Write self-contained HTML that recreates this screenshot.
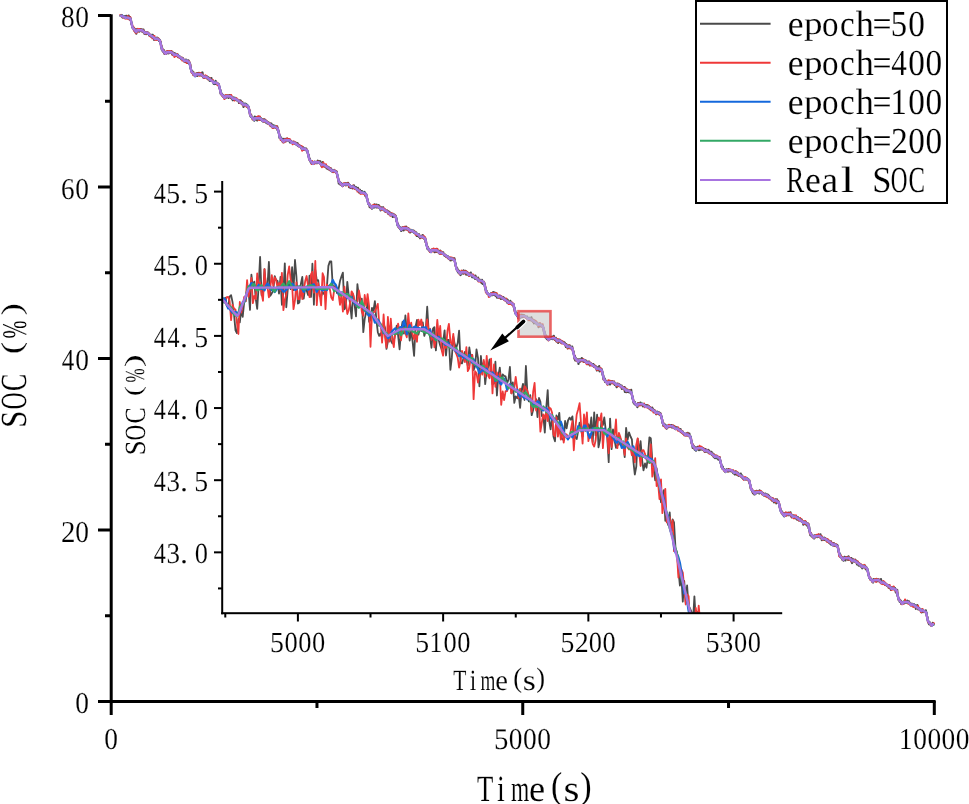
<!DOCTYPE html><html><head><meta charset="utf-8"><style>html,body{margin:0;padding:0;background:#fff;overflow:hidden}svg{display:block}text{font-family:"Liberation Serif",serif;fill:#000;text-rendering:geometricPrecision;stroke:#fff;stroke-width:0.15px}svg{will-change:transform}</style></head><body>
<svg width="969" height="804" viewBox="0 0 969 804">
<rect width="969" height="804" fill="#fff"/>
<path d="M120.2 15.5l0.3 0.4l0.3 -0.4l0.4 -0.4l0.3 0.5l0.3 -0.4l0.3 1.1l0.4 1.2l0.3 -1.5l0.3 0l0.4 1.1l0.3 0l0.3 -0.1l0.4 -0.8l0.3 1.1l0.3 0.9l0.3 -1.6l0.4 0.7l0.3 -1.4l0.3 0.5l0.4 -0.5l0.3 1.5l0.3 -1l0.3 1.5l0.4 0l0.3 -0.2l0.3 -2l0.4 1.9l0.3 0.6l0.3 0.2l0.3 -1.3l0.4 1l0.3 0.7l0.3 1.6l0.4 3.1l0.3 -0.3l0.3 2.2l0.4 2.2l0.3 -0.5l0.3 0.9l0.3 0.5l0.4 0.4l0.3 -0.8l0.3 1.6l0.4 1.5l0.3 -2.2l0.3 2.5l0.3 -0.2l0.4 -0.3l0.3 2.7l0.3 -2l0.4 -2.6l0.3 1.2l0.3 0.4l0.4 -0.7l0.3 0.8l0.3 -0.6l0.3 0.6l0.4 0.7l0.3 -1.9l0.3 0.8l0.4 -0.6l0.3 0.5l0.3 -1.2l0.3 0.6l0.4 0.3l0.3 1.2l0.3 0.4l0.4 -2l0.3 0.7l0.3 1.5l0.3 -2.1l0.4 1.6l0.3 0.8l0.3 1.7l0.4 -0.1l0.3 -1.1l0.3 -0.2l0.4 0.1l0.3 1.6l0.3 -1.8l0.3 0.1l0.4 0.8l0.3 -0.2l0.3 0.2l0.4 -0.6l0.3 1.2l0.3 -0.2l0.3 1.7l0.4 -0.2l0.3 -0.4l0.3 0.8l0.4 -0.6l0.3 1.4l0.3 -0.7l0.3 0.8l0.4 -1.5l0.3 1.7l0.3 -1.6l0.4 -0.1l0.3 1.8l0.3 -0.3l0.4 1.2l0.3 2.2l0.3 -2.3l0.3 0.7l0.4 1l0.3 0.1l0.3 -0.8l0.4 0l0.3 0.8l0.3 -0.2l0.3 -1.4l0.4 1.1l0.3 0.3l0.3 -0.8l0.4 1.5l0.3 -0.8l0.3 1.8l0.4 -0.4l0.3 0.1l0.3 -0.1l0.3 1.9l0.4 -0.3l0.3 2.2l0.3 2.8l0.4 -0.8l0.3 4l0.3 -1.9l0.3 2.6l0.4 -1l0.3 1.8l0.3 -0.2l0.4 -1.1l0.3 2.9l0.3 0.6l0.3 -1l0.4 0.2l0.3 0.5l0.3 -1l0.4 1l0.3 -1.9l0.3 0.5l0.4 -0.7l0.3 0.1l0.3 -0.5l0.3 2.2l0.4 -1.2l0.3 1l0.3 -0.9l0.4 -0.6l0.3 0.3l0.3 -0.2l0.3 0.5l0.4 -0.3l0.3 0.1l0.3 -0.8l0.4 0.8l0.3 2.4l0.3 -1.9l0.4 -0.1l0.3 1.5l0.3 1.3l0.3 -2.1l0.4 1.6l0.3 -0.3l0.3 -1.2l0.4 2.1l0.3 -0.6l0.3 0l0.3 -0.7l0.4 1.2l0.3 -0.7l0.3 0.6l0.4 -0.7l0.3 0.2l0.3 2.5l0.3 -1.4l0.4 0.9l0.3 0l0.3 -0.2l0.4 0.2l0.3 1.2l0.3 -0.6l0.4 0.4l0.3 0.4l0.3 1.2l0.3 -0.2l0.4 0l0.3 -0.6l0.3 -0.5l0.4 2.3l0.3 0.2l0.3 -0.5l0.3 1.1l0.4 0.7l0.3 -0.1l0.3 -0.1l0.4 -1.3l0.3 1.8l0.3 -2.5l0.3 1.9l0.4 -0.2l0.3 0.5l0.3 1.2l0.4 -0.2l0.3 -2.1l0.3 -0.3l0.4 2.5l0.3 -1.4l0.3 1.1l0.3 1.9l0.4 -0.8l0.3 1l0.3 3.6l0.4 1.2l0.3 1.2l0.3 1.1l0.3 -0.4l0.4 -0.2l0.3 1.6l0.3 -0.4l0.4 -0.2l0.3 2.3l0.3 -0.1l0.4 0.8l0.3 -0.8l0.3 0.6l0.3 0.1l0.4 -0.8l0.3 0.2l0.3 -0.9l0.4 1l0.3 0l0.3 1.5l0.3 -3l0.4 2l0.3 -0.9l0.3 0.1l0.4 -1.3l0.3 0.9l0.3 1.1l0.3 -0.8l0.4 0.2l0.3 -0.4l0.3 1.5l0.4 -0.9l0.3 -1.7l0.3 1.6l0.4 -0.9l0.3 -1l0.3 2.7l0.3 2.2l0.4 -0.7l0.3 -0.7l0.3 0l0.4 1.7l0.3 -0.9l0.3 -0.1l0.3 -0.1l0.4 0.1l0.3 0.9l0.3 0l0.4 -0.1l0.3 -0.9l0.3 1.6l0.3 -0.8l0.4 1.8l0.3 -1.9l0.3 1.3l0.4 0.3l0.3 -0.9l0.3 2.9l0.4 0l0.3 -1.5l0.3 1.4l0.3 -0.2l0.4 -2.4l0.3 2.8l0.3 -0.1l0.4 0.4l0.3 -0.8l0.3 1.1l0.3 0.5l0.4 1.7l0.3 -0.5l0.3 -0.5l0.4 1.2l0.3 -1.9l0.3 0.2l0.4 -1.3l0.3 3l0.3 -0.3l0.3 0.2l0.4 0l0.3 -0.3l0.3 0.3l0.4 -0.2l0.3 0.3l0.3 0.5l0.3 1.8l0.4 0.6l0.3 0.8l0.3 1l0.4 1.4l0.3 3.5l0.3 0.3l0.3 0l0.4 0l0.3 -0.3l0.3 1.4l0.4 1.2l0.3 -0.8l0.3 0.6l0.4 0.4l0.3 0.6l0.3 -1.1l0.3 1.6l0.4 -0.8l0.3 0.7l0.3 -1.9l0.4 1.2l0.3 0.9l0.3 -1.7l0.3 -0.2l0.4 0.7l0.3 -0.2l0.3 -0.9l0.4 1.3l0.3 1.4l0.3 -2l0.4 0l0.3 -0.8l0.3 1.3l0.3 -1.4l0.4 0.3l0.3 2.4l0.3 -1.7l0.4 2l0.3 0.6l0.3 -0.9l0.3 0.6l0.4 1.8l0.3 -1.5l0.3 -0.3l0.4 -0.9l0.3 1.2l0.3 1.3l0.3 -0.5l0.4 -1.7l0.3 0.2l0.3 0.5l0.4 1l0.3 -0.3l0.3 0.7l0.4 0.3l0.3 -0.4l0.3 0.5l0.3 0.5l0.4 -0.1l0.3 0.8l0.3 1.4l0.4 -0.9l0.3 -0.2l0.3 -1.4l0.3 2.1l0.4 -1.9l0.3 0.8l0.3 2.2l0.4 0.1l0.3 -0.5l0.3 -1.2l0.3 1.7l0.4 0.2l0.3 1.6l0.3 1.4l0.4 -2l0.3 -1l0.3 -0.3l0.4 1l0.3 -0.1l0.3 -0.8l0.3 1.3l0.4 -0.9l0.3 2.3l0.3 0.2l0.4 0.2l0.3 -1.2l0.3 1.1l0.3 -0.3l0.4 0.9l0.3 1.5l0.3 0.5l0.4 1.4l0.3 3.4l0.3 0.6l0.4 1.1l0.3 1.1l0.3 -2l0.3 1.2l0.4 1.3l0.3 0.5l0.3 -0.3l0.4 1.7l0.3 -0.4l0.3 -0.9l0.3 0.7l0.4 1.9l0.3 -1.1l0.3 -3l0.4 2.9l0.3 -0.7l0.3 0.7l0.3 -1.5l0.4 0l0.3 -0.7l0.3 3.3l0.4 -2.5l0.3 1.6l0.3 -2l0.4 0.7l0.3 -1.6l0.3 1.1l0.3 1.3l0.4 -1.9l0.3 2.3l0.3 -0.4l0.4 -1l0.3 0.7l0.3 0.3l0.3 0.5l0.4 0.1l0.3 0.2l0.3 0.9l0.4 -0.9l0.3 -0.4l0.3 1.1l0.3 0.9l0.4 -2.2l0.3 1.4l0.3 -0.4l0.4 -0.1l0.3 1.9l0.3 -1l0.4 2l0.3 -1.8l0.3 1.3l0.3 -0.4l0.4 -0.2l0.3 1.4l0.3 -0.4l0.4 0.9l0.3 -0.3l0.3 -0.8l0.3 1.2l0.4 0.3l0.3 1.1l0.3 -1.5l0.4 1l0.3 -1.3l0.3 2.4l0.4 -1.2l0.3 -0.2l0.3 2.1l0.3 1.3l0.4 -2.6l0.3 0.2l0.3 0.3l0.4 -0.3l0.3 1.4l0.3 -1.1l0.3 0.3l0.4 1.4l0.3 -1l0.3 1.3l0.4 -1.1l0.3 0.1l0.3 -0.4l0.3 3.6l0.4 -1.5l0.3 2l0.3 1.2l0.4 1.6l0.3 1.3l0.3 3.1l0.4 -1.3l0.3 -0.1l0.3 0.9l0.3 0.1l0.4 2.3l0.3 0.4l0.3 -1.2l0.4 0l0.3 1.3l0.3 2l0.3 -3.4l0.4 3.4l0.3 -1.7l0.3 1l0.4 -2.3l0.3 0.7l0.3 -1.1l0.4 0.5l0.3 2.1l0.3 -0.5l0.3 -1.1l0.4 -0.4l0.3 -0.9l0.3 1.3l0.4 0.4l0.3 -0.1l0.3 0l0.3 -0.9l0.4 0.9l0.3 0.3l0.3 1.4l0.4 0.8l0.3 -1.6l0.3 -0.3l0.3 0.8l0.4 -0.1l0.3 0.3l0.3 1.2l0.4 -0.9l0.3 1.3l0.3 -0.7l0.4 0.3l0.3 -0.4l0.3 -0.5l0.3 -0.1l0.4 0.9l0.3 -0.1l0.3 0.9l0.4 0l0.3 -0.9l0.3 1.5l0.3 -1.1l0.4 0.9l0.3 0.5l0.3 -1.3l0.4 2.1l0.3 0.3l0.3 0l0.3 0l0.4 0.2l0.3 -0.3l0.3 0.9l0.4 0l0.3 0.8l0.3 -1l0.4 1.6l0.3 0.3l0.3 0.3l0.3 0.2l0.4 0.8l0.3 -2.2l0.3 1.8l0.4 -0.2l0.3 0.1l0.3 0.1l0.3 -0.9l0.4 0.6l0.3 1l0.3 0.1l0.4 0l0.3 -1.3l0.3 2l0.4 0.8l0.3 0.1l0.3 0.4l0.3 -0.1l0.4 3.7l0.3 0.4l0.3 -0.7l0.4 4.1l0.3 -0.9l0.3 0.6l0.3 0.9l0.4 2.1l0.3 -1l0.3 0.9l0.4 1.7l0.3 0.3l0.3 -1.2l0.3 0.3l0.4 -0.5l0.3 0.9l0.3 0.1l0.4 -0.9l0.3 -0.2l0.3 0.8l0.4 -1.6l0.3 0.6l0.3 0.7l0.3 -0.1l0.4 0.4l0.3 -0.6l0.3 -0.6l0.4 0.6l0.3 -1.2l0.3 -0.6l0.3 2l0.4 -0.6l0.3 0.5l0.3 -1.6l0.4 1.4l0.3 0.1l0.3 -0.1l0.3 -1l0.4 2l0.3 1.6l0.3 0l0.4 -0.5l0.3 0.3l0.3 0.5l0.4 -3.1l0.3 2.3l0.3 0.6l0.3 0.2l0.4 1.1l0.3 -0.3l0.3 -0.5l0.4 0.2l0.3 0.7l0.3 -1l0.3 0.7l0.4 1.1l0.3 1.1l0.3 -1.6l0.4 0.3l0.3 0.4l0.3 1.3l0.4 -1l0.3 1.6l0.3 -2l0.3 0.9l0.4 0.2l0.3 1.2l0.3 0.4l0.4 -2l0.3 0.9l0.3 1.5l0.3 -0.4l0.4 -0.5l0.3 2.1l0.3 -0.6l0.4 0l0.3 -0.9l0.3 1.3l0.3 -1.1l0.4 1.4l0.3 -1.6l0.3 0.3l0.4 1.2l0.3 -0.6l0.3 1.4l0.4 -0.1l0.3 -0.8l0.3 1.4l0.3 1l0.4 2.6l0.3 0l0.3 1.7l0.4 2.9l0.3 2.3l0.3 0.1l0.3 -1.3l0.4 0.5l0.3 1.6l0.3 -1.1l0.4 -0.4l0.3 1.4l0.3 0.6l0.4 -0.7l0.3 -0.4l0.3 0.6l0.3 1.7l0.4 -2.2l0.3 0.2l0.3 0.3l0.4 0.3l0.3 -0.8l0.3 0.7l0.3 -1.2l0.4 0.5l0.3 -0.6l0.3 1.9l0.4 -1.1l0.3 -0.6l0.3 0.4l0.3 0.1l0.4 0.8l0.3 -2l0.3 0.7l0.4 0.8l0.3 2.9l0.3 -1.2l0.4 -0.8l0.3 1l0.3 1.5l0.3 -1.5l0.4 0.4l0.3 1.4l0.3 -0.8l0.4 0.1l0.3 -1.1l0.3 2.2l0.3 -0.2l0.4 -1l0.3 0.4l0.3 -2.2l0.4 2.6l0.3 -0.5l0.3 0.8l0.3 0.4l0.4 -0.7l0.3 -1l0.3 2.1l0.4 -0.8l0.3 0.6l0.3 0l0.4 0.5l0.3 -1.6l0.3 3.4l0.3 -0.6l0.4 1l0.3 1l0.3 -1.5l0.4 -1.4l0.3 1l0.3 0.2l0.3 1.1l0.4 1l0.3 -1.9l0.3 1.9l0.4 -1.8l0.3 1.7l0.3 -0.4l0.4 -0.2l0.3 0.3l0.3 -0.2l0.3 0.2l0.4 -0.7l0.3 1.7l0.3 1.9l0.4 0.3l0.3 -0.3l0.3 -0.4l0.3 -0.1l0.4 3.4l0.3 0l0.3 1.5l0.4 1.2l0.3 1.8l0.3 0.3l0.3 0.7l0.4 -0.5l0.3 1.1l0.3 2.7l0.4 -1.7l0.3 0.2l0.3 1.1l0.4 0.6l0.3 -1.3l0.3 1.2l0.3 1.4l0.4 -1.4l0.3 -1l0.3 1.3l0.4 -2l0.3 0.7l0.3 -0.6l0.3 1.8l0.4 -3.1l0.3 1.2l0.3 0.1l0.4 1.1l0.3 -0.1l0.3 0.7l0.3 -2.7l0.4 2.1l0.3 -0.9l0.3 -0.2l0.4 1.3l0.3 -1.1l0.3 -0.8l0.4 1.8l0.3 -0.8l0.3 1l0.3 1.4l0.4 0.4l0.3 1.5l0.3 -1.8l0.4 -1.3l0.3 0.7l0.3 -0.2l0.3 -0.3l0.4 1.5l0.3 -0.7l0.3 -1l0.4 2.6l0.3 -0.5l0.3 0.7l0.4 0l0.3 0.7l0.3 -0.3l0.3 1.3l0.4 -0.5l0.3 0.2l0.3 0.2l0.4 -1.4l0.3 1.4l0.3 0.1l0.3 0.6l0.4 -1.1l0.3 2.9l0.3 -1.2l0.4 -0.9l0.3 -0.2l0.3 1.6l0.3 0.7l0.4 -0.1l0.3 0.9l0.3 -0.8l0.4 0.9l0.3 -1.2l0.3 0.7l0.4 0.9l0.3 1.4l0.3 -3l0.3 0.7l0.4 -0.1l0.3 1.7l0.3 -1.5l0.4 0.8l0.3 0.6l0.3 -0.6l0.3 0.5l0.4 1.9l0.3 0l0.3 2l0.4 2.4l0.3 1.9l0.3 1.1l0.4 -1.1l0.3 1.6l0.3 1.5l0.3 0.2l0.4 -0.2l0.3 -0.3l0.3 1.7l0.4 -0.7l0.3 -0.1l0.3 0.7l0.3 2.4l0.4 -1.4l0.3 0l0.3 -1.9l0.4 1.3l0.3 -1.4l0.3 0.4l0.3 2.4l0.4 -1.5l0.3 -1.2l0.3 0.4l0.4 0.4l0.3 0.8l0.3 -1.6l0.4 -1.1l0.3 1.3l0.3 0.3l0.3 0.1l0.4 1.3l0.3 -0.7l0.3 0.7l0.4 -1.5l0.3 2l0.3 1.3l0.3 -0.8l0.4 0l0.3 0.4l0.3 1.5l0.4 -2.6l0.3 0.6l0.3 0.5l0.3 0.3l0.4 -1.1l0.3 0.8l0.3 -0.3l0.4 0.6l0.3 0l0.3 -0.7l0.4 1.2l0.3 1.1l0.3 -1.5l0.3 0.9l0.4 1.1l0.3 -1.4l0.3 1.4l0.4 -0.9l0.3 2.2l0.3 1.3l0.3 0l0.4 -1.8l0.3 1.1l0.3 -0.4l0.4 0.2l0.3 1.6l0.3 -2.4l0.4 2.6l0.3 -0.5l0.3 1.8l0.3 -1.2l0.4 -0.9l0.3 0.7l0.3 0.5l0.4 -0.7l0.3 0.4l0.3 -0.8l0.3 -1.2l0.4 2.9l0.3 0.1l0.3 -0.3l0.4 0.2l0.3 1.1l0.3 -1.2l0.3 0l0.4 1.6l0.3 2.7l0.3 -0.9l0.4 3.8l0.3 -0.2l0.3 1l0.4 3l0.3 -0.9l0.3 -0.7l0.3 1.3l0.4 1.5l0.3 0.6l0.3 -1l0.4 1.1l0.3 0.7l0.3 -0.9l0.3 1.3l0.4 0l0.3 -1.3l0.3 -0.8l0.4 0.5l0.3 0l0.3 -0.5l0.3 0.1l0.4 1.4l0.3 -0.8l0.3 0.6l0.4 0.2l0.3 -0.5l0.3 1.5l0.4 -2.8l0.3 1.5l0.3 -1l0.3 1.9l0.4 0l0.3 -3l0.3 1.1l0.4 1.7l0.3 0.3l0.3 0.2l0.3 -0.5l0.4 0.9l0.3 0.7l0.3 -0.3l0.4 0.8l0.3 -3.1l0.3 2.6l0.4 -1.5l0.3 1.8l0.3 -1.1l0.3 -0.4l0.4 1.4l0.3 -0.9l0.3 0.2l0.4 -0.4l0.3 1.6l0.3 0.7l0.3 0.7l0.4 -0.8l0.3 1.3l0.3 -0.7l0.4 0.2l0.3 0.8l0.3 0.6l0.3 -1l0.4 0.3l0.3 0.3l0.3 0.5l0.4 -0.7l0.3 2l0.3 -1.1l0.4 1.2l0.3 -0.7l0.3 1.5l0.3 0.3l0.4 -0.9l0.3 2l0.3 -1.5l0.4 1.3l0.3 -0.7l0.3 -1.5l0.3 0.5l0.4 0.9l0.3 -0.1l0.3 0.2l0.4 -0.1l0.3 -1.1l0.3 1.6l0.4 -1.5l0.3 2.8l0.3 0.5l0.3 1.4l0.4 1.9l0.3 1.9l0.3 -0.1l0.4 1.1l0.3 1l0.3 -0.5l0.3 1.3l0.4 2.7l0.3 -2l0.3 1.9l0.4 -1.4l0.3 1.9l0.3 -0.2l0.3 0.6l0.4 1l0.3 0.8l0.3 -2.3l0.4 -0.4l0.3 -1l0.3 1.4l0.4 -0.8l0.3 1l0.3 -0.8l0.3 1.6l0.4 -3.3l0.3 1.5l0.3 1l0.4 -1.1l0.3 -0.4l0.3 0.5l0.3 -1l0.4 1.4l0.3 2.3l0.3 -0.9l0.4 -1.8l0.3 0.4l0.3 0.6l0.3 1.5l0.4 -1.3l0.3 0.7l0.3 1.9l0.4 0l0.3 -1.3l0.3 -0.8l0.4 -0.4l0.3 0.8l0.3 -1.4l0.3 2.8l0.4 -1l0.3 1.2l0.3 1.5l0.4 -0.4l0.3 -1.9l0.3 2.1l0.3 0.4l0.4 -1.4l0.3 0l0.3 1l0.4 -1.1l0.3 3l0.3 -3.3l0.4 1.4l0.3 1l0.3 0.3l0.3 0.5l0.4 0.4l0.3 -0.2l0.3 1.4l0.4 -2.7l0.3 2.4l0.3 -0.2l0.3 1.2l0.4 0l0.3 -1.2l0.3 0.2l0.4 1.3l0.3 -0.4l0.3 -0.9l0.3 2.5l0.4 0.5l0.3 -3.2l0.3 1.8l0.4 2.2l0.3 -1.3l0.3 -0.3l0.4 -0.1l0.3 -0.1l0.3 1.4l0.3 1.1l0.4 2.6l0.3 0.5l0.3 1.3l0.4 0.8l0.3 1.9l0.3 -0.4l0.3 1l0.4 1.5l0.3 -0.2l0.3 0.5l0.4 0.3l0.3 0.1l0.3 0.2l0.3 0.2l0.4 1.4l0.3 -1.3l0.3 1.3l0.4 -2l0.3 -0.7l0.3 0.2l0.4 -0.2l0.3 0.8l0.3 -0.8l0.3 1.7l0.4 -1.8l0.3 -1.3l0.3 1.4l0.4 -1.2l0.3 1.8l0.3 1l0.3 -0.4l0.4 -1.8l0.3 0.7l0.3 2.5l0.4 -1.1l0.3 0l0.3 1.1l0.4 1.5l0.3 -0.8l0.3 -0.6l0.3 0.7l0.4 0.6l0.3 -1.2l0.3 -0.6l0.4 1l0.3 -0.9l0.3 0.8l0.3 0.1l0.4 2.2l0.3 -2.6l0.3 0.9l0.4 0.2l0.3 0.7l0.3 0.8l0.3 -1.2l0.4 0l0.3 -0.5l0.3 0.8l0.4 1.6l0.3 -0.2l0.3 -0.8l0.4 0.8l0.3 0.6l0.3 0.7l0.3 -0.8l0.4 0.6l0.3 -1.2l0.3 0.8l0.4 2.7l0.3 -3l0.3 2.1l0.3 1l0.4 -0.3l0.3 -0.6l0.3 0.5l0.4 0.1l0.3 -0.1l0.3 -1.6l0.4 1.5l0.3 -0.4l0.3 0.5l0.3 0.9l0.4 0.6l0.3 0.5l0.3 -1l0.4 1.5l0.3 0.4l0.3 0.5l0.3 1.7l0.4 0l0.3 1.4l0.3 2.4l0.4 -0.6l0.3 2.8l0.3 -0.3l0.3 0.6l0.4 -0.9l0.3 1.2l0.3 1.1l0.4 1.2l0.3 0.5l0.3 -0.6l0.4 0.3l0.3 -0.2l0.3 1.5l0.3 -0.8l0.4 -0.1l0.3 0.6l0.3 -1.6l0.4 -1.3l0.3 0.6l0.3 -0.6l0.3 0.3l0.4 2.2l0.3 -1l0.3 -1.5l0.4 1.9l0.3 0.6l0.3 -1.5l0.3 -0.3l0.4 0.3l0.3 0.6l0.3 0.6l0.4 0.7l0.3 0.2l0.3 0.2l0.4 0.4l0.3 -0.4l0.3 -1.6l0.3 1.7l0.4 1l0.3 -0.7l0.3 1l0.4 -1.2l0.3 -0.5l0.3 2.1l0.3 -0.7l0.4 -0.3l0.3 0.9l0.3 0.3l0.4 -0.4l0.3 -2.3l0.3 1.8l0.4 0.5l0.3 -0.3l0.3 1.3l0.3 1.1l0.4 -1.3l0.3 -0.3l0.3 3.1l0.4 -2l0.3 -0.5l0.3 1.5l0.3 0.4l0.4 -0.8l0.3 1.6l0.3 -0.9l0.4 -0.2l0.3 1.3l0.3 1l0.3 -0.8l0.4 1.3l0.3 -0.4l0.3 2.4l0.4 -3.3l0.3 1.9l0.3 -1.3l0.4 0l0.3 0.8l0.3 0.4l0.3 0.6l0.4 -0.7l0.3 -0.6l0.3 0.3l0.4 1.2l0.3 0.3l0.3 0.9l0.3 0.3l0.4 2l0.3 1.8l0.3 0.2l0.4 0l0.3 1.7l0.3 0.6l0.3 3.1l0.4 -1.8l0.3 2.3l0.3 -0.2l0.4 1.4l0.3 -0.3l0.3 -0.6l0.4 0.3l0.3 0.7l0.3 0.4l0.3 -0.2l0.4 -0.4l0.3 0.6l0.3 -3l0.4 1.8l0.3 -1.1l0.3 1l0.3 0.6l0.4 -0.8l0.3 0.7l0.3 -2.1l0.4 2.4l0.3 -1.5l0.3 1.1l0.4 -0.4l0.3 -2.5l0.3 1.6l0.3 1.1l0.4 1.4l0.3 -0.9l0.3 0.2l0.4 -1.3l0.3 2.8l0.3 0.6l0.3 -1.2l0.4 0.3l0.3 -0.9l0.3 2.1l0.4 1.4l0.3 -1.7l0.3 0.4l0.3 -0.6l0.4 -1.4l0.3 2.3l0.3 -2.1l0.4 1.2l0.3 0.6l0.3 0.8l0.4 -0.2l0.3 0.2l0.3 -0.8l0.3 -0.2l0.4 1.4l0.3 -0.5l0.3 -0.3l0.4 0.3l0.3 0.9l0.3 -1l0.3 0.7l0.4 0l0.3 1.9l0.3 0.4l0.4 1.7l0.3 -3l0.3 1.1l0.4 1.9l0.3 -0.5l0.3 0.1l0.3 1.7l0.4 -2l0.3 -0.8l0.3 -0.1l0.4 1.5l0.3 -0.1l0.3 -1.3l0.3 0.6l0.4 1.6l0.3 0.3l0.3 -0.9l0.4 1.4l0.3 0.1l0.3 -1.9l0.3 1.9l0.4 2.1l0.3 0.5l0.3 0.1l0.4 3.1l0.3 2.3l0.3 2.1l0.4 -3l0.3 4.7l0.3 -3l0.3 2.3l0.4 0.6l0.3 0.2l0.3 -0.4l0.4 -0.8l0.3 2l0.3 -0.8l0.3 -1.2l0.4 4.6l0.3 -2.8l0.3 0.6l0.4 -2.5l0.3 2.2l0.3 0.1l0.3 -0.1l0.4 -1.4l0.3 -1l0.3 0.9l0.4 -1.9l0.3 0.5l0.3 1.6l0.4 -1l0.3 0.8l0.3 0l0.3 1.9l0.4 -0.4l0.3 -0.9l0.3 1.3l0.4 -1.5l0.3 0.6l0.3 1.3l0.3 -1.6l0.4 1.4l0.3 -0.4l0.3 1.3l0.4 1.2l0.3 -2.3l0.3 0.9l0.4 -1l0.3 -0.2l0.3 0l0.3 2.6l0.4 1.1l0.3 -1.5l0.3 -0.8l0.4 1.5l0.3 -0.7l0.3 1.2l0.3 -0.2l0.4 0.2l0.3 0.5l0.3 -0.8l0.4 0.4l0.3 -1l0.3 1.4l0.3 -0.7l0.4 1.4l0.3 -0.5l0.3 1.2l0.4 0.5l0.3 -1.4l0.3 0.8l0.4 0.3l0.3 2l0.3 1.3l0.3 -0.8l0.4 -1.3l0.3 1.6l0.3 -2.7l0.4 2.7l0.3 -1.9l0.3 -1.8l0.3 5.1l0.4 -0.8l0.3 -2.1l0.3 1.3l0.4 -0.1l0.3 0.5l0.3 -1.2l0.3 0.9l0.4 2.2l0.3 1.2l0.3 2.3l0.4 0.5l0.3 3.4l0.3 -1.3l0.4 1.7l0.3 -1.5l0.3 0.9l0.3 2.7l0.4 -1.6l0.3 1.7l0.3 -0.1l0.4 -0.5l0.3 1l0.3 0.2l0.3 0.4l0.4 1.5l0.3 -0.9l0.3 -2l0.4 -0.3l0.3 1.1l0.3 -0.4l0.4 1.1l0.3 1.4l0.3 -1.6l0.3 -0.8l0.4 -0.1l0.3 -0.6l0.3 -0.1l0.4 -0.1l0.3 0.6l0.3 -0.1l0.3 1.1l0.4 -0.9l0.3 0.4l0.3 -0.7l0.4 2.8l0.3 -0.8l0.3 1.4l0.3 -0.7l0.4 1.1l0.3 -1l0.3 1.2l0.4 1.6l0.3 -3.7l0.3 2.2l0.4 0.4l0.3 -1.1l0.3 0.3l0.3 0.6l0.4 -1.5l0.3 1.2l0.3 -0.9l0.4 0.4l0.3 0.3l0.3 0.6l0.3 0.5l0.4 0.5l0.3 -1.5l0.3 3.4l0.4 -0.5l0.3 -0.2l0.3 -0.8l0.4 0.5l0.3 0.8l0.3 0.1l0.3 -1.7l0.4 2.5l0.3 2.2l0.3 -4.1l0.4 2.9l0.3 -0.1l0.3 0.1l0.3 1.6l0.4 -2.6l0.3 1.1l0.3 1.2l0.4 -1.5l0.3 -0.2l0.3 0.5l0.3 -0.3l0.4 2l0.3 -2l0.3 1.8l0.4 -1.7l0.3 2l0.3 -0.5l0.4 -2.1l0.3 3l0.3 0.4l0.3 2l0.4 3.3l0.3 -1l0.3 1.5l0.4 3.6l0.3 -0.8l0.3 1.7l0.3 -0.7l0.4 -0.8l0.3 1.2l0.3 1.5l0.4 0.2l0.3 -0.5l0.3 0.4l0.3 0.3l0.4 -0.1l0.3 2.1l0.3 -2.7l0.4 -1.4l0.3 0.6l0.3 1.1l0.4 -0.1l0.3 -0.7l0.3 -0.5l0.3 0.6l0.4 -1.5l0.3 0.3l0.3 2l0.4 -1.2l0.3 0.8l0.3 0.7l0.3 -0.5l0.4 -0.5l0.3 2.1l0.3 -1.1l0.4 -0.7l0.3 1.2l0.3 0l0.4 -1l0.3 1.2l0.3 0.3l0.3 -1.2l0.4 1.7l0.3 -0.3l0.3 -0.2l0.4 -1.1l0.3 1.2l0.3 0.2l0.3 0.3l0.4 -0.9l0.3 1.8l0.3 -1.5l0.4 1.2l0.3 1.6l0.3 -1.6l0.3 0.4l0.4 1.7l0.3 -1.1l0.3 0.3l0.4 0.7l0.3 1l0.3 -2.8l0.4 1.5l0.3 0.1l0.3 0.1l0.3 0.5l0.4 0.2l0.3 1.3l0.3 -0.9l0.4 1.2l0.3 0.7l0.3 -0.5l0.3 1.2l0.4 1.3l0.3 -1.4l0.3 -0.9l0.4 0.5l0.3 -0.8l0.3 1.1l0.3 0.6l0.4 -1.3l0.3 0.8l0.3 1.4l0.4 -1.2l0.3 0.8l0.3 -0.9l0.4 0.5l0.3 0.5l0.3 3.5l0.3 -0.9l0.4 1.4l0.3 1.4l0.3 1.8l0.4 2.1l0.3 0.5l0.3 2l0.3 -1.3l0.4 1.5l0.3 -0.6l0.3 0.7l0.4 -1.5l0.3 1.6l0.3 0.4l0.4 0.2l0.3 -1.3l0.3 3.1l0.3 -2l0.4 -0.9l0.3 0.2l0.3 0l0.4 0.6l0.3 -1.5l0.3 0.3l0.3 1.1l0.4 -0.1l0.3 -0.5l0.3 -0.2l0.4 -0.2l0.3 0.7l0.3 1.1l0.3 -2l0.4 2.3l0.3 -0.5l0.3 -0.9l0.4 1.3l0.3 -1.8l0.3 0l0.4 0.6l0.3 1.1l0.3 0.5l0.3 0.3l0.4 0.9l0.3 -2.1l0.3 2.1l0.4 -1.7l0.3 0.7l0.3 0.2l0.3 -0.7l0.4 0l0.3 0.6l0.3 1.1l0.4 0.8l0.3 0.2l0.3 -1.2l0.4 0.4l0.3 0.2l0.3 1.4l0.3 -2l0.4 3.2l0.3 -1.3l0.3 -0.1l0.4 1.3l0.3 0.8l0.3 -0.4l0.3 0.9l0.4 -0.6l0.3 1.2l0.3 0.2l0.4 -0.9l0.3 1.7l0.3 -0.7l0.3 0.4l0.4 -0.6l0.3 0.4l0.3 0.7l0.4 -1.8l0.3 1.7l0.3 -0.2l0.4 -0.1l0.3 -2l0.3 2.1l0.3 0.9l0.4 -1.1l0.3 1l0.3 -2l0.4 3l0.3 -1l0.3 1.9l0.3 -1l0.4 3.7l0.3 0.6l0.3 2.4l0.4 -0.1l0.3 1.6l0.3 3l0.3 -2.4l0.4 0.5l0.3 0.8l0.3 -0.3l0.4 2.4l0.3 0.8l0.3 -1.8l0.4 -0.5l0.3 3l0.3 0.3l0.3 -0.5l0.4 -0.5l0.3 -2.3l0.3 0.7l0.4 -1.1l0.3 -0.1l0.3 2.2l0.3 -1.5l0.4 2.7l0.3 -2l0.3 -0.7l0.4 1.3l0.3 0.9l0.3 -1.2l0.4 -1.5l0.3 1.4l0.3 1l0.3 -1.5l0.4 0l0.3 1.8l0.3 -0.5l0.4 -0.9l0.3 0.9l0.3 0l0.3 1.4l0.4 0.3l0.3 1l0.3 -0.6l0.4 -2.1l0.3 1.8l0.3 0.4l0.3 -0.4l0.4 0.6l0.3 -1.2l0.3 -0.1l0.4 1.9l0.3 -1.6l0.3 -0.7l0.4 3.1l0.3 -1.4l0.3 0.6l0.3 -0.7l0.4 0.3l0.3 0.3l0.3 1l0.4 0.9l0.3 -2.2l0.3 3l0.3 -1.5l0.4 0.3l0.3 1.8l0.3 -0.5l0.4 -1.1l0.3 3.3l0.3 -1.9l0.3 1.4l0.4 0.5l0.3 1l0.3 -1.9l0.4 1.2l0.3 -1.5l0.3 1.7l0.4 -1.7l0.3 0.4l0.3 2.3l0.3 -1.2l0.4 0l0.3 2.2l0.3 -1.5l0.4 -0.9l0.3 1.7l0.3 -1.5l0.3 3.2l0.4 1.5l0.3 -0.2l0.3 1.4l0.4 2.2l0.3 1.3l0.3 -0.1l0.4 1.8l0.3 -2l0.3 1.8l0.3 0.5l0.4 0.5l0.3 0.9l0.3 -1l0.4 2l0.3 -0.3l0.3 0l0.3 -0.3l0.4 -0.7l0.3 0.5l0.3 -1.1l0.4 0.9l0.3 0.9l0.3 -0.1l0.3 0.5l0.4 -1.7l0.3 -0.7l0.3 1.9l0.4 -0.6l0.3 0.7l0.3 -1l0.4 1.1l0.3 -0.3l0.3 -0.2l0.3 0l0.4 0.1l0.3 0.1l0.3 0.2l0.4 0.9l0.3 -1.1l0.3 2.3l0.3 -1.2l0.4 1.5l0.3 -0.6l0.3 -0.4l0.4 1.9l0.3 -2.1l0.3 -0.9l0.4 0.5l0.3 0.4l0.3 2.4l0.3 -1.5l0.4 0.9l0.3 -1.5l0.3 1.4l0.4 0.5l0.3 1.3l0.3 -2.1l0.3 1.4l0.4 0l0.3 -1l0.3 1.2l0.4 0l0.3 -1.7l0.3 2.9l0.3 0.2l0.4 -0.7l0.3 -0.5l0.3 2.7l0.4 -0.8l0.3 0.9l0.3 0.7l0.4 -1.3l0.3 1.7l0.3 -0.7l0.3 0l0.4 -0.2l0.3 0l0.3 1l0.4 -0.9l0.3 -0.2l0.3 0.1l0.3 0.8l0.4 -0.9l0.3 0.6l0.3 0.6l0.4 -0.2l0.3 0.6l0.3 -0.2l0.3 2.8l0.4 0.9l0.3 0.6l0.3 1l0.4 3.5l0.3 -0.3l0.3 1l0.4 0.7l0.3 0.4l0.3 1.4l0.3 -0.9l0.4 2.3l0.3 -2.3l0.3 1.8l0.4 -1.1l0.3 2.9l0.3 -1.6l0.3 0.7l0.4 0.6l0.3 -0.6l0.3 -2.5l0.4 0.7l0.3 -0.9l0.3 1.3l0.4 -0.2l0.3 -0.2l0.3 -0.3l0.3 0.3l0.4 -0.4l0.3 1.2l0.3 0.9l0.4 -3.1l0.3 1.6l0.3 -0.3l0.3 0.9l0.4 -1.1l0.3 0.9l0.3 -0.5l0.4 1.8l0.3 -0.3l0.3 -0.1l0.3 0.9l0.4 -0.1l0.3 -0.7l0.3 2l0.4 -0.5l0.3 -0.5l0.3 1.1l0.4 0.2l0.3 -2.1l0.3 0.4l0.3 2.3l0.4 0.1l0.3 -1.7l0.3 -0.2l0.4 0.7l0.3 0.4l0.3 -0.8l0.3 1.7l0.4 -0.9l0.3 0.2l0.3 2.2l0.4 -1.2l0.3 0.8l0.3 0.8l0.4 0.4l0.3 -0.8l0.3 0.6l0.3 -0.6l0.4 2.6l0.3 -0.8l0.3 -1.3l0.4 1.4l0.3 1.1l0.3 0.3l0.3 1.1l0.4 -0.6l0.3 -1.8l0.3 0.5l0.4 -1.1l0.3 1.4l0.3 0l0.3 2.5l0.4 -2.1l0.3 -1.8l0.3 1.5l0.4 0.9l0.3 -1l0.3 0.6l0.4 0.7l0.3 1.8l0.3 0.9l0.3 0.8l0.4 3l0.3 0.2l0.3 1.5l0.4 0l0.3 0.9l0.3 1.7l0.3 -1.6l0.4 1.7l0.3 1.1l0.3 -0.6l0.4 1l0.3 -0.9l0.3 2.6l0.3 0.2l0.4 -0.4l0.3 -2.6l0.3 -0.2l0.4 1.8l0.3 0.6l0.3 -1.2l0.4 0.8l0.3 -1.6l0.3 0.3l0.3 0.2l0.4 0.4l0.3 -1.8l0.3 2.2l0.4 0.4l0.3 -2.2l0.3 -0.2l0.3 1.5l0.4 -0.8l0.3 -1.3l0.3 3.1l0.4 -0.3l0.3 -0.4l0.3 2.6l0.4 -1.6l0.3 -0.3l0.3 1.3l0.3 -0.7l0.4 0.1l0.3 0.8l0.3 -0.8l0.4 0.1l0.3 1.9l0.3 -0.8l0.3 0.2l0.4 0l0.3 0.2l0.3 1.1l0.4 -1.1l0.3 1.9l0.3 -2.3l0.3 0.8l0.4 -0.8l0.3 1.2l0.3 1l0.4 1.1l0.3 -1.7l0.3 0.8l0.4 -0.1l0.3 -0.1l0.3 -0.2l0.3 1.4l0.4 -1.4l0.3 1.9l0.3 0.2l0.4 -0.3l0.3 0.2l0.3 0.1l0.3 3.2l0.4 -3.1l0.3 2.4l0.3 -0.8l0.4 -0.9l0.3 -0.7l0.3 2l0.3 0.8l0.4 -2.2l0.3 0.8l0.3 1.5l0.4 -0.5l0.3 1.8l0.3 -2.1l0.4 1.2l0.3 -1.1l0.3 4.5l0.3 -1.2l0.4 0.1l0.3 3.4l0.3 1.4l0.4 3.2l0.3 -1.7l0.3 0.7l0.3 1l0.4 1.2l0.3 -1.1l0.3 1.4l0.4 -0.1l0.3 -0.3l0.3 0.7l0.4 0.4l0.3 -0.5l0.3 1.7l0.3 -3.2l0.4 1.9l0.3 -0.2l0.3 -1l0.4 -0.6l0.3 0.5l0.3 0.6l0.3 0.3l0.4 -0.4l0.3 0.6l0.3 -1.4l0.4 0.7l0.3 -1.6l0.3 2.1l0.3 -0.6l0.4 -0.5l0.3 1.7l0.3 -0.2l0.4 -2.9l0.3 2.8l0.3 -1.2l0.4 2.5l0.3 1.7l0.3 -2.3l0.3 1.1l0.4 -0.3l0.3 0.4l0.3 0.1l0.4 0.6l0.3 -2l0.3 2.3l0.3 -2.2l0.4 1.3l0.3 1l0.3 -0.1l0.4 -1.3l0.3 0.5l0.3 0.4l0.4 0.6l0.3 1.3l0.3 -2l0.3 1.8l0.4 0.4l0.3 0.2l0.3 0.1l0.4 1.2l0.3 -0.7l0.3 0.6l0.3 -0.1l0.4 1.4l0.3 -3.1l0.3 3.1l0.4 -1.2l0.3 0.5l0.3 -0.2l0.3 -0.3l0.4 1.2l0.3 -0.4l0.3 1l0.4 -1.8l0.3 2.6l0.3 -1l0.4 -0.4l0.3 -0.2l0.3 0.2l0.3 -0.1l0.4 0.7l0.3 0.7l0.3 0.1l0.4 -0.9l0.3 1.3l0.3 0.5l0.3 2.4l0.4 3l0.3 0.3l0.3 0.6l0.4 0.3l0.3 1l0.3 0.1l0.3 2.6l0.4 -1l0.3 1.2l0.3 -0.3l0.4 1.1l0.3 1.5l0.3 -1.5l0.4 0.7l0.3 0l0.3 1.9l0.3 -2.6l0.4 -0.9l0.3 -0.2l0.3 -0.1l0.4 1.7l0.3 1.9l0.3 -3.2l0.3 1.7l0.4 -0.6l0.3 -1.2l0.3 0.7l0.4 0.1l0.3 -0.4l0.3 2.3l0.4 -3.4l0.3 2l0.3 0.1l0.3 -0.6l0.4 0.9l0.3 0.9l0.3 -0.4l0.4 0.4l0.3 0.5l0.3 -2l0.3 3.7l0.4 1.1l0.3 -1.4l0.3 -0.1l0.4 -2.2l0.3 1.1l0.3 -0.6l0.3 0.2l0.4 1.6l0.3 -1.3l0.3 0.8l0.4 -1.4l0.3 1.8l0.3 0.5l0.4 -0.5l0.3 0.2l0.3 2.6l0.3 -2.6l0.4 0.4l0.3 0.4l0.3 2.1l0.4 1l0.3 -1.4l0.3 -0.7l0.3 0.5l0.4 1.6l0.3 -1.6l0.3 2.4l0.4 0.2l0.3 -0.9l0.3 1l0.3 0.6l0.4 1l0.3 -2.6l0.3 1.9l0.4 -1.4l0.3 -0.4l0.3 0.8l0.4 -0.3l0.3 -0.5l0.3 -0.3l0.3 0.8l0.4 2.4l0.3 0.7l0.3 -1l0.4 0.7l0.3 -1.3l0.3 0.9l0.3 1.8l0.4 0.2l0.3 1.5l0.3 2.4l0.4 1.1l0.3 0.7l0.3 1.7l0.4 -0.2l0.3 1.5l0.3 -0.5l0.3 0.1l0.4 0.8l0.3 0.1l0.3 -0.1l0.4 0.7l0.3 1.4l0.3 0.3l0.3 0.3l0.4 -3.5l0.3 0.7l0.3 0l0.4 0.5l0.3 -0.5l0.3 -0.1l0.3 1.2l0.4 -0.6l0.3 -1.2l0.3 2.3l0.4 -0.3l0.3 -1.4l0.3 1.2l0.4 -1.4l0.3 1.7l0.3 -1.2l0.3 -0.3l0.4 0.6l0.3 -0.1l0.3 1.1l0.4 0.2l0.3 0.1l0.3 -0.2l0.3 -2.3l0.4 3.9l0.3 -1.8l0.3 1.8l0.4 0.7l0.3 -0.8l0.3 -0.6l0.4 0.2l0.3 0.1l0.3 -0.1l0.3 0.2l0.4 -0.1l0.3 2.1l0.3 -0.8l0.4 1.1l0.3 -0.9l0.3 0.5l0.3 0l0.4 0.8l0.3 0.6l0.3 -0.3l0.4 -0.6l0.3 0.1l0.3 2.5l0.3 -1.6l0.4 0.3l0.3 1.8l0.3 -0.1l0.4 -0.3l0.3 -0.6l0.3 2.9l0.4 -1.3l0.3 0.6l0.3 -0.7l0.3 -1.3l0.4 0l0.3 1.6l0.3 0l0.4 -0.6l0.3 -0.7l0.3 -0.1l0.3 1.3l0.4 -0.8l0.3 2.3l0.3 0.5l0.4 1.7l0.3 -1.5l0.3 -1.1l0.3 0.8l0.4 -0.8l0.3 4l0.3 1.8l0.4 2.4l0.3 1.2l0.3 0.8l0.4 0l0.3 0.8l0.3 1.1l0.3 -1.9l0.4 1l0.3 -0.5l0.3 3.1l0.4 0.1l0.3 -0.1l0.3 -1.4l0.3 1.7l0.4 -1.3l0.3 -0.5l0.3 -0.3l0.4 0.7l0.3 -0.9l0.3 1.2l0.4 -0.6l0.3 -0.5l0.3 0.2l0.3 -0.3l0.4 1.1l0.3 -1l0.3 0.5l0.4 -0.6l0.3 -1l0.3 2.2l0.3 -1.6l0.4 1.7l0.3 0l0.3 -1.6l0.4 0.9l0.3 0.6l0.3 -0.1l0.3 0.2l0.4 2.2l0.3 -0.5l0.3 0.4l0.4 -0.9l0.3 0.6l0.3 -0.9l0.4 0.6l0.3 0.6l0.3 -0.3l0.3 -0.2l0.4 -0.4l0.3 1.4l0.3 0.4l0.4 -0.3l0.3 -0.3l0.3 1.4l0.3 2l0.4 -2.3l0.3 0.8l0.3 0.3l0.4 -2.4l0.3 2.6l0.3 -0.5l0.3 2.1l0.4 -1.2l0.3 -0.3l0.3 0.8l0.4 0.5l0.3 -0.4l0.3 0.8l0.4 -0.7l0.3 1.5l0.3 1.2l0.3 0.8l0.4 -1.3l0.3 -0.4l0.3 0.9l0.4 -0.2l0.3 0.6l0.3 -0.3l0.3 -0.9l0.4 0.6l0.3 0.1l0.3 0.4l0.4 0.1l0.3 -0.6l0.3 -1l0.4 1.8l0.3 0.2l0.3 3.3l0.3 1.4l0.4 -0.1l0.3 3.6l0.3 1.5l0.4 -0.3l0.3 1.8l0.3 0.6l0.3 -2.4l0.4 2.4l0.3 -0.1l0.3 0.3l0.4 0.9l0.3 -1.1l0.3 0.5l0.3 0.2l0.4 -0.2l0.3 -0.3l0.3 -1.6l0.4 0.3l0.3 1.5l0.3 -0.6l0.4 0.4" fill="none" stroke="#4a4a4a" stroke-width="2.2" stroke-linejoin="round"/>
<path d="M120.2 14.2l0.3 0.9l0.3 0.3l0.4 0.5l0.3 -0.3l0.3 1.2l0.3 -0.6l0.4 0.1l0.3 0.2l0.3 0.6l0.4 -0.7l0.3 1.2l0.3 -0.4l0.4 0l0.3 0.1l0.3 0.6l0.3 0.6l0.4 -0.1l0.3 -0.5l0.3 0.3l0.4 -0.5l0.3 0.8l0.3 -0.9l0.3 -1.4l0.4 2.5l0.3 -0.8l0.3 -0.7l0.4 0.8l0.3 -0.4l0.3 2.2l0.3 -1l0.4 -1.3l0.3 2.5l0.3 0.8l0.4 3.1l0.3 -0.7l0.3 0.6l0.4 3.1l0.3 0.5l0.3 0.4l0.3 -0.9l0.4 2.2l0.3 1.3l0.3 -2.1l0.4 2.5l0.3 -0.8l0.3 2.4l0.3 -0.9l0.4 -0.1l0.3 1.3l0.3 -1.3l0.4 -1.6l0.3 0.9l0.3 -0.8l0.4 -0.9l0.3 2.6l0.3 -1.6l0.3 -0.2l0.4 0.6l0.3 -1.3l0.3 0.2l0.4 0.6l0.3 -0.1l0.3 0.5l0.3 0.7l0.4 -1.1l0.3 0.8l0.3 0.3l0.4 -1l0.3 1.2l0.3 -0.6l0.3 1.6l0.4 -0.2l0.3 0.2l0.3 -0.5l0.4 1.4l0.3 -0.8l0.3 0.9l0.4 -0.6l0.3 -0.5l0.3 1.2l0.3 -0.1l0.4 -0.7l0.3 1.4l0.3 -0.8l0.4 0.2l0.3 0.6l0.3 -0.4l0.3 0.4l0.4 0.5l0.3 1.4l0.3 0.2l0.4 -1l0.3 1.5l0.3 -0.9l0.3 0.5l0.4 0.6l0.3 -0.2l0.3 1.7l0.4 -1.3l0.3 -0.8l0.3 2l0.4 -0.9l0.3 0.4l0.3 -1.4l0.3 3.2l0.4 0.2l0.3 -0.2l0.3 -0.1l0.4 0.5l0.3 -1.2l0.3 0.7l0.3 -1.2l0.4 0.5l0.3 1.2l0.3 -0.2l0.4 -1l0.3 1.4l0.3 -0.2l0.4 -0.2l0.3 1.1l0.3 0l0.3 0.6l0.4 1.7l0.3 3.5l0.3 -0.9l0.4 2.7l0.3 1.6l0.3 0.4l0.3 -0.9l0.4 1l0.3 0.7l0.3 0.9l0.4 -0.7l0.3 0.1l0.3 1.9l0.3 0.4l0.4 -0.1l0.3 -0.3l0.3 0.5l0.4 -1.1l0.3 0.1l0.3 -1.5l0.4 1l0.3 -0.2l0.3 -0.7l0.3 1l0.4 -0.2l0.3 -0.3l0.3 0.6l0.4 -1.3l0.3 1l0.3 0.3l0.3 -0.1l0.4 0.5l0.3 -1.5l0.3 0l0.4 1.4l0.3 0.4l0.3 1.4l0.4 -0.8l0.3 -0.8l0.3 1.5l0.3 -0.7l0.4 0.1l0.3 2.9l0.3 -1.8l0.4 0.2l0.3 -0.1l0.3 0.8l0.3 -1l0.4 0.7l0.3 -1.3l0.3 -0.1l0.4 2.2l0.3 0.3l0.3 -0.4l0.3 0l0.4 0.2l0.3 -0.4l0.3 1.8l0.4 -0.4l0.3 0.1l0.3 0.2l0.4 0.7l0.3 -0.2l0.3 0.4l0.3 -1.1l0.4 1.4l0.3 1.4l0.3 -1.7l0.4 0.5l0.3 1l0.3 0.5l0.3 0.2l0.4 -1.1l0.3 1.5l0.3 -1.4l0.4 0.2l0.3 0.9l0.3 -0.6l0.3 0.8l0.4 1.7l0.3 -1.4l0.3 0.2l0.4 -0.9l0.3 0.4l0.3 -0.1l0.4 0.6l0.3 -0.2l0.3 0.6l0.3 1.4l0.4 0.9l0.3 1.1l0.3 1.5l0.4 2.7l0.3 1.2l0.3 1.5l0.3 0.4l0.4 -0.6l0.3 1.1l0.3 -1.1l0.4 3l0.3 -0.4l0.3 -0.6l0.4 -0.3l0.3 1.5l0.3 -1.2l0.3 1.2l0.4 0.2l0.3 -1.3l0.3 -0.4l0.4 1l0.3 -1.4l0.3 0.9l0.3 -0.5l0.4 -0.3l0.3 0.9l0.3 -1l0.4 2l0.3 -1.7l0.3 1.8l0.3 -2.2l0.4 1.2l0.3 -1.3l0.3 0.1l0.4 1.3l0.3 0.6l0.3 -1.2l0.4 2l0.3 -1.2l0.3 0.9l0.3 0.6l0.4 0.7l0.3 -1.3l0.3 2.2l0.4 -0.9l0.3 -0.7l0.3 -0.4l0.3 -0.5l0.4 0.2l0.3 1.5l0.3 -0.3l0.4 -0.4l0.3 0.7l0.3 1.7l0.3 -1.1l0.4 0l0.3 1.6l0.3 -0.4l0.4 0l0.3 -0.3l0.3 -0.4l0.4 0.5l0.3 0.7l0.3 0.4l0.3 0.6l0.4 0.4l0.3 0l0.3 0.2l0.4 -0.6l0.3 -0.6l0.3 1.5l0.3 0.2l0.4 0.7l0.3 0.5l0.3 -0.9l0.4 0l0.3 0.7l0.3 0.1l0.4 -0.5l0.3 0.8l0.3 -0.3l0.3 -0.4l0.4 1l0.3 1.5l0.3 -1.5l0.4 1.5l0.3 0.3l0.3 0.4l0.3 -1.1l0.4 3.4l0.3 0.1l0.3 1.2l0.4 1.4l0.3 2l0.3 1l0.3 0.2l0.4 1.4l0.3 -1l0.3 0.2l0.4 1.7l0.3 0.3l0.3 0.6l0.4 -1.1l0.3 1.9l0.3 0l0.3 1.3l0.4 -2.4l0.3 0.2l0.3 -0.8l0.4 -0.9l0.3 0.6l0.3 1.3l0.3 -1.1l0.4 -0.2l0.3 1.1l0.3 0.1l0.4 0l0.3 -1.3l0.3 0.5l0.4 0.8l0.3 -1.2l0.3 0l0.3 1.1l0.4 0.7l0.3 -1.6l0.3 -0.8l0.4 1l0.3 0.5l0.3 0.9l0.3 0.8l0.4 0l0.3 0.1l0.3 0.6l0.4 -0.9l0.3 0.5l0.3 -0.4l0.3 2.3l0.4 -1.3l0.3 -1l0.3 0.1l0.4 0.6l0.3 -0.6l0.3 0.8l0.4 0.3l0.3 1.3l0.3 -0.7l0.3 0l0.4 -0.1l0.3 0.3l0.3 1l0.4 0.1l0.3 1.2l0.3 -1l0.3 1.4l0.4 -0.3l0.3 0l0.3 -1.1l0.4 0.7l0.3 1.6l0.3 0.7l0.3 -0.3l0.4 0.8l0.3 -0.3l0.3 -0.1l0.4 -0.4l0.3 1.1l0.3 -0.4l0.4 -0.4l0.3 -0.1l0.3 0.7l0.3 0.1l0.4 -0.6l0.3 2l0.3 -0.8l0.4 0l0.3 1.3l0.3 -0.1l0.3 -0.6l0.4 1.6l0.3 0.3l0.3 1.8l0.4 0.3l0.3 3.8l0.3 -0.7l0.4 2.6l0.3 -0.6l0.3 0.2l0.3 1l0.4 0.7l0.3 0.6l0.3 1.2l0.4 -0.6l0.3 0.8l0.3 -0.7l0.3 1.3l0.4 0l0.3 -1.3l0.3 -0.6l0.4 0.1l0.3 0.1l0.3 0.2l0.3 -0.7l0.4 -0.1l0.3 1l0.3 -1.7l0.4 0.8l0.3 1.5l0.3 -3l0.4 1.4l0.3 1l0.3 -1.7l0.3 3l0.4 -3.5l0.3 3.1l0.3 0.3l0.4 -0.3l0.3 -0.5l0.3 0.6l0.3 -0.6l0.4 1.6l0.3 -0.8l0.3 0.9l0.4 0.7l0.3 -1.6l0.3 0.5l0.3 0.4l0.4 -1.1l0.3 1.8l0.3 -0.4l0.4 -1.1l0.3 1.3l0.3 -0.3l0.4 0.3l0.3 0.8l0.3 -0.4l0.3 1.4l0.4 -0.9l0.3 1.4l0.3 -0.5l0.4 0.9l0.3 -0.8l0.3 0.3l0.3 -0.3l0.4 1.5l0.3 0.5l0.3 1l0.4 -0.3l0.3 -0.5l0.3 -0.1l0.4 0.8l0.3 0.1l0.3 1.6l0.3 -0.2l0.4 -1.4l0.3 -0.1l0.3 1.5l0.4 -0.8l0.3 -0.3l0.3 0.9l0.3 -0.8l0.4 0.3l0.3 0.1l0.3 -0.9l0.4 2.2l0.3 -1.2l0.3 0.7l0.3 0.1l0.4 1.5l0.3 0.9l0.3 1.5l0.4 0.3l0.3 2.5l0.3 0.5l0.4 2.6l0.3 0.4l0.3 0.1l0.3 1.8l0.4 -0.6l0.3 0.4l0.3 0.1l0.4 0.1l0.3 1.2l0.3 0.5l0.3 -1.3l0.4 2l0.3 -0.6l0.3 -0.5l0.4 -0.8l0.3 -1.2l0.3 0.1l0.4 2.1l0.3 -1.1l0.3 -1.2l0.3 1.2l0.4 -0.5l0.3 -1l0.3 -0.3l0.4 0.5l0.3 1.3l0.3 -0.3l0.3 -0.1l0.4 0.4l0.3 0.5l0.3 -1.7l0.4 1.5l0.3 -0.2l0.3 0l0.3 0.7l0.4 0.6l0.3 0.4l0.3 -0.3l0.4 0.7l0.3 1.6l0.3 -2.3l0.4 -0.4l0.3 1.3l0.3 0.3l0.3 0l0.4 -0.9l0.3 1.7l0.3 -1l0.4 0l0.3 0.6l0.3 0.5l0.3 0.8l0.4 0.2l0.3 -0.2l0.3 0.9l0.4 -0.4l0.3 0.8l0.3 -1.4l0.3 0.1l0.4 1.9l0.3 -1.3l0.3 1l0.4 0.4l0.3 -0.1l0.3 0.3l0.4 1.5l0.3 -2.3l0.3 2.9l0.3 1.5l0.4 -1.7l0.3 -0.2l0.3 0.4l0.4 0.8l0.3 -2.1l0.3 0.9l0.3 -0.1l0.4 0.7l0.3 0l0.3 0.5l0.4 -0.5l0.3 0.6l0.3 -0.3l0.4 0.2l0.3 0.6l0.3 1.1l0.3 0.7l0.4 3.4l0.3 0.2l0.3 0.6l0.4 3.2l0.3 -0.5l0.3 1.3l0.3 0l0.4 0.6l0.3 0.3l0.3 -0.1l0.4 0.8l0.3 1.8l0.3 -2.6l0.3 2l0.4 0.6l0.3 -0.6l0.3 -1.1l0.4 1.6l0.3 -1.8l0.3 1.7l0.4 -1l0.3 -0.4l0.3 0.3l0.3 0.1l0.4 0.4l0.3 -0.5l0.3 -0.2l0.4 0l0.3 0.8l0.3 -0.4l0.3 -1.2l0.4 0.2l0.3 0.8l0.3 -0.4l0.4 0.4l0.3 -0.2l0.3 0.7l0.3 0.7l0.4 0.7l0.3 -0.2l0.3 1.9l0.4 -1.1l0.3 2.1l0.3 -1.7l0.4 -0.4l0.3 -0.7l0.3 -1.6l0.3 1.8l0.4 0.5l0.3 1.4l0.3 -2.1l0.4 2.6l0.3 -1.3l0.3 0.9l0.3 -2.1l0.4 2.1l0.3 -0.1l0.3 1l0.4 -0.2l0.3 -0.6l0.3 1.6l0.4 0.1l0.3 0.2l0.3 0.5l0.3 0.3l0.4 -0.6l0.3 -0.7l0.3 0.2l0.4 2.2l0.3 -0.1l0.3 0l0.3 0.1l0.4 0.6l0.3 -0.2l0.3 -0.4l0.4 -0.3l0.3 2l0.3 -1.3l0.3 -0.6l0.4 -0.3l0.3 0.6l0.3 1.3l0.4 0.2l0.3 -0.4l0.3 0.4l0.4 -0.1l0.3 -0.3l0.3 2.2l0.3 0.8l0.4 2.9l0.3 -0.8l0.3 1.9l0.4 2.1l0.3 0.6l0.3 -0.4l0.3 0.7l0.4 1.1l0.3 0.5l0.3 0.1l0.4 1.2l0.3 0.3l0.3 0l0.4 0.1l0.3 0.2l0.3 1l0.3 0l0.4 -1.5l0.3 -0.1l0.3 -0.5l0.4 -0.8l0.3 0.3l0.3 1.2l0.3 -0.2l0.4 0.8l0.3 -1.1l0.3 0.6l0.4 0.3l0.3 -0.2l0.3 -1.2l0.3 0.3l0.4 0.3l0.3 -0.8l0.3 1.3l0.4 0.6l0.3 -0.9l0.3 2l0.4 -1.4l0.3 0.3l0.3 0.3l0.3 0.2l0.4 1.3l0.3 -0.3l0.3 1l0.4 -0.8l0.3 -0.1l0.3 -0.5l0.3 -0.9l0.4 1.1l0.3 -0.3l0.3 1.4l0.4 -0.4l0.3 1.4l0.3 -0.4l0.3 0.3l0.4 -0.2l0.3 0.2l0.3 0.5l0.4 0.5l0.3 -1l0.3 1.1l0.4 1.7l0.3 -1.6l0.3 0.1l0.3 -0.1l0.4 -0.3l0.3 2.1l0.3 -0.6l0.4 0.4l0.3 1.3l0.3 1l0.3 -1.9l0.4 1.8l0.3 -0.4l0.3 -0.3l0.4 -0.1l0.3 -0.3l0.3 1.1l0.4 -0.7l0.3 -0.1l0.3 0.9l0.3 0l0.4 -0.1l0.3 0.1l0.3 1.2l0.4 -0.6l0.3 -0.2l0.3 -0.3l0.3 1.5l0.4 0.9l0.3 2.3l0.3 1.5l0.4 -0.2l0.3 2.9l0.3 1.3l0.3 0l0.4 -0.4l0.3 2l0.3 -1l0.4 0l0.3 0.5l0.3 1.1l0.4 1.1l0.3 0.5l0.3 -0.3l0.3 -0.5l0.4 -0.5l0.3 -1l0.3 0.5l0.4 -1.2l0.3 1.4l0.3 0.3l0.3 -0.5l0.4 0.4l0.3 -1l0.3 -0.3l0.4 0.5l0.3 1.3l0.3 -0.1l0.3 -1.1l0.4 1.2l0.3 -1.1l0.3 1.5l0.4 -0.5l0.3 -0.5l0.3 1.1l0.4 -0.8l0.3 0.1l0.3 -0.1l0.3 1.6l0.4 0.3l0.3 0.4l0.3 -0.5l0.4 1.2l0.3 -1.4l0.3 -0.2l0.3 1.4l0.4 0.1l0.3 -0.5l0.3 -1.3l0.4 1.1l0.3 1l0.3 -0.1l0.4 1.3l0.3 -1.9l0.3 1.7l0.3 -0.7l0.4 1.6l0.3 -0.7l0.3 1l0.4 -1l0.3 -0.3l0.3 0.5l0.3 0.5l0.4 0l0.3 1.8l0.3 0.3l0.4 -0.5l0.3 -0.7l0.3 1l0.3 0.1l0.4 1.9l0.3 -0.5l0.3 -0.1l0.4 -0.8l0.3 -1.1l0.3 0.9l0.4 -0.3l0.3 1.1l0.3 0l0.3 -0.4l0.4 0.5l0.3 1.6l0.3 -1.6l0.4 0.3l0.3 0.7l0.3 -0.1l0.3 0.7l0.4 2.1l0.3 2.3l0.3 -1l0.4 2.6l0.3 1.5l0.3 1.3l0.4 0.3l0.3 0.3l0.3 1.3l0.3 -0.6l0.4 0.6l0.3 0.5l0.3 0.4l0.4 0.2l0.3 1.2l0.3 -0.3l0.3 0.5l0.4 -0.4l0.3 -1.5l0.3 -0.3l0.4 -0.2l0.3 0.9l0.3 -0.6l0.3 -0.3l0.4 0.9l0.3 0.2l0.3 -1.6l0.4 2.4l0.3 -1.1l0.3 -0.1l0.4 0.8l0.3 -0.7l0.3 -0.5l0.3 2l0.4 -2l0.3 0.9l0.3 0.9l0.4 -1.2l0.3 1l0.3 0.5l0.3 1.8l0.4 -1.8l0.3 1.1l0.3 0.5l0.4 -0.6l0.3 -1l0.3 1.1l0.3 -0.2l0.4 0.2l0.3 0.6l0.3 0.2l0.4 -0.2l0.3 0.1l0.3 -0.7l0.4 0.9l0.3 0.4l0.3 -0.2l0.3 0.6l0.4 -0.4l0.3 1.9l0.3 0.6l0.4 -1.5l0.3 0.8l0.3 -0.3l0.3 1.3l0.4 -0.3l0.3 0l0.3 0l0.4 0.4l0.3 -0.5l0.3 1.4l0.4 -0.5l0.3 1.3l0.3 0.2l0.3 0.6l0.4 -0.9l0.3 0.6l0.3 -1.4l0.4 1.1l0.3 -0.6l0.3 0.4l0.3 0.2l0.4 0.8l0.3 -1.9l0.3 1.9l0.4 -1l0.3 2.1l0.3 -2l0.3 0.9l0.4 0.6l0.3 3.8l0.3 -0.6l0.4 2.4l0.3 1l0.3 0.5l0.4 1.9l0.3 1.1l0.3 -0.2l0.3 1.1l0.4 -0.5l0.3 0.7l0.3 0.1l0.4 0.9l0.3 1.4l0.3 -0.6l0.3 0.2l0.4 -0.2l0.3 -0.9l0.3 0.7l0.4 -1.8l0.3 0.1l0.3 0.6l0.3 -0.2l0.4 1.6l0.3 -3l0.3 1.9l0.4 0.3l0.3 -1.3l0.3 0.3l0.4 0.8l0.3 0.8l0.3 -1.8l0.3 -0.5l0.4 2l0.3 0.6l0.3 -1.1l0.4 -1.1l0.3 2.8l0.3 -0.9l0.3 1.1l0.4 -0.3l0.3 0.3l0.3 0.3l0.4 1.1l0.3 -0.2l0.3 -2.5l0.4 0.9l0.3 1.9l0.3 -1.5l0.3 -0.5l0.4 1.2l0.3 0.1l0.3 0.2l0.4 0l0.3 0.3l0.3 0.2l0.3 0.8l0.4 -0.6l0.3 0.6l0.3 0.3l0.4 1.3l0.3 -0.5l0.3 -0.1l0.3 0.7l0.4 0.1l0.3 0.7l0.3 -0.1l0.4 1.1l0.3 -0.1l0.3 -0.7l0.4 0.1l0.3 1.3l0.3 0.3l0.3 -0.2l0.4 -1.2l0.3 -0.4l0.3 1.5l0.4 0.3l0.3 0l0.3 -1.4l0.3 1.8l0.4 -0.9l0.3 0.9l0.3 0.3l0.4 -0.7l0.3 0.4l0.3 -0.8l0.4 1l0.3 -0.1l0.3 3l0.3 1.2l0.4 2l0.3 1.1l0.3 0.7l0.4 2.1l0.3 -0.2l0.3 1.1l0.3 0.2l0.4 -0.5l0.3 1.1l0.3 0.4l0.4 0.1l0.3 1.2l0.3 1l0.3 -1.1l0.4 0.4l0.3 -1.5l0.3 0.6l0.4 -0.6l0.3 -1.2l0.3 1.7l0.4 0.2l0.3 -1l0.3 0.3l0.3 -0.4l0.4 1.2l0.3 -1.6l0.3 0.8l0.4 1.6l0.3 -1.3l0.3 0.3l0.3 -0.5l0.4 -0.7l0.3 1.1l0.3 0.5l0.4 -0.8l0.3 1.2l0.3 0.9l0.3 0.1l0.4 -1.5l0.3 0.9l0.3 0.1l0.4 1.9l0.3 -0.6l0.3 0l0.4 -1.1l0.3 -0.2l0.3 0.9l0.3 0.1l0.4 -0.5l0.3 1l0.3 0.5l0.4 0l0.3 -0.7l0.3 -0.5l0.3 1.5l0.4 0.5l0.3 0l0.3 0.1l0.4 0l0.3 1.2l0.3 -0.3l0.4 0.4l0.3 -0.5l0.3 0.4l0.3 0.8l0.4 -0.6l0.3 0.1l0.3 0.8l0.4 1.4l0.3 -0.3l0.3 1.4l0.3 -0.7l0.4 -0.2l0.3 -0.9l0.3 0.5l0.4 1.4l0.3 -0.8l0.3 0.3l0.3 0.1l0.4 -0.3l0.3 0.1l0.3 0.4l0.4 0.6l0.3 0.1l0.3 0.3l0.4 0l0.3 -0.5l0.3 1.5l0.3 1l0.4 2.8l0.3 -0.8l0.3 2.8l0.4 3.3l0.3 -1.1l0.3 -0.2l0.3 1.2l0.4 1.3l0.3 -0.7l0.3 1l0.4 0l0.3 0.1l0.3 2.8l0.3 -1.8l0.4 0l0.3 0.4l0.3 -0.2l0.4 -0.9l0.3 0.3l0.3 -0.4l0.4 -1.1l0.3 1.3l0.3 -0.6l0.3 0.1l0.4 -0.9l0.3 0.6l0.3 -0.1l0.4 0.5l0.3 -1l0.3 1.1l0.3 0l0.4 -0.8l0.3 0.4l0.3 0.1l0.4 1.5l0.3 -2.2l0.3 1.8l0.4 -0.7l0.3 1l0.3 1.4l0.3 -0.5l0.4 0.9l0.3 -0.9l0.3 1.8l0.4 -0.7l0.3 0.1l0.3 -1.7l0.3 0.1l0.4 1.8l0.3 -0.7l0.3 0.2l0.4 0.6l0.3 -0.9l0.3 1.7l0.3 -0.3l0.4 0.5l0.3 -0.5l0.3 1l0.4 -0.6l0.3 1.4l0.3 0.3l0.4 0.1l0.3 0l0.3 0.3l0.3 -2.1l0.4 2.7l0.3 -0.6l0.3 0.5l0.4 0l0.3 -0.4l0.3 1l0.3 1.3l0.4 0.8l0.3 -1.6l0.3 -0.4l0.4 1.7l0.3 -1.6l0.3 2l0.4 -1.4l0.3 -0.4l0.3 1.5l0.3 0.7l0.4 -1.9l0.3 2.3l0.3 -1.1l0.4 1.5l0.3 -1.1l0.3 -0.3l0.3 2.9l0.4 1.7l0.3 2.3l0.3 1.1l0.4 0.7l0.3 0.7l0.3 0.2l0.3 0.6l0.4 0l0.3 0.8l0.3 -1.2l0.4 2.3l0.3 0.2l0.3 2.2l0.4 -0.9l0.3 -0.5l0.3 1.2l0.3 -1.5l0.4 -0.5l0.3 -1.3l0.3 2.4l0.4 -0.6l0.3 -1.3l0.3 0.8l0.3 0.7l0.4 -0.3l0.3 -0.1l0.3 -0.9l0.4 0.2l0.3 0.5l0.3 0.6l0.3 -1.2l0.4 -0.3l0.3 1.7l0.3 -1.3l0.4 1.7l0.3 -0.4l0.3 0.7l0.4 0.8l0.3 -0.5l0.3 0.4l0.3 -0.7l0.4 0.7l0.3 0.9l0.3 0.5l0.4 -0.2l0.3 0.6l0.3 -1.4l0.3 -0.1l0.4 0.7l0.3 -0.5l0.3 0.2l0.4 -0.5l0.3 1.7l0.3 -1.2l0.4 1.3l0.3 -1.1l0.3 2l0.3 -1.3l0.4 1.6l0.3 -1.5l0.3 1l0.4 1.4l0.3 -1.2l0.3 0.9l0.3 -0.2l0.4 -1l0.3 2l0.3 0.3l0.4 -0.8l0.3 1.4l0.3 -0.5l0.3 0.3l0.4 1.2l0.3 -0.5l0.3 1.9l0.4 -2.8l0.3 1.6l0.3 0.2l0.4 -2.1l0.3 0.3l0.3 1.8l0.3 -0.5l0.4 0.8l0.3 0.8l0.3 -0.9l0.4 -0.2l0.3 -1l0.3 2.3l0.3 0.3l0.4 2.3l0.3 1.4l0.3 0.3l0.4 3.6l0.3 1l0.3 0.7l0.3 -1l0.4 0.9l0.3 0.3l0.3 0.5l0.4 -0.2l0.3 1.5l0.3 0.3l0.4 0.4l0.3 -0.2l0.3 1.7l0.3 -0.4l0.4 -2.9l0.3 0.6l0.3 0.4l0.4 0.7l0.3 -0.9l0.3 0.1l0.3 -0.3l0.4 0.9l0.3 -0.8l0.3 -0.1l0.4 -0.1l0.3 0.9l0.3 -0.7l0.4 -0.8l0.3 1.6l0.3 -1l0.3 0.9l0.4 0.3l0.3 0.8l0.3 0.1l0.4 -0.9l0.3 0.5l0.3 -0.6l0.3 2.6l0.4 -0.4l0.3 1.1l0.3 -1.4l0.4 -1.4l0.3 2.5l0.3 -1l0.3 0l0.4 -0.1l0.3 0.7l0.3 0.1l0.4 -1.3l0.3 2.2l0.3 -1l0.4 0.3l0.3 1.8l0.3 -0.4l0.3 -0.6l0.4 -0.8l0.3 1.6l0.3 0.5l0.4 -0.2l0.3 -0.6l0.3 0.5l0.3 0l0.4 1.2l0.3 0.7l0.3 0.3l0.4 -1l0.3 0.9l0.3 0.6l0.4 -0.3l0.3 0.8l0.3 1.8l0.3 -1.5l0.4 0.3l0.3 -0.9l0.3 0.3l0.4 -1.2l0.3 1.1l0.3 1.1l0.3 0.9l0.4 -0.4l0.3 -0.2l0.3 -0.2l0.4 -0.2l0.3 0.5l0.3 0.8l0.3 -0.5l0.4 2.7l0.3 0.1l0.3 0.8l0.4 2l0.3 1l0.3 1.5l0.4 2.2l0.3 -0.6l0.3 0.7l0.3 1.1l0.4 0.4l0.3 -0.8l0.3 1.6l0.4 -0.2l0.3 0.1l0.3 0.7l0.3 -0.9l0.4 0.2l0.3 -0.4l0.3 0.1l0.4 -0.7l0.3 0.2l0.3 0.7l0.3 0.3l0.4 -0.4l0.3 0.3l0.3 -1.1l0.4 0l0.3 0.5l0.3 -0.5l0.4 -0.1l0.3 1.5l0.3 -1.3l0.3 -0.5l0.4 1.2l0.3 1.2l0.3 -1l0.4 1l0.3 -0.9l0.3 0.2l0.3 0.2l0.4 0.9l0.3 1.8l0.3 -2l0.4 1.7l0.3 -1.9l0.3 0.5l0.4 0.8l0.3 -0.2l0.3 -0.1l0.3 -1.1l0.4 1.6l0.3 -0.7l0.3 2.7l0.4 -1.7l0.3 0.5l0.3 -0.7l0.3 0.7l0.4 -0.4l0.3 1.9l0.3 -0.7l0.4 0.8l0.3 -0.6l0.3 0.3l0.3 1.5l0.4 -1.3l0.3 -0.4l0.3 1.8l0.4 -0.9l0.3 0.7l0.3 1.2l0.4 -0.7l0.3 1.6l0.3 -0.6l0.3 1.5l0.4 -0.3l0.3 -1.4l0.3 0.2l0.4 -0.4l0.3 0.7l0.3 0.8l0.3 -1.6l0.4 1.8l0.3 -1.3l0.3 0.6l0.4 -0.5l0.3 3l0.3 -1.2l0.3 0.3l0.4 0.5l0.3 2.7l0.3 -0.8l0.4 2.9l0.3 3l0.3 -0.4l0.4 1.1l0.3 0.8l0.3 -0.6l0.3 1l0.4 1l0.3 -0.1l0.3 0.5l0.4 -0.1l0.3 0.8l0.3 0.2l0.3 1.4l0.4 -0.1l0.3 -1.6l0.3 -2.4l0.4 2.2l0.3 0.1l0.3 -1.2l0.4 -0.8l0.3 0.6l0.3 1.5l0.3 -1.4l0.4 0.4l0.3 0.5l0.3 0.7l0.4 -0.9l0.3 0l0.3 -0.4l0.3 1.6l0.4 -0.3l0.3 -0.6l0.3 -0.7l0.4 0.7l0.3 1.2l0.3 -0.7l0.3 1.4l0.4 0.1l0.3 0.4l0.3 0.6l0.4 -0.3l0.3 -1.1l0.3 0.4l0.4 1.8l0.3 -2.5l0.3 0.6l0.3 1.2l0.4 -0.6l0.3 -0.2l0.3 -0.1l0.4 1.5l0.3 0.6l0.3 0.4l0.3 -0.7l0.4 1l0.3 -1.3l0.3 1.1l0.4 -0.4l0.3 0.9l0.3 0.6l0.4 0.4l0.3 -1.2l0.3 1.8l0.3 -1l0.4 -0.1l0.3 0.8l0.3 -0.7l0.4 1.4l0.3 0.7l0.3 0.1l0.3 0.8l0.4 -0.8l0.3 0.1l0.3 -1.1l0.4 1.1l0.3 -0.6l0.3 0.2l0.3 0.5l0.4 0.4l0.3 -1l0.3 0.2l0.4 1.1l0.3 0.8l0.3 0.2l0.4 0.6l0.3 0.8l0.3 0.8l0.3 1.1l0.4 0.7l0.3 1.5l0.3 1.8l0.4 1.9l0.3 0.3l0.3 0.3l0.3 0.2l0.4 1l0.3 0.1l0.3 0.4l0.4 0.4l0.3 -0.2l0.3 0l0.3 1.5l0.4 0.3l0.3 -0.6l0.3 -1.1l0.4 1.5l0.3 -2.1l0.3 0.4l0.4 0.3l0.3 -1l0.3 0.9l0.3 1.2l0.4 -0.6l0.3 -0.2l0.3 -0.1l0.4 -0.3l0.3 0.6l0.3 -0.8l0.3 -0.2l0.4 0.4l0.3 0.8l0.3 -0.2l0.4 0.5l0.3 -1.7l0.3 2.5l0.4 1l0.3 -0.3l0.3 -0.7l0.3 0.2l0.4 0.8l0.3 -1.1l0.3 1.1l0.4 -0.9l0.3 1.1l0.3 0.2l0.3 -2.2l0.4 1.8l0.3 -0.5l0.3 -0.2l0.4 0.8l0.3 0.5l0.3 1.1l0.3 -1.6l0.4 2l0.3 0.9l0.3 -0.7l0.4 0.2l0.3 -0.2l0.3 -0.6l0.4 1.4l0.3 0.2l0.3 0.4l0.3 1.6l0.4 -1.1l0.3 0l0.3 1l0.4 -1.8l0.3 0.7l0.3 1l0.3 0.2l0.4 0.9l0.3 -0.9l0.3 1.4l0.4 -0.2l0.3 -0.5l0.3 -0.8l0.3 0.8l0.4 0.3l0.3 -1.1l0.3 1.3l0.4 0.4l0.3 -0.1l0.3 1.2l0.4 0l0.3 -1.2l0.3 1.8l0.3 0.7l0.4 2.4l0.3 0.5l0.3 2.7l0.4 1l0.3 1.3l0.3 -0.4l0.3 -0.6l0.4 2.7l0.3 -1l0.3 1.5l0.4 -0.3l0.3 0.6l0.3 1.2l0.4 -0.7l0.3 1.1l0.3 -1.6l0.3 0.8l0.4 -1.6l0.3 0l0.3 0.1l0.4 0.3l0.3 0.9l0.3 -2.5l0.3 1.4l0.4 -0.6l0.3 1.3l0.3 -1.1l0.4 0.6l0.3 -0.6l0.3 0.8l0.3 0.2l0.4 -1l0.3 0.5l0.3 -0.8l0.4 1.4l0.3 0.6l0.3 -0.7l0.4 1.4l0.3 -2l0.3 0.6l0.3 0.8l0.4 1l0.3 0.2l0.3 -0.3l0.4 0l0.3 0.6l0.3 -0.8l0.3 -0.6l0.4 0.2l0.3 2.6l0.3 -2.9l0.4 1.7l0.3 1.4l0.3 -0.4l0.4 -0.7l0.3 0.8l0.3 0.8l0.3 0.5l0.4 -1.3l0.3 1.4l0.3 -0.1l0.4 0.8l0.3 0.5l0.3 -1l0.3 -0.6l0.4 1.5l0.3 1.2l0.3 -0.5l0.4 -0.1l0.3 1.9l0.3 -1.9l0.3 1.8l0.4 -0.8l0.3 0.3l0.3 -0.2l0.4 1l0.3 -1.7l0.3 0.3l0.4 -0.8l0.3 1.7l0.3 -0.4l0.3 0.8l0.4 -0.8l0.3 0.7l0.3 1.2l0.4 -0.6l0.3 0.8l0.3 0.4l0.3 0.8l0.4 0.6l0.3 3.2l0.3 0.9l0.4 2l0.3 -0.7l0.3 0.6l0.3 0.1l0.4 1.2l0.3 1.8l0.3 0l0.4 0l0.3 0.5l0.3 0.8l0.4 -0.4l0.3 0.9l0.3 0.2l0.3 -1.8l0.4 0.4l0.3 0.8l0.3 -1.3l0.4 0.2l0.3 -0.3l0.3 0.1l0.3 1.1l0.4 -1l0.3 -0.5l0.3 -1.5l0.4 1.8l0.3 -1l0.3 0.1l0.4 1.9l0.3 -0.1l0.3 -1.8l0.3 2.2l0.4 -0.1l0.3 -0.6l0.3 1.3l0.4 -1.5l0.3 0.6l0.3 0.1l0.3 0.8l0.4 1.9l0.3 -1.6l0.3 0l0.4 0l0.3 0.8l0.3 -0.4l0.3 0.9l0.4 -1l0.3 -0.2l0.3 0.8l0.4 0.6l0.3 -0.5l0.3 1.1l0.4 1.3l0.3 -1.4l0.3 0.6l0.3 1.2l0.4 -1.2l0.3 0.1l0.3 0l0.4 1.3l0.3 0.3l0.3 -0.2l0.3 0.3l0.4 1.1l0.3 0l0.3 -1.4l0.4 1.2l0.3 0.3l0.3 0.9l0.3 -0.2l0.4 0.2l0.3 0.1l0.3 -1.1l0.4 1.1l0.3 -0.4l0.3 0.7l0.4 -1l0.3 0.5l0.3 -0.1l0.3 0.1l0.4 1.5l0.3 -0.6l0.3 0.8l0.4 -0.8l0.3 1l0.3 -1l0.3 2l0.4 1.4l0.3 2.2l0.3 1.2l0.4 1.2l0.3 2.1l0.3 0.4l0.4 0.6l0.3 0.6l0.3 -0.2l0.3 0.2l0.4 0.8l0.3 -0.1l0.3 0.9l0.4 0.9l0.3 0.2l0.3 -0.5l0.3 -0.2l0.4 0l0.3 -0.9l0.3 0.9l0.4 -1.1l0.3 0.1l0.3 0.7l0.3 -0.9l0.4 0.3l0.3 1.3l0.3 -0.2l0.4 -0.6l0.3 -0.2l0.3 -0.9l0.4 1.1l0.3 -0.4l0.3 0.1l0.3 -0.4l0.4 0.6l0.3 0.1l0.3 0.6l0.4 1l0.3 -0.5l0.3 -1.2l0.3 1l0.4 0l0.3 1l0.3 0.7l0.4 -0.3l0.3 -0.7l0.3 0.6l0.4 -0.7l0.3 -0.5l0.3 0.3l0.3 0.6l0.4 1.8l0.3 -1.7l0.3 2l0.4 0.3l0.3 -0.8l0.3 0.3l0.3 -0.2l0.4 0.7l0.3 0.7l0.3 -0.2l0.4 0.9l0.3 0.3l0.3 -0.3l0.3 0.2l0.4 -0.1l0.3 0.6l0.3 -0.8l0.4 1.3l0.3 0l0.3 -0.3l0.4 2.5l0.3 -1.7l0.3 0.4l0.3 0.6l0.4 -1.8l0.3 0.8l0.3 -0.5l0.4 0.4l0.3 0.6l0.3 0.5l0.3 0.8l0.4 0l0.3 0.5l0.3 -0.2l0.4 -0.5l0.3 1.3l0.3 -0.9l0.3 0.5l0.4 2.9l0.3 0.9l0.3 1.1l0.4 1.8l0.3 1.5l0.3 -0.2l0.4 1.3l0.3 -0.4l0.3 1.3l0.3 -0.2l0.4 1.8l0.3 -0.2l0.3 -0.5l0.4 0.9l0.3 -0.4l0.3 1.2l0.3 0.8l0.4 -0.5l0.3 -2.4l0.3 0.7l0.4 0.6l0.3 -0.1l0.3 0.6l0.4 -1.7l0.3 1.2l0.3 -0.8l0.3 0.6l0.4 0.1l0.3 0.2l0.3 -0.8l0.4 0.5l0.3 -1l0.3 -0.1l0.3 1.4l0.4 -0.2l0.3 -0.9l0.3 0.8l0.4 0.8l0.3 1.3l0.3 -0.1l0.3 0.1l0.4 -1.3l0.3 1.7l0.3 0.4l0.4 -0.2l0.3 -0.1l0.3 -0.4l0.4 1.4l0.3 -0.2l0.3 -1.1l0.3 -0.3l0.4 2.3l0.3 -1.6l0.3 1.5l0.4 0.7l0.3 -1.8l0.3 1.1l0.3 -0.2l0.4 0.8l0.3 0.1l0.3 1.4l0.4 -0.7l0.3 -0.2l0.3 1l0.4 -0.8l0.3 0.2l0.3 2.1l0.3 -2l0.4 0.5l0.3 0.6l0.3 -0.5l0.4 -0.3l0.3 2.7l0.3 -0.8l0.3 0.1l0.4 -0.1l0.3 -0.5l0.3 -0.1l0.4 0.9l0.3 1.6l0.3 -1.1l0.3 0.2l0.4 -1.3l0.3 1.2l0.3 -0.5l0.4 1.5l0.3 -0.4l0.3 0.4l0.4 0.1l0.3 0.8l0.3 0.8l0.3 2.9l0.4 0l0.3 1.6l0.3 2.1l0.4 0.5l0.3 1.1l0.3 0.9l0.3 -0.1l0.4 0.3l0.3 0.3l0.3 0.9l0.4 -1.5l0.3 2l0.3 -0.6l0.3 0.2l0.4 1.3l0.3 -1.2l0.3 -0.1l0.4 0.3l0.3 -2.4l0.3 1.6l0.4 1.4l0.3 -0.7l0.3 0.4l0.3 -1l0.4 -1l0.3 0.2l0.3 1.3l0.4 0.1l0.3 -1.2l0.3 0.4l0.3 0.3l0.4 -1.2l0.3 1.2l0.3 1.6l0.4 0.6l0.3 -1.4l0.3 1.6l0.4 -1.4l0.3 0.3l0.3 -0.5l0.3 2.6l0.4 -1.2l0.3 1.8l0.3 -1.4l0.4 -0.1l0.3 -1.4l0.3 2.3l0.3 -1.1l0.4 0.3l0.3 -1.2l0.3 2.5l0.4 0.2l0.3 -0.9l0.3 0.8l0.3 0.4l0.4 0.6l0.3 -0.3l0.3 1.3l0.4 -1.1l0.3 -0.1l0.3 0.4l0.4 -1.3l0.3 1.5l0.3 1.5l0.3 -0.3l0.4 -0.5l0.3 1l0.3 -1.4l0.4 1.6l0.3 1l0.3 0.6l0.3 -0.8l0.4 1l0.3 0.5l0.3 -1.6l0.4 0.8l0.3 -1.6l0.3 -0.3l0.3 2l0.4 -0.2l0.3 0.4l0.3 -0.3l0.4 0.4l0.3 1l0.3 0.8l0.4 -1.1l0.3 -0.5l0.3 3.5l0.3 1l0.4 1.5l0.3 1.1l0.3 2.9l0.4 -0.2l0.3 0.7l0.3 -1.3l0.3 1.3l0.4 0.3l0.3 0.8l0.3 0.7l0.4 -0.4l0.3 2.1l0.3 -1.5l0.4 0.8l0.3 0.8l0.3 -1.2l0.3 0.4l0.4 -0.4l0.3 -0.6l0.3 1.5l0.4 -1.3l0.3 0.2l0.3 -0.9l0.3 -0.5l0.4 0.7l0.3 0.2l0.3 -0.1l0.4 0.9l0.3 -2.2l0.3 0.9l0.3 -0.5l0.4 2.2l0.3 -1.1l0.3 0.3l0.4 -0.2l0.3 1.6l0.3 -0.7l0.4 0.7l0.3 -1.2l0.3 2.7l0.3 0l0.4 0.1l0.3 0.3l0.3 -1.1l0.4 0l0.3 0.6l0.3 -0.2l0.3 -0.4l0.4 0.5l0.3 -0.2l0.3 1.1l0.4 0.4l0.3 -0.4l0.3 1.5l0.4 -2.2l0.3 1.2l0.3 1.6l0.3 -1.3l0.4 -0.6l0.3 2.3l0.3 -0.3l0.4 -1l0.3 1.6l0.3 -1.1l0.3 0.1l0.4 1l0.3 0l0.3 -0.2l0.4 0.8l0.3 0l0.3 1.2l0.3 0.4l0.4 0.5l0.3 -1.1l0.3 -0.6l0.4 0l0.3 0.7l0.3 1.3l0.4 -0.4l0.3 -0.8l0.3 1.3l0.3 -1.3l0.4 1.8l0.3 -0.8l0.3 1.1l0.4 0.1l0.3 -0.4l0.3 1.5l0.3 0.5l0.4 2.1l0.3 2.3l0.3 3.5l0.4 -0.9l0.3 0.4l0.3 -0.4l0.3 1.8l0.4 -1.5l0.3 1l0.3 1.2l0.4 -0.7l0.3 2.3l0.3 0.1l0.4 -0.8l0.3 0.4l0.3 -0.2l0.3 -0.9l0.4 0.5l0.3 0.1l0.3 -0.2l0.4 -0.1l0.3 -0.5l0.3 0.6l0.3 -1.3l0.4 1.1l0.3 1l0.3 -0.1l0.4 -1.3l0.3 0.1l0.3 1.2l0.4 0.3l0.3 -2.3l0.3 0.9l0.3 0.7l0.4 0.9l0.3 -1.2l0.3 1.3l0.4 -0.5l0.3 2.1l0.3 -0.9l0.3 0.1l0.4 0.3l0.3 0.8l0.3 -0.5l0.4 -1.2l0.3 0.9l0.3 -1.1l0.3 0.4l0.4 -0.2l0.3 0.2l0.3 0.7l0.4 0l0.3 1.3l0.3 0.4l0.4 -0.5l0.3 -0.4l0.3 1.6l0.3 -1.7l0.4 0.2l0.3 2.1l0.3 0.2l0.4 0.5l0.3 -0.6l0.3 -0.5l0.3 0.7l0.4 1l0.3 -0.7l0.3 0.3l0.4 -0.3l0.3 0.5l0.3 1.9l0.3 0.2l0.4 -0.9l0.3 -0.1l0.3 0.2l0.4 0.8l0.3 -1.2l0.3 0.7l0.4 -1.4l0.3 0.8l0.3 1.4l0.3 0.6l0.4 -1.2l0.3 0.4l0.3 1.4l0.4 -0.6l0.3 0.1l0.3 1.3l0.3 1.2l0.4 2l0.3 1.3l0.3 0.4l0.4 1.8l0.3 1.4l0.3 -0.5l0.4 0.6l0.3 1.8l0.3 -1.4l0.3 2.2l0.4 -0.2l0.3 0.1l0.3 0.9l0.4 0.3l0.3 0.9l0.3 -0.7l0.3 -0.1l0.4 -0.9l0.3 1.1l0.3 -0.7l0.4 -1.3l0.3 0.4l0.3 -0.2l0.3 0.5l0.4 0.1l0.3 1.5l0.3 -2.9l0.4 2l0.3 -0.4l0.3 -0.8l0.4 0.3l0.3 -0.2l0.3 0.4l0.3 0.9l0.4 -1.5l0.3 2.2l0.3 -1l0.4 1.6l0.3 -0.6l0.3 0.9l0.3 0.1l0.4 0.8l0.3 -0.7l0.3 -0.8l0.4 1l0.3 0l0.3 1l0.4 -2.9l0.3 1.4l0.3 1.1l0.3 -1.4l0.4 0.9l0.3 1.9l0.3 -0.3l0.4 -1.3l0.3 1.8l0.3 0.1l0.3 -0.1l0.4 0l0.3 0.1l0.3 -0.6l0.4 0.5l0.3 1.1l0.3 -0.2l0.3 1.5l0.4 -1.3l0.3 -1.3l0.3 1.7l0.4 0.7l0.3 0.3l0.3 0.2l0.4 -0.1l0.3 2.1l0.3 -1.6l0.3 0.8l0.4 -0.8l0.3 -0.6l0.3 1.8l0.4 -2.8l0.3 1.3l0.3 1.1l0.3 -0.3l0.4 1l0.3 -0.4l0.3 0l0.4 2l0.3 -1.4l0.3 0.3l0.3 0.5l0.4 1.6l0.3 2.4l0.3 1.4l0.4 1.1l0.3 0.9l0.3 1.8l0.4 -1.3l0.3 1.4l0.3 0.4l0.3 0l0.4 1.1l0.3 -0.2l0.3 0.3l0.4 2.2l0.3 -0.4l0.3 0.7l0.3 -0.4l0.4 -0.2l0.3 -1l0.3 0.3l0.4 0.8l0.3 -1.8l0.3 0.4l0.4 -0.3l0.3 -2.4l0.3 1.5l0.3 1l0.4 0.4l0.3 -0.8l0.3 1.2l0.4 0.1l0.3 -1.2l0.3 1.3l0.3 0.3l0.4 -0.6l0.3 -0.8l0.3 1.9l0.4 -0.9l0.3 0.1l0.3 0.6l0.3 0l0.4 1.6l0.3 0.2l0.3 0.1l0.4 -0.6l0.3 -1l0.3 0.4l0.4 0.8l0.3 -0.9l0.3 2.5l0.3 -2l0.4 0l0.3 1.4l0.3 0l0.4 -0.3l0.3 0.1l0.3 0.6l0.3 0.6l0.4 0.1l0.3 -0.5l0.3 0.8l0.4 0.5l0.3 0.1l0.3 -2.4l0.3 1.7l0.4 0.4l0.3 0.6l0.3 0.5l0.4 0.7l0.3 0l0.3 -0.1l0.4 0.6l0.3 1.6l0.3 -1.4l0.3 0.5l0.4 0.7l0.3 -0.9l0.3 -1.6l0.4 1.7l0.3 -0.6l0.3 0.4l0.3 1.1l0.4 -0.2l0.3 -0.3l0.3 1l0.4 -0.1l0.3 0l0.3 0.4l0.4 0.5l0.3 1l0.3 1.4l0.3 1.7l0.4 0.8l0.3 1.2l0.3 3.2l0.4 -0.7l0.3 0.5l0.3 0.3l0.3 0.5l0.4 0.4l0.3 0.4l0.3 -0.2l0.4 1.6l0.3 -0.8l0.3 1.6l0.3 -1.6l0.4 0.3l0.3 0.6l0.3 -1.2l0.4 -0.4l0.3 0.7l0.3 -1l0.4 0.8" fill="none" stroke="#ef3838" stroke-width="2.2" stroke-linejoin="round"/>
<path d="M120.2 15l0.3 0.5l0.3 0.4l0.4 0l0.3 0.3l0.3 -0.1l0.3 0l0.4 -0.5l0.3 0.4l0.3 0.4l0.4 0.4l0.3 -0.2l0.3 0l0.4 0.4l0.3 0.3l0.3 0.7l0.3 0l0.4 -0.4l0.3 -0.2l0.3 -0.1l0.4 0.3l0.3 0.1l0.3 0l0.3 0.3l0.4 -0.1l0.3 0l0.3 0l0.4 0.1l0.3 0.4l0.3 0.2l0.3 0.2l0.4 0l0.3 1l0.3 1.4l0.4 1.5l0.3 1.3l0.3 1.6l0.4 1.2l0.3 0.8l0.3 0.4l0.3 0.4l0.4 0.3l0.3 0.3l0.3 0.6l0.4 0.3l0.3 0.5l0.3 0.5l0.3 0.6l0.4 0.1l0.3 0.2l0.3 -0.8l0.4 -0.6l0.3 0.1l0.3 -0.1l0.4 0.1l0.3 -0.2l0.3 -0.1l0.3 -0.1l0.4 0l0.3 0.2l0.3 0.1l0.4 -0.1l0.3 -0.1l0.3 0l0.3 -0.2l0.4 -0.1l0.3 0l0.3 0.4l0.4 0.3l0.3 0.3l0.3 0.2l0.3 0.3l0.4 0.3l0.3 0.4l0.3 0.4l0.4 0.2l0.3 0.3l0.3 -0.3l0.4 0.1l0.3 -0.2l0.3 0l0.3 0.1l0.4 0.4l0.3 0.3l0.3 0.3l0.4 0.2l0.3 0l0.3 0.4l0.3 0.2l0.4 0.5l0.3 -0.2l0.3 0.3l0.4 0.1l0.3 0.3l0.3 0.4l0.3 0.3l0.4 0.3l0.3 -0.1l0.3 0.3l0.4 0.4l0.3 0.3l0.3 0.3l0.4 0.2l0.3 0.1l0.3 0.2l0.3 0.2l0.4 0.4l0.3 0.1l0.3 0.1l0.4 -0.2l0.3 -0.3l0.3 0.1l0.3 0.1l0.4 0.2l0.3 0.1l0.3 0.1l0.4 0.3l0.3 0.2l0.3 0.6l0.4 0l0.3 0l0.3 0.4l0.3 1.6l0.4 1.6l0.3 1.5l0.3 1.7l0.4 1.6l0.3 1.2l0.3 0.1l0.3 0.4l0.4 0.5l0.3 0.6l0.3 0.4l0.4 0.4l0.3 0.1l0.3 0.2l0.3 0.3l0.4 0.3l0.3 0.3l0.3 0l0.4 -0.8l0.3 -0.3l0.3 -0.2l0.4 -0.2l0.3 0.3l0.3 -0.3l0.3 0.1l0.4 -0.1l0.3 0.1l0.3 0.2l0.4 0.1l0.3 0.1l0.3 -0.1l0.3 -0.4l0.4 0.2l0.3 0.1l0.3 0.4l0.4 0.3l0.3 0.3l0.3 0.4l0.4 0.1l0.3 0l0.3 0.2l0.3 0.5l0.4 0.4l0.3 0.2l0.3 -0.2l0.4 0.1l0.3 -0.3l0.3 0l0.3 0l0.4 0.2l0.3 0.2l0.3 -0.1l0.4 0.5l0.3 0l0.3 0.2l0.3 -0.1l0.4 0.3l0.3 0.6l0.3 0.2l0.4 0.4l0.3 0l0.3 0.7l0.4 0.3l0.3 0.7l0.3 -0.3l0.3 0.3l0.4 -0.2l0.3 0.4l0.3 0.2l0.4 0.2l0.3 0l0.3 0.2l0.3 0.5l0.4 0.5l0.3 -0.1l0.3 -0.1l0.4 0l0.3 0.2l0.3 0l0.3 -0.1l0.4 0.1l0.3 0.3l0.3 0.2l0.4 0.4l0.3 0.4l0.3 0.4l0.4 0.1l0.3 0.4l0.3 0.3l0.3 1.1l0.4 1.2l0.3 1.3l0.3 1.4l0.4 1.5l0.3 1.3l0.3 0.8l0.3 0.3l0.4 0.2l0.3 0.4l0.3 0.1l0.4 1l0.3 0.6l0.3 0.9l0.4 0.1l0.3 0.3l0.3 0.4l0.3 0.5l0.4 -0.9l0.3 -1.1l0.3 -0.1l0.4 -0.2l0.3 -0.1l0.3 -0.2l0.3 0.1l0.4 0.4l0.3 -0.1l0.3 0.2l0.4 0.1l0.3 0.1l0.3 -0.3l0.3 -0.2l0.4 0.2l0.3 0l0.3 0l0.4 0.1l0.3 0l0.3 0.4l0.4 0.3l0.3 0.6l0.3 0.3l0.3 0.4l0.4 0.6l0.3 0.2l0.3 -0.3l0.4 -0.4l0.3 0l0.3 0.3l0.3 0.3l0.4 0l0.3 0l0.3 -0.2l0.4 0.2l0.3 0.5l0.3 0.4l0.3 0.3l0.4 -0.1l0.3 0.3l0.3 0.3l0.4 0.3l0.3 0.1l0.3 0.4l0.4 0.2l0.3 0.5l0.3 0.2l0.3 0.2l0.4 0.1l0.3 0.1l0.3 0.1l0.4 0l0.3 0.1l0.3 0.6l0.3 0.5l0.4 0.7l0.3 0.3l0.3 -0.7l0.4 -0.2l0.3 -0.4l0.3 0.5l0.4 -0.1l0.3 0.2l0.3 0.4l0.3 0.1l0.4 0.3l0.3 0l0.3 0.2l0.4 0.3l0.3 0.2l0.3 0.4l0.3 0.4l0.4 1.9l0.3 1.4l0.3 1.3l0.4 0.8l0.3 1.5l0.3 1.5l0.3 0.5l0.4 0.3l0.3 0.5l0.3 0.4l0.4 0.3l0.3 0.2l0.3 0.4l0.4 0.7l0.3 0.6l0.3 0.4l0.3 0.2l0.4 -0.2l0.3 -0.6l0.3 -0.5l0.4 0.1l0.3 -0.2l0.3 -0.1l0.3 0l0.4 -0.1l0.3 0.1l0.3 0l0.4 0.2l0.3 0.2l0.3 -0.1l0.4 -0.1l0.3 0.1l0.3 -0.1l0.3 0l0.4 0l0.3 0.5l0.3 0.2l0.4 0.2l0.3 0.3l0.3 0.3l0.3 0.3l0.4 0.4l0.3 0.3l0.3 0l0.4 -0.2l0.3 -0.3l0.3 0.2l0.3 0.3l0.4 0.4l0.3 0.1l0.3 -0.1l0.4 0.2l0.3 -0.1l0.3 0.4l0.4 0.2l0.3 0.2l0.3 0.4l0.3 0l0.4 0.3l0.3 0l0.3 0.3l0.4 0.2l0.3 0.5l0.3 0.3l0.3 0.1l0.4 0l0.3 0l0.3 0.3l0.4 0.1l0.3 0.3l0.3 0.4l0.3 0.4l0.4 0.3l0.3 0.6l0.3 0l0.4 -0.2l0.3 0l0.3 0.4l0.4 -0.1l0.3 -0.4l0.3 -0.1l0.3 0.3l0.4 0.4l0.3 0.1l0.3 0.5l0.4 -0.1l0.3 -0.1l0.3 0l0.3 0.8l0.4 1.4l0.3 1.4l0.3 1.3l0.4 1.6l0.3 1.6l0.3 1.3l0.4 0.8l0.3 0.6l0.3 0.5l0.3 0.4l0.4 0.2l0.3 0.3l0.3 0.2l0.4 0.4l0.3 0.4l0.3 0.5l0.3 0.5l0.4 0.5l0.3 -0.7l0.3 -1.2l0.4 0l0.3 -0.2l0.3 0.1l0.3 -0.2l0.4 0.2l0.3 0.3l0.3 0l0.4 -0.4l0.3 -0.1l0.3 0.1l0.4 0.4l0.3 -0.3l0.3 -0.2l0.3 -0.2l0.4 0.3l0.3 0.5l0.3 0.4l0.4 0.5l0.3 0.2l0.3 0l0.3 -0.3l0.4 0.6l0.3 0.7l0.3 0.6l0.4 -0.1l0.3 -0.3l0.3 0.3l0.3 -0.2l0.4 -0.1l0.3 -0.3l0.3 -0.1l0.4 0.1l0.3 0.4l0.3 0.6l0.4 0.7l0.3 0.2l0.3 0.1l0.3 -0.3l0.4 0.4l0.3 0.4l0.3 0.3l0.4 0.1l0.3 0.3l0.3 0l0.3 0.3l0.4 0.1l0.3 0.5l0.3 0l0.4 0.5l0.3 0.5l0.3 0.6l0.4 -0.1l0.3 0.2l0.3 0.3l0.3 0.2l0.4 -0.2l0.3 -0.5l0.3 0.4l0.4 0.3l0.3 0.3l0.3 -0.2l0.3 0l0.4 0.1l0.3 0.2l0.3 0.2l0.4 0.5l0.3 0l0.3 0.2l0.3 0.3l0.4 0.6l0.3 1.6l0.3 1.2l0.4 1.1l0.3 1.5l0.3 1.3l0.4 1.8l0.3 0.1l0.3 0.3l0.3 0.3l0.4 0.6l0.3 0.7l0.3 0.2l0.4 0.4l0.3 0.2l0.3 0.5l0.3 0.1l0.4 0.6l0.3 -0.1l0.3 -0.8l0.4 -0.3l0.3 0l0.3 -0.2l0.4 -0.2l0.3 -0.2l0.3 0.2l0.3 0.2l0.4 -0.2l0.3 0.2l0.3 0l0.4 0.3l0.3 -0.3l0.3 -0.2l0.3 0l0.4 0.3l0.3 0.2l0.3 0.4l0.4 0.1l0.3 0.5l0.3 -0.2l0.3 0.1l0.4 0.2l0.3 0.6l0.3 0.8l0.4 -0.3l0.3 0.1l0.3 -0.3l0.4 0.1l0.3 0l0.3 0.1l0.3 0.1l0.4 0.5l0.3 0.3l0.3 0.1l0.4 0l0.3 0.4l0.3 0.5l0.3 0.4l0.4 0l0.3 0.2l0.3 0.1l0.4 0.4l0.3 0.1l0.3 -0.4l0.3 0.1l0.4 0.5l0.3 0.4l0.3 0.2l0.4 0l0.3 0.6l0.3 0.6l0.4 -0.1l0.3 0.4l0.3 0.4l0.3 0.5l0.4 -0.1l0.3 0l0.3 0.3l0.4 0.1l0.3 -0.7l0.3 -0.2l0.3 0.1l0.4 0.5l0.3 0.3l0.3 0.6l0.4 0.2l0.3 0.1l0.3 -0.2l0.4 0.2l0.3 0.3l0.3 1.1l0.3 1.6l0.4 1.5l0.3 1.3l0.3 1.3l0.4 1.5l0.3 0.9l0.3 0.6l0.3 0.4l0.4 0.3l0.3 0.3l0.3 0.6l0.4 0.7l0.3 0.4l0.3 0.2l0.3 0l0.4 0.2l0.3 0.4l0.3 -0.8l0.4 -0.5l0.3 -0.1l0.3 0l0.4 -0.1l0.3 0l0.3 0.1l0.3 0.1l0.4 0l0.3 -0.4l0.3 -0.1l0.4 0.1l0.3 0.5l0.3 0.2l0.3 -0.2l0.4 -0.5l0.3 0.2l0.3 0.3l0.4 0.2l0.3 0.3l0.3 0.2l0.3 0.5l0.4 0l0.3 0.4l0.3 0.2l0.4 0.8l0.3 -0.2l0.3 -0.2l0.4 0l0.3 0.1l0.3 0.1l0.3 0.1l0.4 -0.1l0.3 0.4l0.3 0.1l0.4 0l0.3 0.3l0.3 0.1l0.3 0.6l0.4 -0.1l0.3 0.3l0.3 0l0.4 0.3l0.3 0.1l0.3 0.2l0.4 0.6l0.3 0.1l0.3 0.3l0.3 -0.1l0.4 0.5l0.3 0.4l0.3 0.4l0.4 0.2l0.3 0.2l0.3 0.3l0.3 0.7l0.4 0.4l0.3 -0.3l0.3 -0.6l0.4 0.2l0.3 0.3l0.3 0.3l0.3 -0.3l0.4 0l0.3 0.1l0.3 0.1l0.4 0.3l0.3 0.2l0.3 0.1l0.4 0.2l0.3 0.4l0.3 0.7l0.3 1.5l0.4 1l0.3 1.5l0.3 1.4l0.4 1.6l0.3 1.1l0.3 0.5l0.3 0.4l0.4 0.7l0.3 0.3l0.3 0.6l0.4 0.2l0.3 0.3l0.3 0.3l0.4 0.3l0.3 0.7l0.3 0.4l0.3 -0.3l0.4 -0.8l0.3 -0.2l0.3 0.2l0.4 0l0.3 -0.1l0.3 0l0.3 0l0.4 0l0.3 -0.1l0.3 -0.1l0.4 0.3l0.3 -0.1l0.3 0l0.3 -0.4l0.4 0l0.3 0.1l0.3 0.1l0.4 -0.1l0.3 0.3l0.3 0.1l0.4 0.6l0.3 0.2l0.3 0.7l0.3 0.7l0.4 0.6l0.3 -0.3l0.3 -0.6l0.4 -0.2l0.3 0.1l0.3 -0.2l0.3 0.1l0.4 0.1l0.3 0.7l0.3 0.1l0.4 0.3l0.3 0l0.3 0.2l0.3 0l0.4 0.3l0.3 0.5l0.3 0.6l0.4 0.2l0.3 -0.1l0.3 0.4l0.4 0l0.3 0.5l0.3 0.1l0.3 0.2l0.4 0.2l0.3 0.2l0.3 0.4l0.4 0.2l0.3 0.2l0.3 0.4l0.3 0.5l0.4 0.4l0.3 0l0.3 -0.4l0.4 -0.2l0.3 -0.1l0.3 0l0.4 0.2l0.3 0.4l0.3 0l0.3 0.3l0.4 -0.3l0.3 0.3l0.3 0.2l0.4 0.2l0.3 0.1l0.3 0.3l0.3 1.5l0.4 1.7l0.3 1.3l0.3 1.7l0.4 1.4l0.3 1.5l0.3 0.7l0.3 0.5l0.4 0.5l0.3 0.3l0.3 0.3l0.4 0.6l0.3 0.2l0.3 0.2l0.4 0.4l0.3 0.4l0.3 0.4l0.3 0.2l0.4 -0.8l0.3 -0.7l0.3 0.1l0.4 -0.1l0.3 0.1l0.3 -0.2l0.3 0l0.4 0.1l0.3 0.3l0.3 0.2l0.4 -0.1l0.3 0l0.3 0l0.3 -0.1l0.4 0.1l0.3 0l0.3 0.3l0.4 0.3l0.3 0.1l0.3 0l0.4 0.1l0.3 0.1l0.3 0.4l0.3 0.4l0.4 0.6l0.3 0.4l0.3 -0.3l0.4 -0.3l0.3 0l0.3 0l0.3 -0.1l0.4 -0.2l0.3 0.2l0.3 0.4l0.4 0.4l0.3 0.6l0.3 0.4l0.4 0.2l0.3 0.1l0.3 0.2l0.3 0.1l0.4 0.1l0.3 0.1l0.3 0.3l0.4 0l0.3 0.1l0.3 0.3l0.3 0.1l0.4 0.3l0.3 0.3l0.3 0.4l0.4 0.2l0.3 0.4l0.3 0.2l0.3 0.4l0.4 0.2l0.3 0l0.3 -0.5l0.4 0.3l0.3 0.1l0.3 0.3l0.4 0l0.3 0.2l0.3 0.4l0.3 0.3l0.4 0.4l0.3 0.3l0.3 0.1l0.4 0l0.3 -0.1l0.3 0.1l0.3 0.4l0.4 1.2l0.3 1.8l0.3 1.6l0.4 1.6l0.3 1l0.3 1.5l0.4 0.3l0.3 0.4l0.3 0.2l0.3 0.2l0.4 0.4l0.3 0.6l0.3 0.9l0.4 0.6l0.3 0.6l0.3 0.2l0.3 0.2l0.4 -0.7l0.3 -0.9l0.3 -0.7l0.4 0.1l0.3 0.3l0.3 0.3l0.3 0.2l0.4 -0.3l0.3 -0.2l0.3 -0.3l0.4 0l0.3 0.4l0.3 0.4l0.4 -0.1l0.3 -0.2l0.3 -0.3l0.3 0.1l0.4 0.1l0.3 0.2l0.3 0.4l0.4 0.4l0.3 0.1l0.3 0.1l0.3 0l0.4 0.9l0.3 0.3l0.3 0.3l0.4 -0.4l0.3 0l0.3 -0.2l0.3 -0.2l0.4 0.4l0.3 0.3l0.3 0.5l0.4 0.3l0.3 0.1l0.3 0.3l0.4 -0.1l0.3 0.5l0.3 0.2l0.3 0.3l0.4 0l0.3 0.2l0.3 0.3l0.4 0l0.3 0.1l0.3 0l0.3 0.5l0.4 0l0.3 0.4l0.3 0.1l0.4 0.5l0.3 0.1l0.3 0.1l0.4 0.4l0.3 0.3l0.3 0.6l0.3 -0.1l0.4 0.1l0.3 0.1l0.3 0l0.4 0.3l0.3 0.1l0.3 -0.1l0.3 -0.2l0.4 0.1l0.3 0.4l0.3 0.2l0.4 0.2l0.3 0.5l0.3 0.3l0.3 0.3l0.4 0.8l0.3 1.4l0.3 1.7l0.4 1.6l0.3 1.6l0.3 0.8l0.4 0.8l0.3 0.4l0.3 1.1l0.3 0.3l0.4 0l0.3 0.2l0.3 0.3l0.4 0.4l0.3 0.2l0.3 0.6l0.3 0.8l0.4 0.6l0.3 -1.2l0.3 -0.6l0.4 -0.3l0.3 0.2l0.3 -0.6l0.3 0.4l0.4 0l0.3 0.4l0.3 -0.2l0.4 -0.1l0.3 -0.1l0.3 -0.3l0.4 0.2l0.3 0.1l0.3 0.2l0.3 -0.2l0.4 0.1l0.3 0.5l0.3 0.3l0.4 0.2l0.3 -0.1l0.3 0l0.3 0.1l0.4 0.6l0.3 0.6l0.3 0.5l0.4 -0.1l0.3 -0.1l0.3 0.1l0.4 -0.1l0.3 0l0.3 0l0.3 0.1l0.4 0l0.3 0.4l0.3 0l0.4 0.6l0.3 0l0.3 0.6l0.3 0.1l0.4 0.1l0.3 0.2l0.3 0.3l0.4 0.4l0.3 0l0.3 0.4l0.3 0.3l0.4 0.3l0.3 -0.2l0.3 0.1l0.4 0.2l0.3 0.7l0.3 0.4l0.4 0.3l0.3 0.4l0.3 0.4l0.3 0.2l0.4 -0.3l0.3 -0.4l0.3 0.2l0.4 0l0.3 0.2l0.3 -0.3l0.3 0.1l0.4 0.5l0.3 0.3l0.3 0l0.4 0.1l0.3 0.1l0.3 0.1l0.4 0.1l0.3 0.6l0.3 1.7l0.3 1.5l0.4 1.5l0.3 1.5l0.3 1.4l0.4 1.3l0.3 0.5l0.3 0.6l0.3 0.6l0.4 0.4l0.3 -0.3l0.3 0.1l0.4 0.3l0.3 0.9l0.3 0.3l0.3 0.6l0.4 0.4l0.3 -0.1l0.3 -1l0.4 -0.5l0.3 0l0.3 0l0.4 0l0.3 -0.1l0.3 -0.2l0.3 0.1l0.4 0l0.3 0.3l0.3 -0.2l0.4 0.5l0.3 -0.1l0.3 0l0.3 -0.2l0.4 0.1l0.3 0.3l0.3 0l0.4 0.1l0.3 0.5l0.3 0.2l0.3 0.3l0.4 0.1l0.3 0.7l0.3 0.3l0.4 0l0.3 0l0.3 0.1l0.4 -0.2l0.3 0.1l0.3 -0.3l0.3 0.4l0.4 0l0.3 0.6l0.3 0.2l0.4 0.3l0.3 0.1l0.3 0.3l0.3 0.1l0.4 0.6l0.3 0l0.3 0.3l0.4 0l0.3 0.3l0.3 0l0.4 0.2l0.3 0l0.3 0.1l0.3 0.3l0.4 0.2l0.3 0.7l0.3 0l0.4 0.6l0.3 0.2l0.3 0.6l0.3 0.4l0.4 -0.2l0.3 -0.2l0.3 0.1l0.4 0.2l0.3 0.2l0.3 -0.1l0.3 -0.1l0.4 -0.2l0.3 0.3l0.3 0.4l0.4 0.4l0.3 0.2l0.3 0.3l0.4 0.3l0.3 0.3l0.3 1l0.3 1.1l0.4 1.2l0.3 1.4l0.3 1.7l0.4 1.4l0.3 0.8l0.3 0.2l0.3 0.5l0.4 0.5l0.3 0.6l0.3 0.5l0.4 0.4l0.3 0.3l0.3 0.3l0.3 0.4l0.4 0.6l0.3 0l0.3 -0.9l0.4 -1l0.3 0.5l0.3 -0.2l0.4 0l0.3 0l0.3 0.1l0.3 -0.3l0.4 -0.2l0.3 -0.1l0.3 0.3l0.4 0l0.3 0.4l0.3 -0.1l0.3 0l0.4 -0.3l0.3 0l0.3 0.4l0.4 0.5l0.3 0.3l0.3 0.4l0.4 -0.2l0.3 0.3l0.3 0.7l0.3 0.4l0.4 0.5l0.3 -0.3l0.3 -0.3l0.4 -0.4l0.3 -0.3l0.3 0.4l0.3 0.2l0.4 0.3l0.3 0.2l0.3 0.3l0.4 0.3l0.3 0.1l0.3 0.3l0.3 0.1l0.4 0.5l0.3 0.1l0.3 0.2l0.4 0.1l0.3 0.3l0.3 0.1l0.4 0.1l0.3 0l0.3 0.4l0.3 0.3l0.4 0.3l0.3 0.4l0.3 0.1l0.4 0.6l0.3 0.3l0.3 0.3l0.3 0.1l0.4 0.1l0.3 0l0.3 0l0.4 0.3l0.3 0l0.3 0l0.4 -0.1l0.3 0.2l0.3 0.2l0.3 0.3l0.4 0.4l0.3 0.1l0.3 -0.2l0.4 0l0.3 0.3l0.3 0.5l0.3 1.4l0.4 1.5l0.3 1.7l0.3 1.4l0.4 1.6l0.3 1.6l0.3 0.6l0.3 0.3l0.4 0.3l0.3 0.3l0.3 0.6l0.4 0l0.3 0.6l0.3 -0.2l0.4 0.5l0.3 0.3l0.3 0.5l0.3 -0.1l0.4 -0.6l0.3 -0.5l0.3 0.1l0.4 -0.2l0.3 0.2l0.3 -0.3l0.3 0.2l0.4 -0.1l0.3 0l0.3 0l0.4 -0.1l0.3 -0.1l0.3 0l0.3 0.1l0.4 -0.1l0.3 -0.1l0.3 0.1l0.4 0.4l0.3 0.4l0.3 0.3l0.4 0.2l0.3 0.2l0.3 0.1l0.3 0.2l0.4 0.5l0.3 -0.1l0.3 0.1l0.4 -0.2l0.3 0.3l0.3 0l0.3 0.2l0.4 -0.1l0.3 0.2l0.3 0l0.4 0.3l0.3 0.5l0.3 0.6l0.4 0.4l0.3 0.2l0.3 0.2l0.3 -0.1l0.4 0.2l0.3 0.2l0.3 0.1l0.4 0.5l0.3 0l0.3 0.4l0.3 0l0.4 0.5l0.3 0.1l0.3 0.1l0.4 0.1l0.3 0.3l0.3 0.4l0.3 0.5l0.4 0.6l0.3 0l0.3 -0.3l0.4 0.1l0.3 -0.2l0.3 0.2l0.4 0l0.3 0.2l0.3 0l0.3 0.1l0.4 0.1l0.3 0.3l0.3 0.5l0.4 0.5l0.3 0.1l0.3 0.2l0.3 0.7l0.4 1.2l0.3 1.3l0.3 1.5l0.4 1.6l0.3 1.3l0.3 1l0.3 0.5l0.4 0.4l0.3 0.6l0.3 0.6l0.4 0.5l0.3 0.2l0.3 0.2l0.4 0.7l0.3 0.1l0.3 0.3l0.3 0.1l0.4 -0.8l0.3 -0.4l0.3 -0.2l0.4 0l0.3 -0.2l0.3 0.3l0.3 0.3l0.4 0l0.3 0.2l0.3 -0.2l0.4 0l0.3 -0.2l0.3 0l0.4 0l0.3 -0.2l0.3 -0.1l0.3 0l0.4 0.2l0.3 0.1l0.3 0.5l0.4 0.1l0.3 0.7l0.3 0.4l0.3 0.9l0.4 0.2l0.3 0l0.3 -0.2l0.4 -0.1l0.3 0.2l0.3 -0.3l0.3 0.1l0.4 -0.2l0.3 0.3l0.3 -0.1l0.4 0.2l0.3 0.3l0.3 0.4l0.4 0.3l0.3 0.2l0.3 0.3l0.3 0.5l0.4 -0.2l0.3 0.3l0.3 0.1l0.4 0.4l0.3 -0.1l0.3 0.3l0.3 0.3l0.4 0.3l0.3 0.2l0.3 0.3l0.4 0.4l0.3 0l0.3 0.5l0.4 0.6l0.3 0.6l0.3 -0.1l0.3 -0.3l0.4 -0.2l0.3 0.2l0.3 0.1l0.4 -0.2l0.3 0.4l0.3 -0.1l0.3 0.7l0.4 -0.1l0.3 0.2l0.3 0l0.4 0.2l0.3 0.5l0.3 0.4l0.3 0.3l0.4 1.5l0.3 1.4l0.3 1.5l0.4 1.2l0.3 1.2l0.3 1.5l0.4 0.7l0.3 0.4l0.3 0l0.3 0.5l0.4 0.3l0.3 0.6l0.3 0.1l0.4 0.3l0.3 0.4l0.3 0.5l0.3 0.8l0.4 0.1l0.3 -0.9l0.3 -0.4l0.4 -0.2l0.3 -0.1l0.3 -0.2l0.3 0l0.4 0.1l0.3 0.1l0.3 -0.3l0.4 0l0.3 0l0.3 0.1l0.4 0.2l0.3 0l0.3 -0.3l0.3 -0.1l0.4 0l0.3 0.4l0.3 0.4l0.4 0.8l0.3 0.3l0.3 -0.1l0.3 0.1l0.4 0.2l0.3 0.5l0.3 0.1l0.4 0.3l0.3 -0.2l0.3 -0.5l0.4 0.1l0.3 0.1l0.3 0.3l0.3 0.2l0.4 0.1l0.3 0l0.3 0.3l0.4 0.2l0.3 0.4l0.3 -0.1l0.3 0.4l0.4 0.2l0.3 0.6l0.3 0.1l0.4 0.5l0.3 0.1l0.3 0.2l0.3 -0.3l0.4 0.2l0.3 0.4l0.3 1l0.4 0.2l0.3 -0.1l0.3 -0.1l0.4 0.7l0.3 0.5l0.3 0.5l0.3 -0.4l0.4 -0.2l0.3 0.1l0.3 0.5l0.4 0l0.3 -0.2l0.3 -0.1l0.3 0.4l0.4 0.4l0.3 0l0.3 0.1l0.4 0.3l0.3 0.3l0.3 -0.1l0.3 0.2l0.4 1.3l0.3 1.8l0.3 1.3l0.4 1.3l0.3 1.3l0.3 1.2l0.4 0.8l0.3 0.4l0.3 0.5l0.3 0.6l0.4 0.3l0.3 0.5l0.3 0.1l0.4 0.8l0.3 0.4l0.3 0.4l0.3 0.3l0.4 0.4l0.3 -0.9l0.3 -0.7l0.4 0.1l0.3 0.3l0.3 -0.1l0.4 0l0.3 -0.2l0.3 -0.3l0.3 0l0.4 0l0.3 0.2l0.3 -0.1l0.4 -0.1l0.3 -0.2l0.3 0.1l0.3 0.2l0.4 0.3l0.3 0.2l0.3 0.2l0.4 0.2l0.3 0.1l0.3 -0.2l0.3 0.6l0.4 0.5l0.3 0.6l0.3 0l0.4 -0.3l0.3 0.1l0.3 0.2l0.4 -0.1l0.3 0l0.3 -0.2l0.3 0.3l0.4 0.2l0.3 0.3l0.3 0.1l0.4 0.2l0.3 0.3l0.3 0.3l0.3 0.3l0.4 0.2l0.3 0.2l0.3 0.1l0.4 0.2l0.3 0.6l0.3 0.5l0.4 0l0.3 0.2l0.3 0.2l0.3 0.3l0.4 0.2l0.3 0.2l0.3 0.5l0.4 0.1l0.3 0.5l0.3 0.2l0.3 0.3l0.4 -0.1l0.3 0l0.3 -0.1l0.4 -0.2l0.3 -0.1l0.3 -0.1l0.3 0.4l0.4 0.2l0.3 0.4l0.3 0.2l0.4 0.5l0.3 0.2l0.3 0.1l0.4 0.2l0.3 0.5l0.3 1.4l0.3 1l0.4 1.6l0.3 1.6l0.3 1.7l0.4 1.2l0.3 0.3l0.3 0.2l0.3 0.3l0.4 0.5l0.3 0.5l0.3 0.7l0.4 0.2l0.3 0.3l0.3 0l0.3 0.7l0.4 0.3l0.3 0l0.3 -0.8l0.4 -0.3l0.3 0l0.3 -0.5l0.4 0l0.3 -0.4l0.3 0.3l0.3 0.1l0.4 0.1l0.3 0.1l0.3 0.1l0.4 0l0.3 -0.2l0.3 -0.3l0.3 0.1l0.4 0.4l0.3 0.3l0.3 0.4l0.4 -0.2l0.3 0.4l0.3 0.3l0.4 0.2l0.3 0l0.3 0.4l0.3 0.7l0.4 0.2l0.3 0l0.3 -0.3l0.4 -0.3l0.3 0l0.3 0.1l0.3 0.3l0.4 0.1l0.3 0.2l0.3 0.3l0.4 0.3l0.3 0.1l0.3 0l0.3 0.2l0.4 0.1l0.3 0.5l0.3 0.3l0.4 0.2l0.3 0.5l0.3 0.3l0.4 0.3l0.3 -0.1l0.3 0l0.3 0.3l0.4 0.5l0.3 0.2l0.3 0.1l0.4 0.3l0.3 0.6l0.3 0.6l0.3 0.3l0.4 -0.2l0.3 -0.3l0.3 0.1l0.4 -0.3l0.3 0l0.3 -0.2l0.3 0.6l0.4 0.5l0.3 0.7l0.3 0.1l0.4 -0.1l0.3 0.1l0.3 0.1l0.4 0.4l0.3 0l0.3 1l0.3 1.4l0.4 1.9l0.3 1.5l0.3 1.7l0.4 1.6l0.3 0.6l0.3 0.1l0.3 -0.2l0.4 0.6l0.3 0.3l0.3 0.5l0.4 0.5l0.3 0.6l0.3 0.5l0.4 0.2l0.3 0.3l0.3 0.4l0.3 -0.8l0.4 -0.9l0.3 0.1l0.3 -0.3l0.4 0.1l0.3 0.2l0.3 0.2l0.3 -0.3l0.4 -0.1l0.3 0l0.3 -0.3l0.4 -0.2l0.3 0.1l0.3 0.5l0.3 0.2l0.4 0l0.3 0.1l0.3 -0.2l0.4 0l0.3 0.2l0.3 0.6l0.4 0.3l0.3 0.1l0.3 0.4l0.3 0.4l0.4 0.2l0.3 -0.3l0.3 0.1l0.4 0.2l0.3 -0.3l0.3 0l0.3 -0.2l0.4 0.7l0.3 0.2l0.3 0.5l0.4 0.2l0.3 0.1l0.3 0.4l0.4 0.3l0.3 0.3l0.3 0.3l0.3 0l0.4 0.3l0.3 0.1l0.3 0.1l0.4 0.1l0.3 0.1l0.3 0.3l0.3 0.3l0.4 0.4l0.3 0.3l0.3 0.2l0.4 -0.1l0.3 0.4l0.3 0.6l0.3 0.9l0.4 0.3l0.3 -0.5l0.3 -0.4l0.4 -0.1l0.3 -0.1l0.3 0l0.4 0.1l0.3 0.3l0.3 0.6l0.3 -0.1l0.4 0.4l0.3 -0.2l0.3 0.5l0.4 0l0.3 0.4l0.3 0.5l0.3 1.5l0.4 1.5l0.3 1.7l0.3 1.4l0.4 1.5l0.3 1.1l0.3 0.5l0.3 0.6l0.4 0l0.3 0.3l0.3 -0.2l0.4 0.7l0.3 0.4l0.3 1.2l0.4 0.5l0.3 0.7l0.3 0l0.3 -0.3l0.4 -1.1l0.3 -0.3l0.3 0.1l0.4 -0.1l0.3 -0.2l0.3 -0.2l0.3 -0.2l0.4 0l0.3 0.3l0.3 0l0.4 -0.1l0.3 -0.1l0.3 0.1l0.4 0.2l0.3 0l0.3 0.1l0.3 -0.1l0.4 0l0.3 0.3l0.3 0.2l0.4 0.4l0.3 0.1l0.3 0.5l0.3 0.5l0.4 0.5l0.3 0l0.3 -0.4l0.4 0.1l0.3 0.5l0.3 -0.2l0.3 0l0.4 -0.4l0.3 0.7l0.3 0.2l0.4 -0.1l0.3 0.2l0.3 0.2l0.4 0.6l0.3 -0.2l0.3 0.2l0.3 0.2l0.4 0.5l0.3 0.5l0.3 0.3l0.4 0.1l0.3 0.1l0.3 0.3l0.3 0.2l0.4 0.4l0.3 0.1l0.3 0.2l0.4 0.1l0.3 0.4l0.3 0.4l0.3 0.7l0.4 0.3l0.3 0.2l0.3 -0.4l0.4 0.1l0.3 -0.4l0.3 0.3l0.4 -0.2l0.3 0.2l0.3 0l0.3 0.5l0.4 0.5l0.3 0l0.3 -0.1l0.4 0.3l0.3 0.2l0.3 0.3l0.3 0.9l0.4 1.9l0.3 1.5l0.3 1.6l0.4 1l0.3 1.4l0.3 0.8l0.4 0.6l0.3 0.2l0.3 0.3l0.3 0.4l0.4 0.6l0.3 0.3l0.3 0.3l0.4 0.4l0.3 0.3l0.3 0.3l0.3 0.4l0.4 -1l0.3 -0.7l0.3 -0.2l0.4 0.2l0.3 0l0.3 0l0.3 0.2l0.4 0.3l0.3 0.3l0.3 -0.3l0.4 -0.1l0.3 -0.2l0.3 0.2l0.4 -0.3l0.3 0l0.3 0.2l0.3 0.3l0.4 0.2l0.3 -0.1l0.3 0.1l0.4 0.4l0.3 0.6l0.3 0.1l0.3 0.4l0.4 0.2l0.3 0.4l0.3 -0.2l0.4 0l0.3 -0.1l0.3 -0.2l0.4 0.1l0.3 0.2l0.3 0.5l0.3 -0.1l0.4 0.2l0.3 0.2l0.3 0.2l0.4 0.1l0.3 0.2l0.3 0.4l0.3 0.3l0.4 0.4l0.3 0.1l0.3 0.3l0.4 0.1l0.3 0.1l0.3 0.4l0.3 0.4l0.4 0l0.3 0l0.3 0.2l0.4 0.5l0.3 0.5l0.3 0.2l0.4 0.7l0.3 0.2l0.3 0.4l0.3 -0.5l0.4 0.1l0.3 0l0.3 -0.1l0.4 0l0.3 -0.3l0.3 0.4l0.3 0.2l0.4 0.1l0.3 0.1l0.3 0.3l0.4 0.5l0.3 0.3l0.3 -0.1l0.3 0.8l0.4 1.6l0.3 1.7l0.3 1l0.4 1.2l0.3 1.4l0.3 1.4l0.4 0.7l0.3 0.3l0.3 0.6l0.3 0l0.4 0.3l0.3 0.2l0.3 0.6l0.4 0.4l0.3 0.5l0.3 0.4l0.3 0.4l0.4 0.1l0.3 -1l0.3 -0.6l0.4 -0.2l0.3 0.3l0.3 0l0.4 0l0.3 -0.2l0.3 0.1l0.3 0l0.4 0l0.3 -0.1l0.3 0.1l0.4 0.2l0.3 0.2l0.3 0l0.3 -0.2l0.4 0.1l0.3 0.2l0.3 0.1l0.4 0.3l0.3 -0.2l0.3 0.3l0.3 0.3l0.4 0.6l0.3 0.6l0.3 0l0.4 0l0.3 -0.2l0.3 0l0.4 0.2l0.3 0l0.3 0.2l0.3 -0.2l0.4 0.3l0.3 0.1l0.3 0.4l0.4 0.2l0.3 0.3l0.3 0.5l0.3 0.3l0.4 0.2l0.3 -0.1l0.3 0.6l0.4 0.5l0.3 0.4l0.3 0l0.4 -0.2l0.3 0.2l0.3 0.1l0.3 0.4l0.4 0.1l0.3 0.1l0.3 0.3l0.4 0.6l0.3 0.3l0.3 0.4l0.3 0.1l0.4 0l0.3 -0.1l0.3 -0.4l0.4 0.3l0.3 -0.2l0.3 0.1l0.3 0l0.4 0.8l0.3 0.3l0.3 0.1l0.4 -0.1l0.3 0.4l0.3 0.6l0.4 0l0.3 0.9l0.3 1.1l0.3 1.7l0.4 1.7l0.3 1.6l0.3 1.2l0.4 0.7l0.3 0.2l0.3 0.7l0.3 0.6l0.4 0.3l0.3 0.1l0.3 0.5l0.4 0.6l0.3 0.9l0.3 0.2l0.3 0.5l0.4 -0.2l0.3 -0.9l0.3 -1.2l0.4 0.2l0.3 -0.1l0.3 0l0.4 0.1l0.3 0l0.3 0.2l0.3 0l0.4 0.1l0.3 0.1l0.3 0l0.4 0.1l0.3 -0.3l0.3 0l0.3 0.1l0.4 0l0.3 0.4l0.3 0.3l0.4 0.6l0.3 0l0.3 -0.3l0.4 0l0.3 0.6l0.3 0.8l0.3 0.4l0.4 -0.2l0.3 -0.1l0.3 -0.1l0.4 0.2l0.3 -0.1l0.3 -0.1l0.3 0.1l0.4 0l0.3 0.3l0.3 0l0.4 0l0.3 0.5l0.3 0.4l0.3 0.5l0.4 0l0.3 0.2l0.3 0.2l0.4 0.2l0.3 0l0.3 0.3l0.4 0.5l0.3 0.3l0.3 0.2l0.3 0.3l0.4 0.6l0.3 0.1l0.3 0.2l0.4 0.4l0.3 0.7l0.3 0.5l0.3 -0.4l0.4 0l0.3 -0.4l0.3 0.1l0.4 0l0.3 0.1l0.3 0.5l0.3 0.2l0.4 0.1l0.3 -0.1l0.3 0l0.4 0.2l0.3 0.4l0.3 0.2l0.4 0.3l0.3 0.6l0.3 1.5l0.3 1.8l0.4 1.6l0.3 1.2l0.3 1.1l0.4 0.8l0.3 0.4l0.3 0.5l0.3 0.5l0.4 0.4l0.3 0.2l0.3 0.7l0.4 0.5l0.3 0.4l0.3 0.4l0.4 0.5l0.3 0.5l0.3 -0.3l0.3 -1.1l0.4 -0.4l0.3 -0.2l0.3 0.3l0.4 0.1l0.3 -0.1l0.3 0l0.3 -0.2l0.4 0.3l0.3 -0.2l0.3 0l0.4 -0.3l0.3 -0.1l0.3 0.2l0.3 0l0.4 0.2l0.3 0l0.3 0.3l0.4 0.2l0.3 0.1l0.3 0.3l0.4 0.1l0.3 0.2l0.3 0.4l0.3 0.6l0.4 0.5l0.3 -0.1l0.3 0.1l0.4 0.1l0.3 0.2l0.3 0l0.3 -0.1l0.4 0l0.3 0.2l0.3 0.3l0.4 0.3l0.3 0.1l0.3 -0.1l0.4 0.3l0.3 0.3l0.3 0.2l0.3 0.2l0.4 0.3l0.3 0.4l0.3 0.3l0.4 0.2l0.3 0.1l0.3 0l0.3 0.2l0.4 0.6l0.3 0.5l0.3 -0.1l0.4 0.1l0.3 0.3l0.3 1l0.3 0.7l0.4 -0.3l0.3 -0.5l0.3 -0.4l0.4 0.2l0.3 -0.1l0.3 0.3l0.4 0.1l0.3 0.5l0.3 -0.3l0.3 0l0.4 0.3l0.3 0.3l0.3 0.3l0.4 0.1l0.3 0.6l0.3 1.2l0.3 1.5l0.4 1.2l0.3 1.4l0.3 1.4l0.4 1.6l0.3 0.8l0.3 0.6l0.3 0l0.4 0.6l0.3 0.2l0.3 0.8l0.4 0.2l0.3 0.5l0.3 0.5l0.4 0.3l0.3 0.3l0.3 0.1l0.3 -0.8l0.4 -1l0.3 0l0.3 -0.1l0.4 0.1l0.3 0l0.3 -0.2l0.3 0.3l0.4 0.1l0.3 0.5l0.3 -0.3l0.4 -0.3l0.3 -0.2l0.3 -0.1l0.4 0.2l0.3 -0.2l0.3 0.4l0.3 0.2l0.4 0.4l0.3 0.5l0.3 0.3l0.4 0l0.3 0.1l0.3 0.2l0.3 0.7l0.4 0l0.3 -0.1l0.3 0l0.4 0.1l0.3 0.1l0.3 -0.3l0.3 0l0.4 0.5l0.3 0.2l0.3 0.1l0.4 0.1l0.3 0.1l0.3 0.4l0.4 0.3l0.3 0.4l0.3 0.3l0.3 -0.1l0.4 0.1l0.3 0.2l0.3 0.4l0.4 0.5l0.3 0.5l0.3 0.1l0.3 -0.1l0.4 0.2l0.3 0.1l0.3 0.2l0.4 0.1l0.3 0.5l0.3 0.4l0.3 0.5l0.4 0.2l0.3 -0.2l0.3 -0.3l0.4 0.3l0.3 -0.1l0.3 0.3l0.4 -0.1l0.3 0.4l0.3 0l0.3 0.2l0.4 0.1l0.3 0.4l0.3 0.4l0.4 0.3l0.3 0.2l0.3 0.4l0.3 1.6l0.4 1.3l0.3 1.4l0.3 1.4l0.4 1.2l0.3 1.6l0.3 0.2l0.4 0.6l0.3 0.5l0.3 0.6l0.3 0.2l0.4 0.2l0.3 0.3l0.3 0.3l0.4 0.2l0.3 0.5l0.3 0.6l0.3 -0.3l0.4 -0.9l0.3 -0.4l0.3 0.2l0.4 -0.1l0.3 0.1l0.3 -0.2l0.3 0.2l0.4 0.1l0.3 -0.1l0.3 -0.1l0.4 -0.2l0.3 0.4l0.3 -0.2l0.4 -0.1l0.3 -0.2l0.3 0.1l0.3 0.4l0.4 0.3l0.3 0.1l0.3 0.1l0.4 0.3l0.3 0.4l0.3 0.4l0.3 0.5l0.4 0.3l0.3 -0.4l0.3 -0.1l0.4 0.3l0.3 0.2l0.3 -0.2l0.4 -0.2l0.3 0.5l0.3 0.4l0.3 0.4l0.4 0l0.3 0.2l0.3 0.1l0.4 0.2l0.3 0.4l0.3 0.2l0.3 0.5l0.4 0l0.3 0.2l0.3 0l0.4 0.3l0.3 -0.3l0.3 0.3l0.3 0.2l0.4 0.6l0.3 0.4l0.3 -0.1l0.4 0.5l0.3 0.3l0.3 0.7l0.4 0.3l0.3 0.4l0.3 0.1l0.3 -0.2l0.4 -0.3l0.3 -0.3l0.3 0.2l0.4 0.3l0.3 0.1l0.3 0.1l0.3 0.2l0.4 0.3l0.3 -0.1l0.3 0.1l0.4 0.2l0.3 0.5l0.3 0.4l0.3 1.3l0.4 1.4l0.3 1.4l0.3 1.1l0.4 1.4l0.3 1.4l0.3 0.7l0.4 0.2l0.3 0.6l0.3 0.5l0.3 0.9l0.4 0.2l0.3 0.4l0.3 0.3l0.4 0.5l0.3 0.2l0.3 0.5l0.3 0.1l0.4 -0.7l0.3 -0.6l0.3 0.2l0.4 0.2l0.3 -0.5l0.3 0.1l0.4 -0.2l0.3 0.1l0.3 -0.2l0.3 -0.2l0.4 0l0.3 -0.1l0.3 0l0.4 0.1l0.3 0.1l0.3 0l0.3 -0.1l0.4 0.3l0.3 0.3l0.3 0.4l0.4 0.2l0.3 0.6l0.3 0.1l0.3 0.2l0.4 0.3l0.3 0.4l0.3 0.1l0.4 -0.4l0.3 0.2l0.3 -0.1l0.4 0.3l0.3 -0.4l0.3 0.2l0.3 0.3l0.4 0.6l0.3 0.1l0.3 0.1l0.4 0l0.3 0.2l0.3 0.4l0.3 0.1l0.4 0.3l0.3 0.2l0.3 0.4l0.4 0.1l0.3 0.2l0.3 0.2l0.3 0.2l0.4 0.4l0.3 0.2l0.3 0l0.4 0.2l0.3 0.4l0.3 0.8l0.4 0.5l0.3 0.4l0.3 0.1l0.3 -0.5l0.4 -0.1l0.3 0.2l0.3 0.3l0.4 0l0.3 -0.1l0.3 0.1l0.3 0.2l0.4 0.2l0.3 0.2l0.3 0.1l0.4 0.1l0.3 0.3l0.3 0.3l0.4 0.3l0.3 1.3l0.3 1.2l0.3 2l0.4 1.6l0.3 1.8l0.3 1l0.4 0.1l0.3 0.3l0.3 0.5l0.3 0.4l0.4 0.4l0.3 0.5l0.3 0.6l0.4 0.2l0.3 0l0.3 0.3l0.3 0.5l0.4 0.1l0.3 -0.7l0.3 0l0.4 -0.1l0.3 0l0.3 0l0.4 -0.1" fill="none" stroke="#1468dc" stroke-width="2" stroke-linejoin="round"/>
<path d="M120.2 15.5l0.3 0l0.3 0.1l0.4 0.1l0.3 0.3l0.3 0.1l0.3 0.3l0.4 0.2l0.3 0l0.3 0.1l0.4 -0.1l0.3 0.4l0.3 0.1l0.4 0.1l0.3 0.2l0.3 0.1l0.3 0.3l0.4 -0.1l0.3 0l0.3 -0.1l0.4 -0.1l0.3 0.1l0.3 -0.2l0.3 0.2l0.4 0.1l0.3 0.3l0.3 0l0.4 0.4l0.3 0l0.3 0.2l0.3 -0.3l0.4 0.3l0.3 1.1l0.3 1.6l0.4 1.2l0.3 1.5l0.3 1.3l0.4 1.6l0.3 0.8l0.3 0.3l0.3 0.3l0.4 0.3l0.3 0.4l0.3 0.4l0.4 0.3l0.3 0.6l0.3 0.3l0.3 0.5l0.4 0.3l0.3 0.5l0.3 -0.8l0.4 -0.9l0.3 0l0.3 0.2l0.4 0l0.3 -0.2l0.3 -0.2l0.3 -0.1l0.4 0.2l0.3 0.2l0.3 0.1l0.4 0l0.3 -0.1l0.3 0l0.3 -0.2l0.4 0.2l0.3 0l0.3 0.3l0.4 0l0.3 0.5l0.3 0.5l0.3 0.3l0.4 0.3l0.3 0.1l0.3 0.4l0.4 0.3l0.3 -0.1l0.3 -0.2l0.4 -0.1l0.3 0.1l0.3 0.2l0.3 0.1l0.4 0.2l0.3 -0.2l0.3 0.3l0.4 0.3l0.3 0.4l0.3 0.1l0.3 0.1l0.4 0.2l0.3 0.4l0.3 0l0.4 0.2l0.3 0.2l0.3 0.2l0.3 0.3l0.4 0.3l0.3 0.2l0.3 0.3l0.4 0.1l0.3 0.5l0.3 0.1l0.4 0.3l0.3 0.2l0.3 0.3l0.3 0.4l0.4 0.2l0.3 0.2l0.3 0l0.4 0l0.3 -0.1l0.3 -0.1l0.3 0.1l0.4 0.2l0.3 0.3l0.3 0.2l0.4 0.1l0.3 0.2l0.3 0.1l0.4 0.3l0.3 0.2l0.3 0.6l0.3 1.3l0.4 1.5l0.3 1.6l0.3 1.5l0.4 1.4l0.3 1.3l0.3 0.4l0.3 0.5l0.4 0.4l0.3 0.3l0.3 0.3l0.4 0.2l0.3 0.4l0.3 0.6l0.3 0.6l0.4 0.3l0.3 0.2l0.3 -0.4l0.4 -0.6l0.3 -0.4l0.3 0l0.4 -0.1l0.3 0.1l0.3 0l0.3 -0.1l0.4 0l0.3 0l0.3 -0.1l0.4 0l0.3 0l0.3 0l0.3 0.1l0.4 -0.1l0.3 0l0.3 0.1l0.4 0.4l0.3 0.2l0.3 0.3l0.4 0.3l0.3 0.1l0.3 0.3l0.3 0.4l0.4 0.7l0.3 -0.1l0.3 0l0.4 0l0.3 0.2l0.3 0l0.3 -0.2l0.4 -0.1l0.3 0.2l0.3 0.5l0.4 0.3l0.3 0.1l0.3 0.1l0.3 0.2l0.4 0.3l0.3 0.1l0.3 0l0.4 0.1l0.3 0.4l0.3 0.6l0.4 0l0.3 0.1l0.3 0l0.3 0.7l0.4 0.3l0.3 0.3l0.3 0.1l0.4 0.1l0.3 0.4l0.3 0.4l0.3 0.4l0.4 0.5l0.3 -0.2l0.3 0.1l0.4 -0.2l0.3 0.1l0.3 -0.4l0.3 0.2l0.4 0.4l0.3 0.3l0.3 0.2l0.4 0.1l0.3 0.3l0.3 0l0.4 0.2l0.3 0.4l0.3 0.3l0.3 0.9l0.4 1.5l0.3 1.5l0.3 1.6l0.4 1.1l0.3 1.3l0.3 0.9l0.3 0.5l0.4 0.5l0.3 0.3l0.3 0.3l0.4 0.4l0.3 0.5l0.3 0.7l0.4 0.2l0.3 0.5l0.3 0.1l0.3 0.4l0.4 -0.8l0.3 -0.8l0.3 0l0.4 -0.2l0.3 0.1l0.3 -0.1l0.3 0.2l0.4 0l0.3 0.1l0.3 0l0.4 0.1l0.3 0.1l0.3 -0.1l0.3 0l0.4 0.1l0.3 -0.1l0.3 -0.1l0.4 0l0.3 0.3l0.3 0.1l0.4 0.3l0.3 0.3l0.3 0.4l0.3 0.5l0.4 0.5l0.3 0.3l0.3 -0.3l0.4 -0.1l0.3 -0.1l0.3 0.1l0.3 0l0.4 0.2l0.3 0l0.3 0.3l0.4 -0.1l0.3 0.3l0.3 0.1l0.3 0.6l0.4 0.3l0.3 0.4l0.3 0.2l0.4 0.3l0.3 0.3l0.3 -0.1l0.4 0l0.3 0.1l0.3 0.3l0.3 0.3l0.4 0.2l0.3 0.1l0.3 0.4l0.4 0.2l0.3 0.3l0.3 0.3l0.3 0.4l0.4 0.6l0.3 0.3l0.3 0l0.4 -0.4l0.3 -0.2l0.3 -0.1l0.4 0.2l0.3 0.1l0.3 0.3l0.3 0l0.4 0.3l0.3 0.4l0.3 0.2l0.4 0.1l0.3 -0.1l0.3 0.4l0.3 0.6l0.4 1.9l0.3 1.4l0.3 1.3l0.4 1.1l0.3 1.6l0.3 1.2l0.3 0.5l0.4 0.4l0.3 0.5l0.3 0.2l0.4 0.5l0.3 0.6l0.3 0.4l0.4 0.4l0.3 0.3l0.3 0.4l0.3 0.3l0.4 -0.6l0.3 -0.8l0.3 -0.4l0.4 0.1l0.3 0l0.3 -0.2l0.3 -0.1l0.4 0l0.3 0.2l0.3 0.1l0.4 0l0.3 0l0.3 0.1l0.4 0l0.3 -0.1l0.3 0l0.3 0.2l0.4 0.2l0.3 0.1l0.3 0.2l0.4 0.5l0.3 0.1l0.3 0.3l0.3 0.3l0.4 0.5l0.3 0.5l0.3 0l0.4 -0.2l0.3 0l0.3 -0.2l0.3 0.1l0.4 -0.3l0.3 0.3l0.3 0.4l0.4 0.2l0.3 0.3l0.3 0.2l0.4 0.4l0.3 0.4l0.3 0.2l0.3 -0.2l0.4 -0.1l0.3 0.1l0.3 0.5l0.4 0.3l0.3 0.2l0.3 0.1l0.3 0.2l0.4 0.3l0.3 0.1l0.3 0.4l0.4 0.2l0.3 0.5l0.3 0.2l0.3 0.3l0.4 0.5l0.3 0.6l0.3 0.1l0.4 -0.1l0.3 -0.2l0.3 -0.2l0.4 0l0.3 0.1l0.3 0.2l0.3 -0.2l0.4 0.1l0.3 0l0.3 0.6l0.4 0.4l0.3 0.3l0.3 0.1l0.3 0.5l0.4 1.3l0.3 1.4l0.3 1.1l0.4 1.1l0.3 1.4l0.3 1.5l0.4 1.3l0.3 0.7l0.3 0.4l0.3 0.1l0.4 0.2l0.3 0.5l0.3 0.2l0.4 0.2l0.3 0.5l0.3 0.6l0.3 0.8l0.4 0.2l0.3 -0.8l0.3 -1.1l0.4 0.1l0.3 0l0.3 0.2l0.3 -0.2l0.4 0l0.3 -0.2l0.3 -0.1l0.4 -0.1l0.3 0.2l0.3 0.3l0.4 -0.2l0.3 -0.1l0.3 0l0.3 0.1l0.4 -0.2l0.3 0.2l0.3 0.4l0.4 0.6l0.3 -0.1l0.3 -0.1l0.3 0.3l0.4 0.8l0.3 0.7l0.3 0.3l0.4 -0.3l0.3 -0.3l0.3 0l0.3 -0.1l0.4 0l0.3 0l0.3 0.4l0.4 0.3l0.3 0.2l0.3 0.3l0.4 0.1l0.3 0.3l0.3 0.2l0.3 0.5l0.4 -0.1l0.3 0.2l0.3 0.2l0.4 0.7l0.3 -0.2l0.3 0.1l0.3 0l0.4 0.4l0.3 0.5l0.3 0.2l0.4 0.4l0.3 0.1l0.3 0.2l0.4 0.1l0.3 0.3l0.3 0.7l0.3 0.5l0.4 -0.2l0.3 -0.1l0.3 -0.3l0.4 -0.3l0.3 -0.2l0.3 0.3l0.3 0.5l0.4 0.1l0.3 0.3l0.3 0.5l0.4 0.3l0.3 0.1l0.3 -0.1l0.3 0.4l0.4 0.6l0.3 1.7l0.3 1.3l0.4 1.6l0.3 1.2l0.3 1.4l0.4 1.4l0.3 0.5l0.3 0.4l0.3 0.2l0.4 0.3l0.3 0.3l0.3 0.5l0.4 0.3l0.3 0.5l0.3 0.2l0.3 0.4l0.4 0.3l0.3 -0.1l0.3 -0.8l0.4 -0.4l0.3 0l0.3 -0.3l0.4 0.2l0.3 -0.1l0.3 0.2l0.3 -0.2l0.4 0.2l0.3 -0.1l0.3 0.2l0.4 0l0.3 0.3l0.3 0l0.3 0l0.4 -0.3l0.3 0.2l0.3 0.3l0.4 0.5l0.3 0.1l0.3 0.1l0.3 0.1l0.4 0.4l0.3 0.6l0.3 0.5l0.4 0l0.3 -0.3l0.3 0.1l0.4 -0.1l0.3 0.1l0.3 0l0.3 0.2l0.4 -0.1l0.3 0.2l0.3 0.2l0.4 0.2l0.3 0.2l0.3 0.1l0.3 0.5l0.4 0.3l0.3 0.3l0.3 0.3l0.4 0.1l0.3 0.3l0.3 0l0.3 0.2l0.4 0.2l0.3 0.5l0.3 0.1l0.4 0.4l0.3 0.1l0.3 0.4l0.4 0.2l0.3 0.5l0.3 0.5l0.3 0.3l0.4 0l0.3 -0.4l0.3 0l0.4 0.1l0.3 0l0.3 0l0.3 0l0.4 0.2l0.3 0.1l0.3 0.4l0.4 0.3l0.3 -0.1l0.3 0.1l0.4 0.2l0.3 0.7l0.3 1.1l0.3 1.5l0.4 1.1l0.3 1.5l0.3 1.4l0.4 1.4l0.3 0.8l0.3 0.3l0.3 0.7l0.4 0.2l0.3 0.5l0.3 0.2l0.4 0.3l0.3 0.6l0.3 0.2l0.3 0.7l0.4 0.1l0.3 0.6l0.3 -0.8l0.4 -0.9l0.3 -0.1l0.3 -0.1l0.4 0.2l0.3 0.1l0.3 -0.2l0.3 -0.1l0.4 0.1l0.3 0.2l0.3 0l0.4 0l0.3 0l0.3 0.3l0.3 -0.1l0.4 -0.1l0.3 -0.2l0.3 0.2l0.4 0.2l0.3 0.2l0.3 0.1l0.3 0.1l0.4 0.2l0.3 0.7l0.3 0.8l0.4 0.4l0.3 -0.2l0.3 -0.2l0.4 0.1l0.3 0l0.3 -0.1l0.3 0.1l0.4 0.2l0.3 0.2l0.3 -0.2l0.4 0.3l0.3 0.3l0.3 0.6l0.3 0.2l0.4 0.3l0.3 0.1l0.3 0.5l0.4 0l0.3 0.3l0.3 0l0.4 0.4l0.3 0l0.3 0.2l0.3 0.2l0.4 0l0.3 0.3l0.3 0.3l0.4 0.4l0.3 0.3l0.3 0.7l0.3 0.6l0.4 0.2l0.3 -0.2l0.3 -0.3l0.4 0l0.3 -0.3l0.3 0.1l0.3 0.1l0.4 0.3l0.3 0.2l0.3 0.1l0.4 0.2l0.3 0.3l0.3 0.2l0.4 0.1l0.3 0.2l0.3 0.6l0.3 1.4l0.4 1.5l0.3 1.4l0.3 1.5l0.4 1.3l0.3 1.3l0.3 0.5l0.3 0.5l0.4 0.4l0.3 0.3l0.3 0.5l0.4 0.5l0.3 0.5l0.3 0.4l0.4 0.3l0.3 0.3l0.3 0.3l0.3 0.1l0.4 -0.8l0.3 -0.3l0.3 -0.3l0.4 -0.1l0.3 0.2l0.3 0.1l0.3 0l0.4 -0.1l0.3 0l0.3 0.1l0.4 -0.1l0.3 -0.1l0.3 -0.2l0.3 0.3l0.4 -0.1l0.3 0.1l0.3 0.1l0.4 0.2l0.3 0.2l0.3 0l0.4 0.3l0.3 0.1l0.3 0.5l0.3 0.5l0.4 0.5l0.3 -0.1l0.3 -0.2l0.4 0l0.3 0.1l0.3 0.1l0.3 0l0.4 -0.1l0.3 0.2l0.3 0.1l0.4 0.4l0.3 0.1l0.3 0.3l0.3 0.2l0.4 0.1l0.3 0.5l0.3 0.3l0.4 0.3l0.3 0.1l0.3 0.3l0.4 0.4l0.3 0l0.3 0l0.3 0.5l0.4 0.4l0.3 0.3l0.3 -0.1l0.4 0.3l0.3 0.1l0.3 0.5l0.3 0.4l0.4 0.7l0.3 -0.1l0.3 -0.3l0.4 -0.2l0.3 -0.3l0.3 0.1l0.4 0l0.3 0.3l0.3 0.3l0.3 0.3l0.4 0.4l0.3 0l0.3 0.4l0.4 0.1l0.3 0.2l0.3 0.3l0.3 1.1l0.4 1.3l0.3 1.3l0.3 1.5l0.4 1.5l0.3 1.5l0.3 0.9l0.3 0.7l0.4 0.3l0.3 0.3l0.3 0l0.4 0.4l0.3 0.3l0.3 0.7l0.4 0.4l0.3 0.3l0.3 0.3l0.3 0.4l0.4 -0.9l0.3 -0.7l0.3 0.2l0.4 0l0.3 0.1l0.3 -0.3l0.3 -0.1l0.4 -0.2l0.3 0.1l0.3 0.2l0.4 0.1l0.3 0.1l0.3 -0.1l0.3 0l0.4 0l0.3 -0.1l0.3 0.1l0.4 0.4l0.3 0.4l0.3 0.1l0.4 0.3l0.3 0l0.3 0.1l0.3 0.4l0.4 0.2l0.3 0.6l0.3 -0.1l0.4 0.1l0.3 -0.1l0.3 0.1l0.3 -0.1l0.4 0.2l0.3 0.3l0.3 0.3l0.4 0.2l0.3 0.1l0.3 0.1l0.4 0.2l0.3 0.2l0.3 0.3l0.3 0l0.4 0.2l0.3 0.2l0.3 0.3l0.4 0.3l0.3 0l0.3 0.4l0.3 0.3l0.4 0.5l0.3 0.2l0.3 0.1l0.4 0.1l0.3 0.2l0.3 0.6l0.3 0.2l0.4 0.5l0.3 -0.1l0.3 0.1l0.4 -0.2l0.3 0.3l0.3 0l0.4 0l0.3 -0.1l0.3 0.1l0.3 0.3l0.4 0.3l0.3 0.2l0.3 0l0.4 0.3l0.3 0.2l0.3 0.3l0.3 0.3l0.4 1.4l0.3 1.5l0.3 1.6l0.4 1.7l0.3 1.6l0.3 1.4l0.4 0.2l0.3 0.2l0.3 0.4l0.3 0.8l0.4 0.1l0.3 0.1l0.3 0.2l0.4 0.5l0.3 0.4l0.3 0.4l0.3 0.3l0.4 -0.3l0.3 -1l0.3 -0.3l0.4 0.4l0.3 0.1l0.3 0l0.3 -0.1l0.4 -0.2l0.3 -0.2l0.3 0l0.4 0.1l0.3 0.3l0.3 0.3l0.4 -0.1l0.3 -0.3l0.3 -0.2l0.3 0.2l0.4 0.3l0.3 0l0.3 0.1l0.4 0.4l0.3 0.3l0.3 0.2l0.3 0.1l0.4 0.5l0.3 0.4l0.3 0.2l0.4 -0.1l0.3 -0.1l0.3 -0.3l0.3 0.3l0.4 -0.1l0.3 0.4l0.3 -0.1l0.4 0.4l0.3 0.1l0.3 0.3l0.4 0.2l0.3 0.5l0.3 0.1l0.3 0.2l0.4 0.1l0.3 0.5l0.3 0.2l0.4 0.3l0.3 -0.1l0.3 0.4l0.3 0.3l0.4 0.3l0.3 0.2l0.3 0.2l0.4 0.2l0.3 0.1l0.3 0.1l0.4 0.4l0.3 0.5l0.3 0.6l0.3 0l0.4 0l0.3 0l0.3 0l0.4 -0.3l0.3 0l0.3 0l0.3 0.4l0.4 0.1l0.3 0.3l0.3 0.3l0.4 0.5l0.3 0.2l0.3 0.1l0.3 0.2l0.4 1.4l0.3 1.5l0.3 1.3l0.4 1.3l0.3 1.3l0.3 1.4l0.4 0.8l0.3 0.5l0.3 0.3l0.3 0.3l0.4 0.3l0.3 0.4l0.3 0.5l0.4 0.1l0.3 0.5l0.3 0.5l0.3 0.6l0.4 0.3l0.3 -0.8l0.3 -0.9l0.4 0.1l0.3 0l0.3 0.2l0.3 -0.1l0.4 0l0.3 -0.1l0.3 -0.3l0.4 0.2l0.3 -0.1l0.3 0l0.4 0l0.3 0.2l0.3 0l0.3 0l0.4 0l0.3 0.7l0.3 0.3l0.4 0.1l0.3 -0.1l0.3 -0.1l0.3 0.3l0.4 0.6l0.3 0.6l0.3 0.4l0.4 -0.4l0.3 -0.3l0.3 0.1l0.4 0.3l0.3 0.1l0.3 -0.2l0.3 0.1l0.4 0.2l0.3 0.1l0.3 0.3l0.4 0.2l0.3 0.4l0.3 -0.1l0.3 0.3l0.4 0.3l0.3 0.3l0.3 0.4l0.4 0.1l0.3 0.4l0.3 -0.1l0.3 0.3l0.4 0.3l0.3 0.5l0.3 0.1l0.4 0.1l0.3 0.2l0.3 0.2l0.4 0.5l0.3 0.2l0.3 0.5l0.3 0l0.4 0.1l0.3 -0.2l0.3 0l0.4 -0.1l0.3 0.3l0.3 0.3l0.3 0.4l0.4 0.2l0.3 0.1l0.3 -0.2l0.4 0.1l0.3 0.1l0.3 0.4l0.4 0.2l0.3 0.4l0.3 1.4l0.3 1.7l0.4 1.6l0.3 1.5l0.3 1.2l0.4 1.4l0.3 0.3l0.3 0.4l0.3 0.2l0.4 0.5l0.3 0.5l0.3 0.7l0.4 0.3l0.3 0.3l0.3 0.6l0.3 0.4l0.4 0.2l0.3 -0.6l0.3 -0.8l0.4 -0.2l0.3 0.3l0.3 0l0.4 -0.1l0.3 -0.3l0.3 -0.2l0.3 -0.2l0.4 0.1l0.3 0l0.3 0.2l0.4 0l0.3 -0.1l0.3 0.1l0.3 0.1l0.4 0.1l0.3 0.1l0.3 0.3l0.4 0.3l0.3 0.3l0.3 0.2l0.3 0.4l0.4 0.2l0.3 0.5l0.3 0.4l0.4 0.1l0.3 -0.1l0.3 -0.2l0.4 -0.2l0.3 -0.1l0.3 0l0.3 0.2l0.4 0.3l0.3 0.3l0.3 0.2l0.4 0.2l0.3 0.4l0.3 0.4l0.3 0.1l0.4 0.1l0.3 0.1l0.3 0.3l0.4 0.1l0.3 0.2l0.3 0.1l0.4 0l0.3 0.3l0.3 0.5l0.3 0.4l0.4 0.3l0.3 0.1l0.3 0.3l0.4 0.1l0.3 0.5l0.3 0.4l0.3 0.3l0.4 0l0.3 -0.2l0.3 -0.1l0.4 0.1l0.3 0l0.3 0.3l0.3 0l0.4 0.2l0.3 0.1l0.3 0.1l0.4 0.2l0.3 0.6l0.3 0.5l0.4 0.2l0.3 0l0.3 0.9l0.3 1.6l0.4 1.4l0.3 1.3l0.3 1.6l0.4 1.6l0.3 0.8l0.3 -0.1l0.3 0.2l0.4 0.6l0.3 0.6l0.3 0.5l0.4 0.2l0.3 0.3l0.3 0.5l0.3 0.6l0.4 0.3l0.3 0.4l0.3 -0.9l0.4 -0.9l0.3 -0.1l0.3 -0.1l0.4 0.2l0.3 0.1l0.3 0l0.3 -0.1l0.4 0.1l0.3 -0.1l0.3 -0.1l0.4 0.1l0.3 0l0.3 0l0.3 -0.3l0.4 0.1l0.3 -0.1l0.3 0.2l0.4 0.2l0.3 0.5l0.3 0.5l0.4 0.3l0.3 0.4l0.3 0.5l0.3 0.5l0.4 0.1l0.3 -0.3l0.3 0.1l0.4 0.4l0.3 0.1l0.3 -0.3l0.3 -0.1l0.4 0.1l0.3 0.3l0.3 0.1l0.4 0.3l0.3 0.2l0.3 0l0.3 0.3l0.4 -0.2l0.3 0.4l0.3 0.2l0.4 0.4l0.3 0.3l0.3 0.1l0.4 0.3l0.3 0.1l0.3 0.2l0.3 0.1l0.4 0.5l0.3 0.1l0.3 0.5l0.4 0.1l0.3 0.4l0.3 0.6l0.3 0.5l0.4 0.1l0.3 -0.3l0.3 -0.5l0.4 0.2l0.3 -0.1l0.3 0.2l0.4 0l0.3 0.2l0.3 0.6l0.3 0.2l0.4 0.5l0.3 0.1l0.3 0.2l0.4 -0.1l0.3 0.2l0.3 0.6l0.3 1.6l0.4 1.2l0.3 1.3l0.3 1.4l0.4 1.4l0.3 1.3l0.3 0.4l0.3 0.7l0.4 0.7l0.3 0.4l0.3 0.2l0.4 0.3l0.3 0.5l0.3 0.4l0.4 0.3l0.3 0.2l0.3 0.5l0.3 0.1l0.4 -0.9l0.3 -0.8l0.3 -0.2l0.4 0.1l0.3 0.2l0.3 0.1l0.3 0l0.4 -0.2l0.3 -0.3l0.3 -0.1l0.4 0.1l0.3 0.2l0.3 -0.1l0.3 0.1l0.4 -0.2l0.3 0.1l0.3 0.2l0.4 0.5l0.3 0.4l0.3 0.3l0.4 0l0.3 0.3l0.3 0.4l0.3 0.7l0.4 0.3l0.3 0.2l0.3 -0.1l0.4 -0.1l0.3 -0.1l0.3 -0.2l0.3 -0.2l0.4 0l0.3 0.3l0.3 0.3l0.4 0.3l0.3 0.2l0.3 0.2l0.4 0l0.3 0.3l0.3 0.4l0.3 0.3l0.4 0.2l0.3 0.2l0.3 0.3l0.4 0l0.3 0l0.3 0.2l0.3 0.6l0.4 0.3l0.3 0.2l0.3 0l0.4 0.2l0.3 0.3l0.3 0.4l0.3 0.2l0.4 0.5l0.3 0.2l0.3 0l0.4 0l0.3 0.1l0.3 -0.2l0.4 -0.1l0.3 0.1l0.3 0.4l0.3 0.2l0.4 0.2l0.3 0.3l0.3 0.1l0.4 0.1l0.3 0.1l0.3 0.4l0.3 1l0.4 1.7l0.3 1.2l0.3 1.6l0.4 1.2l0.3 1.6l0.3 0.9l0.3 0.7l0.4 0.6l0.3 0.2l0.3 0.3l0.4 0.3l0.3 0.4l0.3 0.3l0.4 0.5l0.3 0.4l0.3 0.6l0.3 0.3l0.4 -0.9l0.3 -1l0.3 -0.1l0.4 -0.2l0.3 0l0.3 0l0.3 0.3l0.4 -0.1l0.3 0.4l0.3 -0.2l0.4 0.3l0.3 -0.2l0.3 -0.3l0.4 -0.2l0.3 0.1l0.3 0l0.3 0.2l0.4 0l0.3 0.4l0.3 0.2l0.4 0.1l0.3 0.3l0.3 0.2l0.3 0.6l0.4 0.5l0.3 0.9l0.3 -0.1l0.4 -0.2l0.3 -0.4l0.3 -0.1l0.3 -0.1l0.4 0.2l0.3 0.3l0.3 0.3l0.4 0.1l0.3 0.5l0.3 -0.1l0.4 0.3l0.3 0l0.3 0.5l0.3 0l0.4 0l0.3 0.2l0.3 0.4l0.4 0.2l0.3 0.1l0.3 0.3l0.3 0.5l0.4 0.3l0.3 0l0.3 0.1l0.4 0.6l0.3 0.3l0.3 0.5l0.4 0.3l0.3 0.6l0.3 0.4l0.3 -0.4l0.4 -0.5l0.3 -0.2l0.3 0.2l0.4 -0.2l0.3 0l0.3 0.1l0.3 0.5l0.4 0.2l0.3 0.2l0.3 0l0.4 0.2l0.3 0.4l0.3 0.5l0.3 0.6l0.4 1l0.3 1.3l0.3 1.3l0.4 1.8l0.3 1.4l0.3 1.4l0.4 0.3l0.3 0.9l0.3 0.5l0.3 0.4l0.4 0.1l0.3 0.3l0.3 0.4l0.4 0.3l0.3 0.4l0.3 0.5l0.3 0.6l0.4 -0.2l0.3 -0.9l0.3 -0.4l0.4 -0.2l0.3 -0.4l0.3 -0.1l0.3 0.1l0.4 0.3l0.3 0.2l0.3 -0.1l0.4 -0.1l0.3 -0.1l0.3 0.2l0.4 0.1l0.3 -0.1l0.3 0.1l0.3 0.1l0.4 0.2l0.3 -0.2l0.3 0.3l0.4 0.3l0.3 0.5l0.3 0l0.3 0.2l0.4 0.4l0.3 0.6l0.3 0.3l0.4 -0.3l0.3 0.1l0.3 -0.2l0.4 0.3l0.3 -0.3l0.3 0.1l0.3 0.3l0.4 0.3l0.3 0l0.3 0.1l0.4 0.3l0.3 0.2l0.3 0.1l0.3 0.2l0.4 0.3l0.3 0.5l0.3 0l0.4 0.1l0.3 0.1l0.3 0.5l0.3 0.4l0.4 0.3l0.3 0.1l0.3 0.2l0.4 0.4l0.3 0.2l0.3 0.4l0.4 0.1l0.3 0.3l0.3 0.1l0.3 0.1l0.4 0l0.3 0.3l0.3 0.2l0.4 0l0.3 -0.1l0.3 -0.1l0.3 0.5l0.4 0.1l0.3 0.3l0.3 0l0.4 0.3l0.3 0.2l0.3 0.2l0.3 0.1l0.4 1.1l0.3 1.6l0.3 1.5l0.4 1.3l0.3 1.5l0.3 1.4l0.4 1l0.3 0.4l0.3 0.6l0.3 0.4l0.4 0.4l0.3 0.2l0.3 0.3l0.4 0.2l0.3 0.7l0.3 0.4l0.3 0.5l0.4 0.2l0.3 -1l0.3 -1l0.4 -0.2l0.3 0.1l0.3 -0.1l0.4 0l0.3 0.3l0.3 0.2l0.3 0.1l0.4 -0.2l0.3 -0.3l0.3 0.1l0.4 0l0.3 0.1l0.3 0l0.3 -0.1l0.4 0.2l0.3 0.1l0.3 0.1l0.4 0.2l0.3 0.4l0.3 0.4l0.3 0.4l0.4 0.3l0.3 0.5l0.3 0.5l0.4 -0.4l0.3 0.1l0.3 -0.2l0.4 0.2l0.3 -0.2l0.3 -0.1l0.3 0.1l0.4 0.1l0.3 0.2l0.3 0.2l0.4 0.5l0.3 0.4l0.3 0l0.3 -0.1l0.4 0.2l0.3 0.6l0.3 0.4l0.4 0.3l0.3 0.3l0.3 0.3l0.4 0.4l0.3 0.1l0.3 0.3l0.3 -0.2l0.4 0.2l0.3 0l0.3 0.6l0.4 0.6l0.3 0.7l0.3 0.1l0.3 0l0.4 -0.2l0.3 0l0.3 0.1l0.4 0.1l0.3 -0.3l0.3 0l0.3 0l0.4 0.5l0.3 0.2l0.3 0.3l0.4 0.1l0.3 -0.1l0.3 0.3l0.4 0.5l0.3 0.8l0.3 1.4l0.3 1.3l0.4 1.5l0.3 1.4l0.3 1.6l0.4 1.2l0.3 0.5l0.3 0.2l0.3 0.4l0.4 0.3l0.3 0.3l0.3 0.4l0.4 0.3l0.3 0.5l0.3 0.4l0.3 0.5l0.4 0.3l0.3 -0.3l0.3 -0.6l0.4 -0.4l0.3 0l0.3 -0.3l0.4 0.1l0.3 0l0.3 0.1l0.3 -0.2l0.4 0.1l0.3 0l0.3 0.1l0.4 -0.2l0.3 -0.2l0.3 -0.3l0.3 0.3l0.4 0.2l0.3 0.7l0.3 0.2l0.4 0.2l0.3 0.1l0.3 0.2l0.4 -0.1l0.3 0.2l0.3 0.5l0.3 0.8l0.4 0.3l0.3 -0.2l0.3 -0.1l0.4 -0.2l0.3 0l0.3 -0.3l0.3 0l0.4 0.1l0.3 0.4l0.3 0.3l0.4 0.4l0.3 0.3l0.3 0.3l0.3 0.1l0.4 0.3l0.3 0l0.3 0.4l0.4 0.1l0.3 0.4l0.3 0l0.4 0.3l0.3 0.2l0.3 0.5l0.3 0.3l0.4 0.3l0.3 0.1l0.3 0.2l0.4 0.3l0.3 0.4l0.3 0.4l0.3 0.5l0.4 0l0.3 -0.2l0.3 -0.1l0.4 -0.1l0.3 -0.1l0.3 -0.1l0.3 0.2l0.4 0.3l0.3 0.4l0.3 -0.1l0.4 0.3l0.3 0.1l0.3 0.7l0.4 0.1l0.3 0.2l0.3 0.9l0.3 1.7l0.4 1.3l0.3 1.4l0.3 1.4l0.4 1.5l0.3 0.9l0.3 0.2l0.3 0.4l0.4 0.3l0.3 0.4l0.3 0.3l0.4 0.7l0.3 0.4l0.3 0.5l0.4 0.2l0.3 0.4l0.3 0.7l0.3 -1l0.4 -0.8l0.3 -0.2l0.3 0.1l0.4 -0.1l0.3 0l0.3 0.2l0.3 -0.1l0.4 0l0.3 -0.3l0.3 0.2l0.4 0.1l0.3 0.1l0.3 -0.2l0.3 0l0.4 -0.1l0.3 0.2l0.3 0.2l0.4 0.1l0.3 0.2l0.3 0.3l0.4 0.3l0.3 0.1l0.3 0.7l0.3 0.6l0.4 0.5l0.3 -0.4l0.3 -0.3l0.4 -0.1l0.3 -0.1l0.3 0.3l0.3 0.2l0.4 0.1l0.3 0.2l0.3 0.1l0.4 0.3l0.3 0.1l0.3 0.2l0.4 0.1l0.3 0.3l0.3 0.2l0.3 0.4l0.4 -0.1l0.3 0.5l0.3 0.1l0.4 0.4l0.3 -0.1l0.3 0.3l0.3 0.3l0.4 0.3l0.3 0.3l0.3 0.3l0.4 0.3l0.3 0.4l0.3 0.2l0.3 0.6l0.4 0.3l0.3 0.2l0.3 -0.1l0.4 0l0.3 -0.1l0.3 -0.3l0.4 0.1l0.3 0l0.3 0.3l0.3 0.2l0.4 0.3l0.3 0.4l0.3 0l0.4 0.2l0.3 0l0.3 0.7l0.3 1.2l0.4 1.6l0.3 1.5l0.3 1.5l0.4 1.2l0.3 1.2l0.3 0.7l0.3 0.5l0.4 0.4l0.3 0.3l0.3 0.4l0.4 0.5l0.3 0.4l0.3 0.4l0.4 0.5l0.3 0.1l0.3 0.4l0.3 -0.4l0.4 -0.7l0.3 -0.4l0.3 0l0.4 -0.1l0.3 0.1l0.3 0l0.3 -0.1l0.4 0l0.3 0.1l0.3 0.2l0.4 -0.1l0.3 -0.2l0.3 0l0.4 0.1l0.3 0.2l0.3 0.1l0.3 0l0.4 0l0.3 0.2l0.3 0.3l0.4 0.6l0.3 0.4l0.3 0.3l0.3 0.5l0.4 0.2l0.3 0.1l0.3 -0.2l0.4 0.2l0.3 -0.1l0.3 0l0.3 0l0.4 -0.1l0.3 0.3l0.3 0.1l0.4 0.3l0.3 0l0.3 0.1l0.4 0.4l0.3 0.4l0.3 0.3l0.3 0.1l0.4 0.2l0.3 0.3l0.3 0.2l0.4 0.2l0.3 0l0.3 0.3l0.3 0.5l0.4 0.2l0.3 0.2l0.3 0.1l0.4 0.4l0.3 0.1l0.3 0.2l0.3 0.5l0.4 0.5l0.3 0.1l0.3 -0.1l0.4 0l0.3 0l0.3 -0.2l0.4 0.1l0.3 0.2l0.3 0.3l0.3 0.2l0.4 0.2l0.3 0.3l0.3 0.3l0.4 -0.2l0.3 0.1l0.3 0l0.3 1.4l0.4 1.5l0.3 1.6l0.3 1.5l0.4 1.4l0.3 1.2l0.3 0.9l0.4 0.7l0.3 0.2l0.3 0.3l0.3 0.2l0.4 0.4l0.3 0.3l0.3 0.3l0.4 0.5l0.3 0.6l0.3 0.6l0.3 0.6l0.4 -1l0.3 -0.9l0.3 0l0.4 -0.2l0.3 0l0.3 -0.1l0.3 0.1l0.4 0l0.3 0l0.3 0.3l0.4 0l0.3 -0.3l0.3 -0.1l0.4 0.1l0.3 0l0.3 0l0.3 0.2l0.4 0.3l0.3 0.5l0.3 0.3l0.4 0.4l0.3 0l0.3 0.4l0.3 0.5l0.4 0.3l0.3 0l0.3 -0.3l0.4 -0.1l0.3 0l0.3 0l0.4 0l0.3 -0.1l0.3 0.3l0.3 0.1l0.4 0.4l0.3 0.1l0.3 0.4l0.4 -0.1l0.3 0.4l0.3 0l0.3 0.4l0.4 0.1l0.3 0.4l0.3 0.3l0.4 -0.1l0.3 0.2l0.3 0.3l0.3 0.6l0.4 0.2l0.3 0.2l0.3 0.2l0.4 0.2l0.3 0.1l0.3 0.6l0.4 0.4l0.3 0.7l0.3 0.1l0.3 0l0.4 -0.3l0.3 0l0.3 -0.1l0.4 0l0.3 0l0.3 0.1l0.3 0.2l0.4 0.2l0.3 0.4l0.3 0.2l0.4 0.1l0.3 0.1l0.3 0.2l0.3 0.6l0.4 1.6l0.3 1.5l0.3 1.7l0.4 1.2l0.3 1.3l0.3 1.4l0.4 0.3l0.3 0.5l0.3 0.2l0.3 0.5l0.4 0.4l0.3 0.2l0.3 0.5l0.4 0.2l0.3 0.4l0.3 0.5l0.3 0.5l0.4 -0.4l0.3 -0.9l0.3 -0.4l0.4 -0.2l0.3 -0.1l0.3 0.2l0.4 0.5l0.3 0.2l0.3 -0.2l0.3 0.1l0.4 -0.3l0.3 0l0.3 0.1l0.4 0.2l0.3 0l0.3 -0.4l0.3 -0.1l0.4 0l0.3 0.6l0.3 0.2l0.4 0.4l0.3 0l0.3 0.6l0.3 0.1l0.4 0.6l0.3 0.6l0.3 0.2l0.4 -0.3l0.3 -0.3l0.3 0.1l0.4 0.2l0.3 -0.3l0.3 0l0.3 -0.1l0.4 0.6l0.3 0.2l0.3 0.5l0.4 0l0.3 0.3l0.3 0.2l0.3 0.3l0.4 0.1l0.3 0.2l0.3 0.2l0.4 0.4l0.3 0.6l0.3 0.2l0.4 -0.1l0.3 0.2l0.3 0.4l0.3 0.4l0.4 0.3l0.3 -0.1l0.3 0.3l0.4 0.4l0.3 0.4l0.3 0.1l0.3 -0.2l0.4 0l0.3 0.1l0.3 0.1l0.4 0l0.3 -0.1l0.3 0.1l0.3 0.3l0.4 0.3l0.3 0.2l0.3 0.2l0.4 0.1l0.3 0.4l0.3 0.1l0.4 0.5l0.3 1l0.3 1.5l0.3 1.2l0.4 1.4l0.3 1.4l0.3 1.5l0.4 0.8l0.3 0.3l0.3 0.4l0.3 0.4l0.4 0.6l0.3 0.5l0.3 0.4l0.4 0.1l0.3 0.2l0.3 0.2l0.3 0.5l0.4 0.5l0.3 -0.6l0.3 -0.8l0.4 -0.2l0.3 0l0.3 -0.2l0.4 0.2l0.3 -0.1l0.3 0.4l0.3 -0.1l0.4 0.1l0.3 -0.3l0.3 0.3l0.4 -0.3l0.3 0.2l0.3 -0.2l0.3 0l0.4 0.1l0.3 0.3l0.3 0.4l0.4 0.4l0.3 0.3l0.3 -0.1l0.4 0l0.3 0.1l0.3 0.8l0.3 0.5l0.4 -0.2l0.3 -0.2l0.3 -0.1l0.4 0.1l0.3 0.4l0.3 0l0.3 0.3l0.4 0.2l0.3 0.1l0.3 0.2l0.4 -0.1l0.3 0.3l0.3 0.4l0.3 0.5l0.4 0.2l0.3 0l0.3 0l0.4 0.1l0.3 0.3l0.3 0.5l0.4 0.1l0.3 -0.1l0.3 0.3l0.3 0.3l0.4 0.5l0.3 -0.1l0.3 0.5l0.4 0.4l0.3 0.7l0.3 0.5l0.3 0.1l0.4 -0.1l0.3 -0.1l0.3 0.2l0.4 -0.2l0.3 -0.3l0.3 -0.2l0.3 0.3l0.4 0.3l0.3 0.2l0.3 0.3l0.4 0.3l0.3 0.3l0.3 0.1l0.4 0.3l0.3 0.4l0.3 1.6l0.3 1.4l0.4 1.6l0.3 1.4l0.3 1.5l0.4 1.4l0.3 0.3l0.3 0.3l0.3 0.1l0.4 0.3l0.3 0.4l0.3 0.6l0.4 0.6l0.3 0.2l0.3 0.4l0.4 0.3l0.3 0.7l0.3 -0.1l0.3 -1.2l0.4 -0.6l0.3 -0.1l0.3 0.2l0.4 0.3l0.3 -0.1l0.3 0.1l0.3 -0.2l0.4 0l0.3 0l0.3 -0.2l0.4 0l0.3 0l0.3 0.1l0.3 -0.2l0.4 -0.1l0.3 0.3l0.3 0.4l0.4 0.3l0.3 0.1l0.3 0.1l0.4 0.6l0.3 0.2l0.3 0.8l0.3 0.2l0.4 0.2l0.3 -0.4l0.3 0l0.4 0l0.3 0.2l0.3 0l0.3 -0.2l0.4 0.4l0.3 0.4l0.3 0.4l0.4 -0.1l0.3 0.1l0.3 0.3l0.4 0.4l0.3 0l0.3 0.3l0.3 0l0.4 0.5l0.3 0.4l0.3 0.3l0.4 0.1l0.3 0.2l0.3 0.2l0.3 0.1l0.4 0.2l0.3 0.3l0.3 0.3l0.4 0.3l0.3 0.4l0.3 0.3l0.3 0.4l0.4 -0.2l0.3 0.3l0.3 -0.1l0.4 -0.1l0.3 -0.1l0.3 0l0.4 0l0.3 0.1l0.3 0.2l0.3 0.6l0.4 0.5l0.3 0.1l0.3 -0.1l0.4 -0.1l0.3 0.3l0.3 1.1l0.3 1.6l0.4 1.6l0.3 1.4l0.3 1.2l0.4 1.1l0.3 1.1l0.3 0.7l0.3 0.5l0.4 0l0.3 0.3l0.3 0.7l0.4 0.7l0.3 0.4l0.3 0.3l0.4 0.3l0.3 0.3l0.3 0.5l0.3 -0.9l0.4 -0.9l0.3 -0.3l0.3 -0.1l0.4 0.1l0.3 0.2l0.3 0l0.3 0.1l0.4 0.2l0.3 0.1l0.3 -0.2l0.4 -0.4l0.3 -0.1l0.3 0l0.4 0l0.3 0l0.3 0.3l0.3 0.4l0.4 0.1l0.3 0.5l0.3 0.3l0.4 0.4l0.3 0l0.3 0.5l0.3 0.4l0.4 0.6l0.3 -0.2l0.3 -0.3l0.4 -0.2l0.3 0.1l0.3 0.2l0.3 0l0.4 0l0.3 0.1l0.3 0.2l0.4 0.2l0.3 0.1l0.3 0.3l0.4 0.3l0.3 0.2l0.3 0.3l0.3 0.2l0.4 0.5l0.3 0.2l0.3 0.4l0.4 0.2l0.3 0.2l0.3 0l0.3 0.3l0.4 0l0.3 0.2l0.3 0.3l0.4 0.3l0.3 0.5l0.3 0.2l0.3 0.6l0.4 0.2l0.3 0l0.3 -0.4l0.4 0.2l0.3 -0.1l0.3 -0.1l0.4 -0.3l0.3 0.2l0.3 0.2l0.3 0.5l0.4 0.4l0.3 0.1l0.3 0l0.4 0.1l0.3 0.7l0.3 0.7l0.3 1.4l0.4 1.4l0.3 1.4l0.3 1.6l0.4 1.5l0.3 1.1l0.3 0.1l0.4 0.4l0.3 0.4l0.3 0.4l0.3 0.3l0.4 0.4l0.3 0.5l0.3 0.4l0.4 0.4l0.3 0.2l0.3 0.4l0.3 0.2l0.4 -0.8l0.3 -0.2l0.3 -0.2l0.4 -0.3l0.3 -0.1l0.3 -0.2l0.3 0.1l0.4 -0.2l0.3 0.3l0.3 0l0.4 0.1l0.3 -0.1l0.3 0.3l0.4 -0.2l0.3 -0.1l0.3 -0.1l0.3 0.4l0.4 0.3l0.3 0.2l0.3 0.2l0.4 0.3l0.3 0.1l0.3 0.3l0.3 0.4l0.4 0.6l0.3 0l0.3 -0.4l0.4 0.1l0.3 0l0.3 0.2l0.4 0.1l0.3 0.2l0.3 0.1l0.3 0.1l0.4 0.2l0.3 0.2l0.3 0.3l0.4 0.2l0.3 0.5l0.3 0l0.3 0.3l0.4 0.3l0.3 0.5l0.3 0l0.4 -0.1l0.3 0.2l0.3 0.4l0.3 0.2l0.4 0.3l0.3 0.2l0.3 0.2l0.4 0.1l0.3 0.3l0.3 0.6l0.4 0.5l0.3 0.5l0.3 -0.3l0.3 -0.2l0.4 -0.1l0.3 0.2l0.3 0l0.4 0.1l0.3 -0.2l0.3 0.3l0.3 0.2l0.4 0.5l0.3 0.1l0.3 0l0.4 0.2l0.3 0.2l0.3 0.5l0.3 0.9l0.4 1.6l0.3 1.6l0.3 1.7l0.4 1.6l0.3 1l0.3 0.6l0.4 0.3l0.3 0.6l0.3 0.5l0.3 0.2l0.4 0.4l0.3 0.2l0.3 0.5l0.4 0.6l0.3 0.2l0.3 0.5l0.3 0.2l0.4 -1l0.3 -1l0.3 -0.1l0.4 0.3l0.3 0.3l0.3 0.2l0.4 -0.1l0.3 -0.4l0.3 0l0.3 -0.1l0.4 0.4l0.3 0.1l0.3 0.4l0.4 -0.1l0.3 -0.1l0.3 -0.3l0.3 0l0.4 0l0.3 0.5l0.3 0l0.4 0.4l0.3 0l0.3 0.3l0.3 0.6l0.4 0.5l0.3 0.5l0.3 -0.4l0.4 0.1l0.3 -0.2l0.3 0.3l0.4 0.1l0.3 -0.3l0.3 0l0.3 0l0.4 0.6l0.3 0.3l0.3 0.3l0.4 0l0.3 0.4l0.3 0l0.3 0.4l0.4 -0.2l0.3 0.2l0.3 0.3l0.4 0.6l0.3 0.4l0.3 0.2l0.3 0.4l0.4 0.4l0.3 0l0.3 0.1l0.4 0.2l0.3 0.1l0.3 0.3l0.4 0.4l0.3 0.8l0.3 0.4l0.3 -0.3l0.4 -0.4l0.3 -0.1l0.3 0.2l0.4 0l0.3 -0.1l0.3 0.2l0.3 0.4l0.4 0.3l0.3 0.2l0.3 0.1l0.4 -0.1l0.3 0.3l0.3 0.3l0.4 0.6l0.3 1.4l0.3 1.2l0.3 1.5l0.4 1.1l0.3 1.6l0.3 1.3l0.4 0.9l0.3 0.5l0.3 0.5l0.3 0.2l0.4 0.4l0.3 0.3l0.3 0.3l0.4 0.3l0.3 0.8l0.3 0.4l0.3 0.2l0.4 -0.5l0.3 -0.5l0.3 -0.3l0.4 0.3l0.3 -0.3l0.3 0.2l0.4 -0.5" fill="none" stroke="#33a866" stroke-width="2" stroke-linejoin="round"/>
<path d="M120.2 15.5l0.3 0.1l0.3 0.1l0.4 0.2l0.3 0.1l0.3 0.1l0.3 0.1l0.4 0.1l0.3 0.2l0.3 0.1l0.4 0.1l0.3 0.1l0.3 0.1l0.4 0.1l0.3 0.3l0.3 0.2l0.3 0.3l0.4 -0.1l0.3 -0.1l0.3 0l0.4 0l0.3 0l0.3 0l0.3 0l0.4 0.2l0.3 0.1l0.3 0.1l0.4 0.1l0.3 0.1l0.3 0.1l0.3 0.1l0.4 0.2l0.3 1.1l0.3 1.4l0.4 1.4l0.3 1.5l0.3 1.4l0.4 1.4l0.3 0.9l0.3 0.4l0.3 0.3l0.4 0.4l0.3 0.4l0.3 0.4l0.4 0.4l0.3 0.4l0.3 0.4l0.3 0.4l0.4 0.3l0.3 0.4l0.3 -0.8l0.4 -0.9l0.3 0l0.3 0l0.4 0l0.3 0l0.3 0l0.3 0l0.4 0l0.3 0l0.3 0l0.4 0l0.3 0l0.3 0l0.3 0l0.4 0l0.3 0.1l0.3 0.3l0.4 0.2l0.3 0.2l0.3 0.3l0.3 0.2l0.4 0.2l0.3 0.5l0.3 0.5l0.4 0.4l0.3 -0.2l0.3 -0.2l0.4 0l0.3 0l0.3 0l0.3 0l0.4 0.2l0.3 0.2l0.3 0.2l0.4 0.3l0.3 0.2l0.3 0.2l0.3 0.2l0.4 0.3l0.3 0.2l0.3 0.2l0.4 0.3l0.3 0.2l0.3 0.2l0.3 0.2l0.4 0.3l0.3 0.2l0.3 0.2l0.4 0.3l0.3 0.2l0.3 0.2l0.4 0.2l0.3 0.4l0.3 0.5l0.3 0.4l0.4 0.3l0.3 -0.2l0.3 -0.2l0.4 0l0.3 0l0.3 0l0.3 0l0.4 0.2l0.3 0.3l0.3 0.2l0.4 0.2l0.3 0.2l0.3 0.3l0.4 0.2l0.3 0.2l0.3 0.5l0.3 1.5l0.4 1.4l0.3 1.4l0.3 1.5l0.4 1.4l0.3 1.4l0.3 0.4l0.3 0.3l0.4 0.4l0.3 0.4l0.3 0.4l0.4 0.4l0.3 0.4l0.3 0.4l0.3 0.4l0.4 0.3l0.3 0.4l0.3 -0.2l0.4 -0.9l0.3 -0.4l0.3 0l0.4 0l0.3 0l0.3 0l0.3 0l0.4 0l0.3 0l0.3 0l0.4 0l0.3 0l0.3 0l0.3 0l0.4 0l0.3 0l0.3 0.3l0.4 0.2l0.3 0.2l0.3 0.2l0.4 0.3l0.3 0.2l0.3 0.3l0.3 0.5l0.4 0.5l0.3 0.1l0.3 -0.2l0.4 -0.1l0.3 0l0.3 0l0.3 0l0.4 0.1l0.3 0.2l0.3 0.2l0.4 0.2l0.3 0.3l0.3 0.2l0.3 0.2l0.4 0.3l0.3 0.2l0.3 0.2l0.4 0.2l0.3 0.3l0.3 0.2l0.4 0.2l0.3 0.3l0.3 0.2l0.3 0.2l0.4 0.2l0.3 0.3l0.3 0.2l0.4 0.2l0.3 0.3l0.3 0.4l0.3 0.5l0.4 0.5l0.3 -0.1l0.3 -0.2l0.4 -0.1l0.3 0l0.3 0l0.3 0l0.4 0.1l0.3 0.3l0.3 0.2l0.4 0.2l0.3 0.2l0.3 0.2l0.4 0.3l0.3 0.2l0.3 0.2l0.3 1.2l0.4 1.4l0.3 1.4l0.3 1.5l0.4 1.4l0.3 1.4l0.3 0.9l0.3 0.4l0.4 0.3l0.3 0.4l0.3 0.4l0.4 0.4l0.3 0.4l0.3 0.4l0.4 0.4l0.3 0.3l0.3 0.4l0.3 0.4l0.4 -0.9l0.3 -0.8l0.3 0l0.4 0l0.3 0l0.3 0l0.3 0l0.4 0l0.3 0l0.3 0l0.4 0l0.3 0l0.3 0l0.3 0l0.4 0l0.3 0l0.3 0.1l0.4 0.3l0.3 0.2l0.3 0.2l0.4 0.2l0.3 0.3l0.3 0.2l0.3 0.5l0.4 0.5l0.3 0.3l0.3 -0.1l0.4 -0.2l0.3 0l0.3 0l0.3 0l0.4 0l0.3 0.2l0.3 0.2l0.4 0.2l0.3 0.3l0.3 0.2l0.3 0.2l0.4 0.2l0.3 0.3l0.3 0.2l0.4 0.2l0.3 0.2l0.3 0.3l0.4 0.2l0.3 0.2l0.3 0.3l0.3 0.2l0.4 0.2l0.3 0.2l0.3 0.3l0.4 0.2l0.3 0.2l0.3 0.4l0.3 0.5l0.4 0.4l0.3 0.3l0.3 -0.2l0.4 -0.2l0.3 0l0.3 0l0.4 0l0.3 0l0.3 0.2l0.3 0.3l0.4 0.2l0.3 0.2l0.3 0.2l0.4 0.3l0.3 0.2l0.3 0.2l0.3 0.5l0.4 1.5l0.3 1.4l0.3 1.4l0.4 1.5l0.3 1.4l0.3 1.4l0.3 0.4l0.4 0.3l0.3 0.4l0.3 0.4l0.4 0.4l0.3 0.4l0.3 0.4l0.4 0.4l0.3 0.3l0.3 0.4l0.3 0.4l0.4 -0.2l0.3 -0.9l0.3 -0.4l0.4 0l0.3 0l0.3 0l0.3 0l0.4 0l0.3 0l0.3 0l0.4 0l0.3 0l0.3 0l0.4 0l0.3 0l0.3 0l0.3 0l0.4 0.2l0.3 0.3l0.3 0.2l0.4 0.2l0.3 0.3l0.3 0.2l0.3 0.3l0.4 0.5l0.3 0.5l0.3 0l0.4 -0.1l0.3 -0.1l0.3 0l0.3 0l0.4 0l0.3 0l0.3 0.3l0.4 0.2l0.3 0.2l0.3 0.3l0.4 0.2l0.3 0.2l0.3 0.2l0.3 0.3l0.4 0.2l0.3 0.2l0.3 0.3l0.4 0.2l0.3 0.2l0.3 0.2l0.3 0.3l0.4 0.2l0.3 0.2l0.3 0.3l0.4 0.2l0.3 0.2l0.3 0.3l0.3 0.4l0.4 0.5l0.3 0.5l0.3 -0.1l0.4 -0.2l0.3 -0.1l0.3 0l0.4 0l0.3 0l0.3 0.1l0.3 0.2l0.4 0.3l0.3 0.2l0.3 0.2l0.4 0.2l0.3 0.3l0.3 0.2l0.3 0.2l0.4 1.1l0.3 1.5l0.3 1.4l0.4 1.5l0.3 1.4l0.3 1.4l0.4 0.9l0.3 0.3l0.3 0.4l0.3 0.4l0.4 0.4l0.3 0.4l0.3 0.4l0.4 0.4l0.3 0.3l0.3 0.4l0.3 0.4l0.4 0.4l0.3 -0.9l0.3 -0.8l0.4 0l0.3 0l0.3 0l0.3 0l0.4 0l0.3 0l0.3 0l0.4 0l0.3 0l0.3 0l0.4 0l0.3 0l0.3 0l0.3 0l0.4 0.1l0.3 0.2l0.3 0.3l0.4 0.2l0.3 0.2l0.3 0.3l0.3 0.2l0.4 0.5l0.3 0.5l0.3 0.3l0.4 -0.2l0.3 -0.1l0.3 0l0.3 0l0.4 0l0.3 0l0.3 0.2l0.4 0.2l0.3 0.2l0.3 0.2l0.4 0.3l0.3 0.2l0.3 0.2l0.3 0.3l0.4 0.2l0.3 0.2l0.3 0.2l0.4 0.3l0.3 0.2l0.3 0.2l0.3 0.3l0.4 0.2l0.3 0.2l0.3 0.2l0.4 0.3l0.3 0.2l0.3 0.2l0.4 0.4l0.3 0.5l0.3 0.4l0.3 0.3l0.4 -0.2l0.3 -0.2l0.3 0l0.4 0l0.3 0l0.3 0l0.3 0.2l0.4 0.2l0.3 0.3l0.3 0.2l0.4 0.2l0.3 0.2l0.3 0.3l0.3 0.2l0.4 0.5l0.3 1.5l0.3 1.4l0.4 1.4l0.3 1.5l0.3 1.4l0.4 1.4l0.3 0.3l0.3 0.4l0.3 0.4l0.4 0.4l0.3 0.4l0.3 0.4l0.4 0.4l0.3 0.3l0.3 0.4l0.3 0.4l0.4 0.4l0.3 -0.2l0.3 -0.9l0.4 -0.4l0.3 0l0.3 0l0.4 0l0.3 0l0.3 0l0.3 0l0.4 0l0.3 0l0.3 0l0.4 0l0.3 0l0.3 0l0.3 0l0.4 0l0.3 0.2l0.3 0.3l0.4 0.2l0.3 0.2l0.3 0.2l0.3 0.3l0.4 0.3l0.3 0.5l0.3 0.5l0.4 0l0.3 -0.2l0.3 0l0.4 0l0.3 0l0.3 -0.1l0.3 0.1l0.4 0.3l0.3 0.2l0.3 0.2l0.4 0.2l0.3 0.3l0.3 0.2l0.3 0.2l0.4 0.3l0.3 0.2l0.3 0.2l0.4 0.2l0.3 0.3l0.3 0.2l0.3 0.2l0.4 0.3l0.3 0.2l0.3 0.2l0.4 0.2l0.3 0.3l0.3 0.2l0.4 0.2l0.3 0.5l0.3 0.5l0.3 0.5l0.4 -0.1l0.3 -0.2l0.3 -0.1l0.4 0l0.3 0l0.3 0l0.3 0.1l0.4 0.2l0.3 0.3l0.3 0.2l0.4 0.2l0.3 0.2l0.3 0.3l0.4 0.2l0.3 0.2l0.3 1.1l0.3 1.5l0.4 1.4l0.3 1.4l0.3 1.5l0.4 1.4l0.3 0.8l0.3 0.4l0.3 0.4l0.4 0.4l0.3 0.4l0.3 0.4l0.4 0.4l0.3 0.3l0.3 0.4l0.3 0.4l0.4 0.4l0.3 0.4l0.3 -0.9l0.4 -0.8l0.3 0l0.3 0l0.4 0l0.3 0l0.3 0l0.3 0l0.4 0l0.3 0l0.3 0l0.4 0l0.3 0l0.3 0l0.3 0l0.4 0l0.3 0.1l0.3 0.2l0.4 0.3l0.3 0.2l0.3 0.2l0.3 0.3l0.4 0.2l0.3 0.5l0.3 0.5l0.4 0.3l0.3 -0.2l0.3 -0.1l0.4 0l0.3 -0.1l0.3 0l0.3 0l0.4 0.2l0.3 0.3l0.3 0.2l0.4 0.2l0.3 0.3l0.3 0.2l0.3 0.2l0.4 0.2l0.3 0.3l0.3 0.2l0.4 0.2l0.3 0.3l0.3 0.2l0.4 0.2l0.3 0.2l0.3 0.3l0.3 0.2l0.4 0.2l0.3 0.3l0.3 0.2l0.4 0.2l0.3 0.4l0.3 0.4l0.3 0.5l0.4 0.3l0.3 -0.2l0.3 -0.2l0.4 0l0.3 0l0.3 0l0.3 0l0.4 0.2l0.3 0.2l0.3 0.3l0.4 0.2l0.3 0.2l0.3 0.2l0.4 0.3l0.3 0.2l0.3 0.5l0.3 1.4l0.4 1.5l0.3 1.4l0.3 1.5l0.4 1.4l0.3 1.3l0.3 0.4l0.3 0.4l0.4 0.4l0.3 0.4l0.3 0.4l0.4 0.4l0.3 0.3l0.3 0.4l0.4 0.4l0.3 0.4l0.3 0.4l0.3 -0.2l0.4 -0.9l0.3 -0.4l0.3 0l0.4 0l0.3 0l0.3 0l0.3 0l0.4 0l0.3 0l0.3 0l0.4 0l0.3 0l0.3 0l0.3 0l0.4 0l0.3 0l0.3 0.2l0.4 0.2l0.3 0.3l0.3 0.2l0.4 0.2l0.3 0.3l0.3 0.3l0.3 0.5l0.4 0.5l0.3 0l0.3 -0.2l0.4 -0.1l0.3 0l0.3 0l0.3 0l0.4 0.1l0.3 0.3l0.3 0.2l0.4 0.2l0.3 0.2l0.3 0.3l0.3 0.2l0.4 0.2l0.3 0.3l0.3 0.2l0.4 0.2l0.3 0.2l0.3 0.3l0.4 0.2l0.3 0.2l0.3 0.3l0.3 0.2l0.4 0.2l0.3 0.2l0.3 0.3l0.4 0.2l0.3 0.2l0.3 0.5l0.3 0.5l0.4 0.4l0.3 0l0.3 -0.2l0.4 -0.1l0.3 0l0.3 0l0.4 0l0.3 0.1l0.3 0.2l0.3 0.2l0.4 0.3l0.3 0.2l0.3 0.2l0.4 0.2l0.3 0.3l0.3 0.2l0.3 1.1l0.4 1.5l0.3 1.4l0.3 1.4l0.4 1.5l0.3 1.4l0.3 0.8l0.3 0.4l0.4 0.4l0.3 0.4l0.3 0.4l0.4 0.4l0.3 0.4l0.3 0.3l0.4 0.4l0.3 0.4l0.3 0.4l0.3 0.4l0.4 -0.9l0.3 -0.8l0.3 0l0.4 0l0.3 0l0.3 0l0.3 0l0.4 0l0.3 0l0.3 0l0.4 0l0.3 0l0.3 0l0.3 0l0.4 0l0.3 0l0.3 0.1l0.4 0.2l0.3 0.3l0.3 0.2l0.4 0.2l0.3 0.2l0.3 0.3l0.3 0.4l0.4 0.5l0.3 0.4l0.3 -0.2l0.4 -0.2l0.3 0l0.3 0l0.3 0l0.4 0l0.3 0.2l0.3 0.3l0.4 0.2l0.3 0.2l0.3 0.2l0.4 0.3l0.3 0.2l0.3 0.2l0.3 0.3l0.4 0.2l0.3 0.2l0.3 0.2l0.4 0.3l0.3 0.2l0.3 0.2l0.3 0.3l0.4 0.2l0.3 0.2l0.3 0.2l0.4 0.3l0.3 0.2l0.3 0.4l0.3 0.4l0.4 0.5l0.3 0.3l0.3 -0.2l0.4 -0.2l0.3 0l0.3 0l0.4 0l0.3 0l0.3 0.2l0.3 0.2l0.4 0.3l0.3 0.2l0.3 0.2l0.4 0.2l0.3 0.2l0.3 0.3l0.3 0.5l0.4 1.4l0.3 1.5l0.3 1.4l0.4 1.4l0.3 1.5l0.3 1.3l0.4 0.4l0.3 0.4l0.3 0.4l0.3 0.4l0.4 0.4l0.3 0.4l0.3 0.3l0.4 0.4l0.3 0.4l0.3 0.4l0.3 0.4l0.4 -0.3l0.3 -0.8l0.3 -0.4l0.4 0l0.3 0l0.3 0l0.3 0l0.4 0l0.3 0l0.3 0l0.4 0l0.3 0l0.3 0l0.4 0l0.3 0l0.3 0l0.3 0l0.4 0.2l0.3 0.2l0.3 0.3l0.4 0.2l0.3 0.2l0.3 0.3l0.3 0.3l0.4 0.5l0.3 0.5l0.3 0l0.4 -0.2l0.3 -0.1l0.3 0l0.3 0l0.4 0l0.3 0.1l0.3 0.2l0.4 0.3l0.3 0.2l0.3 0.2l0.4 0.3l0.3 0.2l0.3 0.2l0.3 0.2l0.4 0.3l0.3 0.2l0.3 0.2l0.4 0.3l0.3 0.2l0.3 0.2l0.3 0.2l0.4 0.3l0.3 0.2l0.3 0.2l0.4 0.3l0.3 0.2l0.3 0.2l0.4 0.5l0.3 0.5l0.3 0.4l0.3 0l0.4 -0.2l0.3 -0.1l0.3 0l0.4 0l0.3 0l0.3 0.1l0.3 0.2l0.4 0.2l0.3 0.3l0.3 0.2l0.4 0.2l0.3 0.2l0.3 0.3l0.3 0.2l0.4 1.1l0.3 1.4l0.3 1.5l0.4 1.4l0.3 1.5l0.3 1.4l0.4 0.8l0.3 0.4l0.3 0.4l0.3 0.4l0.4 0.4l0.3 0.4l0.3 0.3l0.4 0.4l0.3 0.4l0.3 0.4l0.3 0.4l0.4 0.4l0.3 -0.9l0.3 -0.8l0.4 0l0.3 0l0.3 0l0.3 0l0.4 0l0.3 0l0.3 0l0.4 0l0.3 0l0.3 0l0.4 0l0.3 0l0.3 -0.1l0.3 0l0.4 0.2l0.3 0.2l0.3 0.2l0.4 0.3l0.3 0.2l0.3 0.2l0.3 0.3l0.4 0.4l0.3 0.5l0.3 0.4l0.4 -0.2l0.3 -0.2l0.3 0l0.4 0l0.3 0l0.3 0l0.3 0.2l0.4 0.3l0.3 0.2l0.3 0.2l0.4 0.2l0.3 0.3l0.3 0.2l0.3 0.2l0.4 0.3l0.3 0.2l0.3 0.2l0.4 0.2l0.3 0.3l0.3 0.2l0.3 0.2l0.4 0.3l0.3 0.2l0.3 0.2l0.4 0.2l0.3 0.3l0.3 0.2l0.4 0.4l0.3 0.4l0.3 0.5l0.3 0.3l0.4 -0.2l0.3 -0.2l0.3 0l0.4 0l0.3 0l0.3 0l0.3 0.2l0.4 0.2l0.3 0.2l0.3 0.3l0.4 0.2l0.3 0.2l0.3 0.2l0.4 0.3l0.3 0.5l0.3 1.4l0.3 1.5l0.4 1.4l0.3 1.4l0.3 1.5l0.4 1.3l0.3 0.4l0.3 0.4l0.3 0.4l0.4 0.4l0.3 0.4l0.3 0.3l0.4 0.4l0.3 0.4l0.3 0.4l0.3 0.4l0.4 0.4l0.3 -0.3l0.3 -0.8l0.4 -0.4l0.3 0l0.3 0l0.4 0l0.3 0l0.3 0l0.3 0l0.4 0l0.3 0l0.3 0l0.4 -0.1l0.3 0l0.3 0l0.3 0l0.4 0.1l0.3 0.2l0.3 0.2l0.4 0.3l0.3 0.2l0.3 0.2l0.3 0.2l0.4 0.4l0.3 0.5l0.3 0.5l0.4 0l0.3 -0.2l0.3 -0.1l0.4 0l0.3 0l0.3 0l0.3 0.1l0.4 0.2l0.3 0.3l0.3 0.2l0.4 0.2l0.3 0.2l0.3 0.3l0.3 0.2l0.4 0.2l0.3 0.3l0.3 0.2l0.4 0.2l0.3 0.2l0.3 0.3l0.4 0.2l0.3 0.2l0.3 0.3l0.3 0.2l0.4 0.2l0.3 0.2l0.3 0.3l0.4 0.2l0.3 0.5l0.3 0.5l0.3 0.4l0.4 -0.1l0.3 -0.1l0.3 -0.1l0.4 0l0.3 0l0.3 0l0.3 0.1l0.4 0.2l0.3 0.2l0.3 0.2l0.4 0.3l0.3 0.2l0.3 0.2l0.4 0.2l0.3 0.3l0.3 1.1l0.3 1.4l0.4 1.5l0.3 1.4l0.3 1.4l0.4 1.5l0.3 0.8l0.3 0.4l0.3 0.4l0.4 0.4l0.3 0.4l0.3 0.3l0.4 0.4l0.3 0.4l0.3 0.4l0.3 0.4l0.4 0.4l0.3 0.4l0.3 -0.9l0.4 -0.8l0.3 0l0.3 0l0.4 0l0.3 0l0.3 0l0.3 0l0.4 -0.1l0.3 0l0.3 0l0.4 0l0.3 0l0.3 0l0.3 0l0.4 0l0.3 0.2l0.3 0.2l0.4 0.2l0.3 0.3l0.3 0.2l0.4 0.2l0.3 0.3l0.3 0.4l0.3 0.5l0.4 0.4l0.3 -0.2l0.3 -0.2l0.4 0l0.3 0l0.3 0l0.3 0l0.4 0.2l0.3 0.2l0.3 0.3l0.4 0.2l0.3 0.2l0.3 0.3l0.3 0.2l0.4 0.2l0.3 0.2l0.3 0.3l0.4 0.2l0.3 0.2l0.3 0.3l0.4 0.2l0.3 0.2l0.3 0.2l0.3 0.3l0.4 0.2l0.3 0.2l0.3 0.3l0.4 0.2l0.3 0.3l0.3 0.5l0.3 0.5l0.4 0.2l0.3 -0.2l0.3 -0.1l0.4 0l0.3 0l0.3 0l0.4 0l0.3 0.2l0.3 0.2l0.3 0.2l0.4 0.3l0.3 0.2l0.3 0.2l0.4 0.2l0.3 0.3l0.3 0.5l0.3 1.4l0.4 1.5l0.3 1.4l0.3 1.4l0.4 1.5l0.3 1.3l0.3 0.4l0.3 0.4l0.4 0.4l0.3 0.4l0.3 0.3l0.4 0.4l0.3 0.4l0.3 0.4l0.4 0.4l0.3 0.4l0.3 0.4l0.3 -0.3l0.4 -0.8l0.3 -0.4l0.3 0l0.4 0l0.3 0l0.3 -0.1l0.3 0l0.4 0l0.3 0l0.3 0l0.4 0l0.3 0l0.3 0l0.3 0l0.4 0l0.3 0.1l0.3 0.2l0.4 0.2l0.3 0.2l0.3 0.3l0.4 0.2l0.3 0.2l0.3 0.4l0.3 0.5l0.4 0.5l0.3 0l0.3 -0.2l0.4 -0.1l0.3 0l0.3 0l0.3 0l0.4 0.1l0.3 0.2l0.3 0.3l0.4 0.2l0.3 0.2l0.3 0.2l0.4 0.3l0.3 0.2l0.3 0.2l0.3 0.3l0.4 0.2l0.3 0.2l0.3 0.2l0.4 0.3l0.3 0.2l0.3 0.2l0.3 0.2l0.4 0.3l0.3 0.2l0.3 0.2l0.4 0.3l0.3 0.2l0.3 0.5l0.3 0.4l0.4 0.5l0.3 -0.1l0.3 -0.2l0.4 0l0.3 0l0.3 0l0.4 0l0.3 0.1l0.3 0.2l0.3 0.2l0.4 0.2l0.3 0.3l0.3 0.2l0.4 0.2l0.3 0.2l0.3 0.3l0.3 1.1l0.4 1.4l0.3 1.5l0.3 1.4l0.4 1.4l0.3 1.5l0.3 0.8l0.3 0.4l0.4 0.4l0.3 0.4l0.3 0.3l0.4 0.4l0.3 0.4l0.3 0.4l0.4 0.4l0.3 0.4l0.3 0.4l0.3 0.4l0.4 -0.9l0.3 -0.8l0.3 0l0.4 -0.1l0.3 0l0.3 0l0.3 0l0.4 0l0.3 0l0.3 0l0.4 0l0.3 0l0.3 0l0.4 0l0.3 0l0.3 0l0.3 0.2l0.4 0.2l0.3 0.2l0.3 0.3l0.4 0.2l0.3 0.2l0.3 0.2l0.3 0.5l0.4 0.5l0.3 0.4l0.3 -0.2l0.4 -0.2l0.3 0l0.3 0l0.3 0l0.4 0l0.3 0.2l0.3 0.2l0.4 0.3l0.3 0.2l0.3 0.2l0.4 0.2l0.3 0.3l0.3 0.2l0.3 0.2l0.4 0.3l0.3 0.2l0.3 0.2l0.4 0.2l0.3 0.3l0.3 0.2l0.3 0.2l0.4 0.3l0.3 0.2l0.3 0.2l0.4 0.2l0.3 0.3l0.3 0.3l0.4 0.5l0.3 0.5l0.3 0.2l0.3 -0.2l0.4 -0.1l0.3 0l0.3 0l0.4 0l0.3 0l0.3 0.2l0.3 0.2l0.4 0.2l0.3 0.2l0.3 0.3l0.4 0.2l0.3 0.2l0.3 0.2l0.3 0.6l0.4 1.4l0.3 1.4l0.3 1.5l0.4 1.4l0.3 1.4l0.3 1.4l0.4 0.4l0.3 0.4l0.3 0.4l0.3 0.3l0.4 0.4l0.3 0.4l0.3 0.4l0.4 0.4l0.3 0.4l0.3 0.4l0.3 0.4l0.4 -0.3l0.3 -0.9l0.3 -0.4l0.4 0l0.3 0l0.3 0l0.3 0l0.4 0l0.3 0l0.3 0l0.4 0l0.3 0l0.3 0l0.4 0l0.3 0l0.3 0l0.3 0l0.4 0.3l0.3 0.2l0.3 0.2l0.4 0.3l0.3 0.2l0.3 0.2l0.3 0.4l0.4 0.5l0.3 0.5l0.3 0l0.4 -0.2l0.3 -0.1l0.3 0l0.4 0l0.3 0l0.3 0.1l0.3 0.2l0.4 0.2l0.3 0.3l0.3 0.2l0.4 0.2l0.3 0.3l0.3 0.2l0.3 0.2l0.4 0.2l0.3 0.3l0.3 0.2l0.4 0.2l0.3 0.3l0.3 0.2l0.3 0.2l0.4 0.2l0.3 0.3l0.3 0.2l0.4 0.2l0.3 0.3l0.3 0.2l0.4 0.5l0.3 0.4l0.3 0.5l0.3 -0.1l0.4 -0.2l0.3 0l0.3 0l0.4 0l0.3 0l0.3 0.1l0.3 0.2l0.4 0.2l0.3 0.2l0.3 0.3l0.4 0.2l0.3 0.2l0.3 0.2l0.3 0.2l0.4 1.2l0.3 1.4l0.3 1.5l0.4 1.4l0.3 1.4l0.3 1.5l0.4 0.8l0.3 0.4l0.3 0.4l0.3 0.4l0.4 0.3l0.3 0.4l0.3 0.4l0.4 0.4l0.3 0.4l0.3 0.4l0.3 0.4l0.4 0.3l0.3 -0.8l0.3 -0.9l0.4 0l0.3 0l0.3 0l0.4 0l0.3 0l0.3 0l0.3 0l0.4 0l0.3 0l0.3 0l0.4 0l0.3 0l0.3 0l0.3 0l0.4 0.2l0.3 0.2l0.3 0.2l0.4 0.2l0.3 0.3l0.3 0.2l0.3 0.2l0.4 0.5l0.3 0.5l0.3 0.4l0.4 -0.2l0.3 -0.2l0.3 0l0.4 0l0.3 0l0.3 0l0.3 0.2l0.4 0.2l0.3 0.3l0.3 0.2l0.4 0.2l0.3 0.2l0.3 0.3l0.3 0.2l0.4 0.2l0.3 0.2l0.3 0.3l0.4 0.2l0.3 0.2l0.3 0.3l0.4 0.2l0.3 0.2l0.3 0.2l0.3 0.3l0.4 0.2l0.3 0.2l0.3 0.3l0.4 0.3l0.3 0.5l0.3 0.5l0.3 0.2l0.4 -0.2l0.3 -0.1l0.3 0l0.4 0l0.3 0l0.3 0l0.3 0.2l0.4 0.2l0.3 0.2l0.3 0.2l0.4 0.3l0.3 0.2l0.3 0.2l0.4 0.2l0.3 0.6l0.3 1.4l0.3 1.4l0.4 1.5l0.3 1.4l0.3 1.4l0.4 1.4l0.3 0.4l0.3 0.4l0.3 0.4l0.4 0.3l0.3 0.4l0.3 0.4l0.4 0.4l0.3 0.4l0.3 0.4l0.3 0.4l0.4 0.3l0.3 -0.2l0.3 -0.9l0.4 -0.4l0.3 0l0.3 0l0.4 0l0.3 0l0.3 0l0.3 0l0.4 0l0.3 0l0.3 0l0.4 0l0.3 0l0.3 0l0.3 0l0.4 0l0.3 0.3l0.3 0.2l0.4 0.2l0.3 0.3l0.3 0.2l0.4 0.2l0.3 0.3l0.3 0.5l0.3 0.6l0.4 0l0.3 -0.2l0.3 -0.1l0.4 0l0.3 0l0.3 0l0.3 0.1l0.4 0.2l0.3 0.2l0.3 0.3l0.4 0.2l0.3 0.2l0.3 0.2l0.3 0.3l0.4 0.2l0.3 0.2l0.3 0.3l0.4 0.2l0.3 0.2l0.3 0.2l0.4 0.3l0.3 0.2l0.3 0.2l0.3 0.3l0.4 0.2l0.3 0.2l0.3 0.2l0.4 0.3l0.3 0.5l0.3 0.4l0.3 0.5l0.4 -0.1l0.3 -0.2l0.3 0l0.4 0l0.3 0l0.3 0l0.3 0l0.4 0.3l0.3 0.2l0.3 0.2l0.4 0.2l0.3 0.3l0.3 0.2l0.4 0.2l0.3 0.2l0.3 1.2l0.3 1.4l0.4 1.4l0.3 1.5l0.3 1.4l0.4 1.5l0.3 0.8l0.3 0.4l0.3 0.4l0.4 0.3l0.3 0.4l0.3 0.4l0.4 0.4l0.3 0.4l0.3 0.4l0.4 0.4l0.3 0.3l0.3 0.4l0.3 -0.8l0.4 -0.9l0.3 0l0.3 0l0.4 0l0.3 0l0.3 0l0.3 0l0.4 0l0.3 0l0.3 0l0.4 0l0.3 0l0.3 0l0.3 0l0.4 0l0.3 0.1l0.3 0.3l0.4 0.2l0.3 0.2l0.3 0.3l0.4 0.2l0.3 0.2l0.3 0.5l0.3 0.5l0.4 0.4l0.3 -0.2l0.3 -0.2l0.4 0l0.3 0l0.3 0l0.3 0l0.4 0.2l0.3 0.2l0.3 0.2l0.4 0.3l0.3 0.2l0.3 0.2l0.4 0.3l0.3 0.2l0.3 0.2l0.3 0.2l0.4 0.3l0.3 0.2l0.3 0.2l0.4 0.3l0.3 0.2l0.3 0.2l0.3 0.2l0.4 0.3l0.3 0.2l0.3 0.2l0.4 0.3l0.3 0.3l0.3 0.5l0.3 0.5l0.4 0.2l0.3 -0.2l0.3 -0.2l0.4 0l0.3 0l0.3 0l0.4 0l0.3 0.3l0.3 0.2l0.3 0.2l0.4 0.2l0.3 0.2l0.3 0.3l0.4 0.2l0.3 0.2l0.3 0.5l0.3 1.5l0.4 1.4l0.3 1.5l0.3 1.4l0.4 1.4l0.3 1.4l0.3 0.4l0.3 0.4l0.4 0.3l0.3 0.4l0.3 0.4l0.4 0.4l0.3 0.4l0.3 0.4l0.4 0.4l0.3 0.3l0.3 0.4l0.3 -0.2l0.4 -0.9l0.3 -0.4l0.3 0l0.4 0l0.3 0l0.3 0l0.3 0l0.4 0l0.3 0l0.3 0l0.4 0l0.3 0l0.3 0l0.4 0l0.3 0l0.3 0l0.3 0.3l0.4 0.2l0.3 0.2l0.3 0.2l0.4 0.3l0.3 0.2l0.3 0.3l0.3 0.5l0.4 0.5l0.3 0.1l0.3 -0.2l0.4 -0.1l0.3 0l0.3 0l0.3 0l0.4 0.1l0.3 0.2l0.3 0.2l0.4 0.2l0.3 0.3l0.3 0.2l0.4 0.2l0.3 0.3l0.3 0.2l0.3 0.2l0.4 0.2l0.3 0.3l0.3 0.2l0.4 0.2l0.3 0.3l0.3 0.2l0.3 0.2l0.4 0.2l0.3 0.3l0.3 0.2l0.4 0.2l0.3 0.3l0.3 0.4l0.3 0.5l0.4 0.5l0.3 -0.1l0.3 -0.2l0.4 -0.1l0.3 0l0.3 0l0.4 0l0.3 0.1l0.3 0.3l0.3 0.2l0.4 0.2l0.3 0.2l0.3 0.3l0.4 0.2l0.3 0.2l0.3 0.2l0.3 1.2l0.4 1.4l0.3 1.4l0.3 1.5l0.4 1.4l0.3 1.4l0.3 0.9l0.4 0.4l0.3 0.3l0.3 0.4l0.3 0.4l0.4 0.4l0.3 0.4l0.3 0.4l0.4 0.4l0.3 0.3l0.3 0.4l0.3 0.4l0.4 -0.8l0.3 -0.9l0.3 0l0.4 0l0.3 0l0.3 0l0.3 0l0.4 0l0.3 0l0.3 0l0.4 0l0.3 0l0.3 0l0.4 0l0.3 0l0.3 0l0.3 0.1l0.4 0.3l0.3 0.2l0.3 0.2l0.4 0.3l0.3 0.2l0.3 0.2l0.3 0.5l0.4 0.5l0.3 0.3l0.3 -0.1l0.4 -0.2l0.3 0l0.3 0l0.4 0l0.3 0l0.3 0.2l0.3 0.2l0.4 0.2l0.3 0.3l0.3 0.2l0.4 0.2l0.3 0.2l0.3 0.3l0.3 0.2l0.4 0.2l0.3 0.3l0.3 0.2l0.4 0.2l0.3 0.2l0.3 0.3l0.3 0.2l0.4 0.2l0.3 0.3l0.3 0.2l0.4 0.2l0.3 0.2l0.3 0.4l0.4 0.5l0.3 0.4l0.3 0.3l0.3 -0.2l0.4 -0.2l0.3 0l0.3 0l0.4 0l0.3 0l0.3 0.2l0.3 0.3l0.4 0.2l0.3 0.2l0.3 0.2l0.4 0.3l0.3 0.2l0.3 0.2l0.3 0.5l0.4 1.5l0.3 1.4l0.3 1.4l0.4 1.5l0.3 1.4l0.3 1.4l0.4 0.4l0.3 0.3l0.3 0.4l0.3 0.4l0.4 0.4l0.3 0.4l0.3 0.4l0.4 0.4l0.3 0.3l0.3 0.4l0.3 0.4l0.4 -0.2l0.3 -0.9l0.3 -0.4l0.4 0l0.3 0l0.3 0l0.4 0l0.3 0l0.3 0l0.3 0l0.4 0l0.3 0l0.3 0l0.4 0l0.3 0l0.3 0l0.3 0l0.4 0.2l0.3 0.3l0.3 0.2l0.4 0.2l0.3 0.3l0.3 0.2l0.3 0.3l0.4 0.5l0.3 0.5l0.3 0.1l0.4 -0.2l0.3 -0.1l0.3 0l0.4 0l0.3 0l0.3 0.1l0.3 0.2l0.4 0.2l0.3 0.2l0.3 0.3l0.4 0.2l0.3 0.2l0.3 0.3l0.3 0.2l0.4 0.2l0.3 0.2l0.3 0.3l0.4 0.2l0.3 0.2l0.3 0.3l0.4 0.2l0.3 0.2l0.3 0.2l0.3 0.3l0.4 0.2l0.3 0.2l0.3 0.3l0.4 0.4l0.3 0.5l0.3 0.5l0.3 -0.1l0.4 -0.2l0.3 -0.1l0.3 0l0.4 0l0.3 0l0.3 0.1l0.3 0.2l0.4 0.3l0.3 0.2l0.3 0.2l0.4 0.2l0.3 0.3l0.3 0.2l0.4 0.2l0.3 1.2l0.3 1.4l0.3 1.4l0.4 1.5l0.3 1.4l0.3 1.4l0.4 0.9l0.3 0.3l0.3 0.4l0.3 0.4l0.4 0.4l0.3 0.4l0.3 0.4l0.4 0.4l0.3 0.4l0.3 0.3l0.3 0.4l0.4 0.4l0.3 -0.9l0.3 -0.8l0.4 0l0.3 0l0.3 0l0.4 0l0.3 0l0.3 0l0.3 0l0.4 0l0.3 0l0.3 0l0.4 0l0.3 0l0.3 0l0.3 0l0.4 0.1l0.3 0.3l0.3 0.2l0.4 0.2l0.3 0.2l0.3 0.3l0.4 0.2l0.3 0.5l0.3 0.5l0.3 0.3l0.4 -0.1l0.3 -0.2l0.3 0l0.4 0l0.3 0l0.3 0l0.3 0.2l0.4 0.2l0.3 0.2l0.3 0.2l0.4 0.3l0.3 0.2l0.3 0.2l0.3 0.3l0.4 0.2l0.3 0.2l0.3 0.2l0.4 0.3l0.3 0.2l0.3 0.2l0.4 0.3l0.3 0.2l0.3 0.2l0.3 0.2l0.4 0.3l0.3 0.2l0.3 0.2l0.4 0.4l0.3 0.5l0.3 0.4l0.3 0.3l0.4 -0.2l0.3 -0.2l0.3 0l0.4 0l0.3 0l0.3 0l0.3 0.2l0.4 0.3l0.3 0.2l0.3 0.2l0.4 0.2l0.3 0.3l0.3 0.2l0.4 0.2l0.3 0.5l0.3 1.5l0.3 1.4l0.4 1.4l0.3 1.5l0.3 1.4l0.4 1.4l0.3 0.4l0.3 0.3l0.3 0.4l0.4 0.4l0.3 0.4l0.3 0.4l0.4 0.4l0.3 0.4l0.3 0.3l0.4 0.4l0.3 0.4l0.3 -0.2l0.3 -0.9l0.4 -0.4l0.3 0l0.3 0l0.4 0l0.3 0l0.3 0l0.3 0l0.4 0l0.3 0l0.3 0l0.4 0l0.3 0l0.3 0l0.3 0l0.4 0l0.3 0.2l0.3 0.3l0.4 0.2l0.3 0.2l0.3 0.3l0.4 0.2l0.3 0.3l0.3 0.5l0.3 0.5l0.4 0l0.3 -0.1l0.3 -0.1l0.4 0l0.3 0l0.3 0l0.3 0l0.4 0.3l0.3 0.2l0.3 0.2l0.4 0.3l0.3 0.2l0.3 0.2l0.4 0.2l0.3 0.3l0.3 0.2l0.3 0.2l0.4 0.3l0.3 0.2l0.3 0.2l0.4 0.2l0.3 0.3l0.3 0.2l0.3 0.2l0.4 0.3l0.3 0.2l0.3 0.2l0.4 0.3l0.3 0.4l0.3 0.5l0.3 0.5l0.4 -0.1l0.3 -0.2l0.3 -0.1l0.4 0l0.3 0l0.3 0l0.4 0.1l0.3 0.2l0.3 0.3l0.3 0.2l0.4 0.2l0.3 0.2l0.3 0.3l0.4 0.2l0.3 0.2l0.3 1.1l0.3 1.5l0.4 1.4l0.3 1.4l0.3 1.5l0.4 1.4l0.3 0.9l0.3 0.3l0.3 0.4l0.4 0.4l0.3 0.4l0.3 0.4l0.4 0.4l0.3 0.4l0.3 0.3l0.4 0.4l0.3 0.4l0.3 0.4l0.3 -0.9l0.4 -0.8l0.3 0l0.3 0l0.4 0l0.3 0l0.3 0l0.3 0l0.4 0l0.3 0l0.3 0l0.4 0l0.3 0l0.3 0l0.4 0l0.3 0l0.3 0.1l0.3 0.2l0.4 0.3l0.3 0.2l0.3 0.2l0.4 0.3l0.3 0.2l0.3 0.5l0.3 0.5l0.4 0.3l0.3 -0.2l0.3 -0.1l0.4 0l0.3 0l0.3 0l0.3 -0.1l0.4 0.3l0.3 0.2l0.3 0.2l0.4 0.2l0.3 0.3l0.3 0.2l0.4 0.2l0.3 0.3l0.3 0.2l0.3 0.2l0.4 0.2l0.3 0.3l0.3 0.2l0.4 0.2l0.3 0.3l0.3 0.2l0.3 0.2l0.4 0.2l0.3 0.3l0.3 0.2l0.4 0.2l0.3 0.4l0.3 0.5l0.3 0.4l0.4 0.3l0.3 -0.2l0.3 -0.2l0.4 0l0.3 0l0.3 0l0.4 0l0.3 0.2l0.3 0.2l0.3 0.3l0.4 0.2l0.3 0.2l0.3 0.2l0.4 0.3l0.3 0.2l0.3 0.5l0.3 1.5l0.4 1.4l0.3 1.4l0.3 1.5l0.4 1.4l0.3 1.4l0.3 0.3l0.4 0.4l0.3 0.4l0.3 0.4l0.3 0.4l0.4 0.4l0.3 0.4l0.3 0.3l0.4 0.4l0.3 0.4l0.3 0.4l0.3 -0.2l0.4 -0.9l0.3 -0.4l0.3 0l0.4 0l0.3 0l0.3 0l0.3 0l0.4 0l0.3 0l0.3 0l0.4 0l0.3 0l0.3 0l0.4 0l0.3 0l0.3 0l0.3 0.2l0.4 0.3l0.3 0.2l0.3 0.2l0.4 0.2l0.3 0.3l0.3 0.3l0.3 0.5l0.4 0.5l0.3 0l0.3 -0.2l0.4 0l0.3 0l0.3 -0.1l0.4 0l0.3 0.1l0.3 0.3l0.3 0.2l0.4 0.2l0.3 0.2l0.3 0.3l0.4 0.2l0.3 0.2l0.3 0.3l0.3 0.2l0.4 0.2l0.3 0.2l0.3 0.3l0.4 0.2l0.3 0.2l0.3 0.3l0.3 0.2l0.4 0.2l0.3 0.2l0.3 0.3l0.4 0.2l0.3 0.2l0.3 0.5l0.4 0.5l0.3 0.5l0.3 -0.1l0.3 -0.2l0.4 -0.1l0.3 0l0.3 0l0.4 0l0.3 0.1l0.3 0.2l0.3 0.3l0.4 0.2l0.3 0.2l0.3 0.2l0.4 0.2l0.3 0.3l0.3 0.2l0.3 1.1l0.4 1.5l0.3 1.4l0.3 1.4l0.4 1.5l0.3 1.4l0.3 0.8l0.4 0.4l0.3 0.4l0.3 0.4l0.3 0.4l0.4 0.4l0.3 0.4l0.3 0.3l0.4 0.4l0.3 0.4l0.3 0.4l0.3 0.4l0.4 -0.9l0.3 -0.8l0.3 0l0.4 0l0.3 0l0.3 0l0.4 0l0.3 0l0.3 0l0.3 0l0.4 0l0.3 0l0.3 0l0.4 0l0.3 0l0.3 0l0.3 0.1l0.4 0.2l0.3 0.3l0.3 0.2l0.4 0.2l0.3 0.3l0.3 0.2l0.3 0.4l0.4 0.6l0.3 0.3l0.3 -0.2l0.4 -0.1l0.3 0l0.3 -0.1l0.4 0l0.3 0l0.3 0.2l0.3 0.3l0.4 0.2l0.3 0.2l0.3 0.3l0.4 0.2l0.3 0.2l0.3 0.2l0.3 0.3l0.4 0.2l0.3 0.2l0.3 0.3l0.4 0.2l0.3 0.2l0.3 0.2l0.3 0.3l0.4 0.2l0.3 0.2l0.3 0.3l0.4 0.2l0.3 0.2l0.3 0.4l0.4 0.4l0.3 0.5l0.3 0.3l0.3 -0.2l0.4 -0.2l0.3 0l0.3 0l0.4 0l0.3 0l0.3 0.2l0.3 0.2l0.4 0.3l0.3 0.2l0.3 0.2l0.4 0.2l0.3 0.3l0.3 0.2l0.4 0.5l0.3 1.4l0.3 1.5l0.3 1.4l0.4 1.5l0.3 1.4l0.3 1.3l0.4 0.4l0.3 0.4l0.3 0.4l0.3 0.4l0.4 0.4l0.3 0.4l0.3 0.3l0.4 0.4l0.3 0.4l0.3 0.4l0.3 0.4l0.4 -0.2l0.3 -0.9l0.3 -0.4l0.4 0l0.3 0l0.3 0l0.4 0.0" fill="none" stroke="#a874e0" stroke-width="2.4" stroke-linejoin="round"/>
<rect x="518.5" y="311.2" width="32" height="25.5" fill="rgba(200,200,200,0.6)" stroke="rgba(230,40,40,0.7)" stroke-width="2.6"/>
<line x1="523.6" y1="321.4" x2="517.6" y2="327" stroke="#fff" stroke-width="6" stroke-linecap="round"/>
<line x1="523.6" y1="321.4" x2="504.5" y2="338.4" stroke="#000" stroke-width="2.1" stroke-linecap="round"/>
<line x1="523.6" y1="321.4" x2="517.2" y2="327.4" stroke="#000" stroke-width="3.6" stroke-linecap="round"/>
<path d="M490.3 350.4 L502.3 333.4 L508.9 341.3 Z" fill="#000"/>
<clipPath id="ic"><rect x="222.2" y="181" width="560" height="432"/></clipPath>
<g clip-path="url(#ic)" fill="none" stroke-linejoin="round" stroke-width="1.8">
<path d="M210.8 273l1.4 3.6l1.5 -10.6l1.4 38.8l1.5 -24.3l1.4 18.8l1.5 1.2l1.4 -9.5l1.5 9.5l1.4 0.1l1.5 -2.9l1.4 7.8l1.5 1.6l1.4 -10.4l1.5 -1.5l1.4 6.7l1.5 12.6l1.5 15.9l1.4 2.7l1.5 -14.2l1.4 3.5l1.5 -13l1.4 7.4l1.5 -14.8l1.4 -0.7l1.5 -11.4l1.4 -0.5l1.5 20.5l1.4 -35.2l1.5 13.7l1.4 -6.8l1.5 17.6l1.4 9.7l1.5 -24.1l1.4 -28l1.5 38.5l1.4 0l1.5 -26.2l1.4 16.4l1.5 2l1.5 -25.6l1.4 34l1.5 -2.7l1.4 -2.3l1.5 -14.8l1.4 4l1.5 0.9l1.4 12.6l1.5 -16.7l1.4 27.9l1.5 -12.4l1.4 -29.1l1.5 44l1.4 -17.4l1.5 -8.1l1.4 7.4l1.5 -22l1.4 23l1.5 -30.2l1.4 16.4l1.5 27.1l1.5 -1.1l1.4 -18.3l1.5 -7.2l1.4 21.7l1.5 -11.2l1.4 3l1.5 4.7l1.4 -19.5l1.5 21.4l1.4 -33.3l1.5 40.9l1.4 -34.7l1.5 10.8l1.4 -0.5l1.5 16l1.4 0.2l1.5 -4.5l1.4 2.1l1.5 -0.8l1.4 -6.3l1.5 -21l1.5 -4.5l1.4 0l1.5 25.8l1.4 -1.1l1.5 2l1.4 5.1l1.5 -4.3l1.4 -7.8l1.5 -4.8l1.4 -3.6l1.5 36.7l1.4 -2.6l1.5 -25l1.4 13.4l1.5 9.1l1.4 14.2l1.5 -24.2l1.4 9.9l1.5 12.2l1.4 -32.2l1.5 12.5l1.4 8.9l1.5 -6.9l1.5 33.5l1.4 -13.3l1.5 -6.8l1.4 -12.3l1.5 22l1.4 -1.7l1.5 -12.3l1.4 3.1l1.5 -9.7l1.4 18l1.5 13l1.4 3.7l1.5 -2.7l1.4 4.9l1.5 -14.1l1.4 3.5l1.5 21.4l1.4 -7.4l1.5 -15.1l1.4 14.1l1.5 2.9l1.5 -2.2l1.4 -7.6l1.5 -8l1.4 9.7l1.5 14.1l1.4 -18l1.5 -9.4l1.4 11.6l1.5 -18.1l1.4 16.8l1.5 -6.1l1.4 14.4l1.5 -9.9l1.4 10.9l1.5 14.3l1.4 -28.9l1.5 -7.1l1.4 14.8l1.5 -6.3l1.4 2.7l1.5 -8.6l1.5 13.4l1.4 -4.7l1.5 -24.5l1.4 23l1.5 7.5l1.4 10.6l1.5 -19.1l1.4 -1.6l1.5 23.3l1.4 -19.2l1.5 9.1l1.4 5.2l1.5 4l1.4 -7.4l1.5 -11.8l1.4 25.2l1.5 -15.5l1.4 -0.1l1.5 29.9l1.4 -11.9l1.5 -21.2l1.4 7.5l1.5 3.7l1.5 -4.8l1.4 -12.4l1.5 32.1l1.4 0.6l1.5 -5.1l1.4 -6.4l1.5 8l1.4 5.8l1.5 -18.2l1.4 9.1l1.5 -1.7l1.4 15.3l1.5 -4l1.4 -16.8l1.5 8.7l1.4 28.2l1.5 -30.3l1.4 13.8l1.5 -7.9l1.4 22.3l1.5 -14l1.5 -3.2l1.4 -7.5l1.5 11.6l1.4 13.2l1.5 -0.8l1.4 -21.8l1.5 33.8l1.4 -19.6l1.5 -8.3l1.4 14.5l1.5 -7.6l1.4 1.4l1.5 0.4l1.4 7.1l1.5 -3.7l1.4 -12.8l1.5 26.4l1.4 -10.9l1.5 20.5l1.4 -6.6l1.5 1.9l1.4 -4l1.5 13.7l1.5 -17.5l1.4 -6.6l1.5 16.2l1.4 -34l1.5 27.8l1.4 7.6l1.5 -6.2l1.4 20l1.5 -5.4l1.4 -5.7l1.5 -4.9l1.4 18l1.5 -19.2l1.4 3.9l1.5 14.2l1.4 -0.8l1.5 17.4l1.4 -24.7l1.5 -17.9l1.4 30.5l1.5 8.8l1.5 -14.1l1.4 21.5l1.5 4.5l1.4 -25.8l1.5 4.1l1.4 -6.8l1.5 22.4l1.4 4l1.5 0.7l1.4 -18.9l1.5 7.3l1.4 -7.8l1.5 -2.9l1.4 2.2l1.5 -3.4l1.4 15l1.5 6.1l1.4 1.5l1.5 -8.2l1.4 -8.2l1.5 7.5l1.5 6.5l1.4 -9.8l1.5 4l1.4 -4.1l1.5 -2.5l1.4 6.3l1.5 -13l1.4 24.6l1.5 -29.7l1.4 23l1.5 -20.7l1.4 32.6l1.5 -7.3l1.4 -19.1l1.5 4.1l1.4 -7.5l1.5 13.1l1.4 6.3l1.5 25.2l1.4 -43.5l1.5 30.5l1.4 -19.7l1.5 10.7l1.5 7.8l1.4 -2.9l1.5 -0.4l1.4 -6.1l1.5 3.1l1.4 2.8l1.5 12.8l1.4 -29.3l1.5 12l1.4 -7.6l1.5 4.2l1.4 2.8l1.5 22.4l1.4 12.8l1.5 -8l1.4 -27.8l1.5 15.2l1.4 -12.7l1.5 18.8l1.4 10.3l1.5 -6.8l1.5 4.2l1.4 -10.6l1.5 -19.7l1.4 0.8l1.5 22.3l1.4 8.5l1.5 11.4l1.4 -12.2l1.5 10.9l1.4 8.1l1.5 15.2l1.4 -6.7l1.5 -5.6l1.4 30.7l1.5 -1.5l1.4 5.8l1.5 -12.7l1.4 20.4l1.5 -13.3l1.4 2.9l1.5 26l1.5 3.9l1.4 17.4l1.5 15.9l1.4 -10.6l1.5 26.7l1.4 -20.8l1.5 21.4l1.4 -16.9l1.5 21.8l1.4 1.1l1.5 3.7l1.4 10.7l1.5 -26.3l1.4 24.2l1.5 -8.8l1.4 12.1l1.5 4.7l1.4 -7l1.5 1.7l1.4 -7.2l1.5 20.8l1.4 -12.1l1.5 14.2l1.5 -19.5l1.4 33.2l1.5 -25.3l1.4 26.2l1.5 -16.5l1.4 12.9l1.5 -6.2l1.4 10.9l1.5 -5.9l1.4 15.9l1.5 -5.1l1.4 1.7l1.5 12.8l1.4 -25.1l1.5 24.2l1.4 -12.3l1.5 -15.8l1.4 23.7l1.5 -6.1l1.4 23l1.5 -22.9l1.5 7.7l1.4 3.7l1.5 -22.5l1.4 28.9l1.5 -15.3l1.4 28.7l1.5 4.6l1.4 -17.2l1.5 -16.2l1.4 21.6l1.5 1.6l1.4 7.8l1.5 -12.5l1.4 -13.8l1.5 8.1l1.4 -12.5l1.5 26.7l1.4 -31.7l1.5 -3.1l1.4 3.2l1.5 -14.6l1.4 9l1.5 3.5l1.5 -4l1.4 2.6l1.5 16.9l1.4 -9.2l1.5 -19.9l1.4 10.2l1.5 13.2l1.4 -15.7l1.5 8.2l1.4 -1.2l1.5 6.3l1.4 -8.0" stroke="#4a4a4a"/>
<path d="M210.8 284.8l1.4 -5.3l1.5 13.5l1.4 -10.9l1.5 27.5l1.4 -15.4l1.5 -0.4l1.4 11.5l1.5 -6.8l1.4 3.3l1.5 0.3l1.4 -4.9l1.5 -0.3l1.4 3.8l1.5 19.5l1.4 -15.5l1.5 3.8l1.5 1.2l1.4 12.8l1.5 11.5l1.4 -32l1.5 10.7l1.4 -7.9l1.5 -7.8l1.4 4.1l1.5 -21l1.4 16.8l1.5 -7.1l1.4 -11.8l1.5 25.2l1.4 -7.2l1.5 3l1.4 -25.5l1.5 11.5l1.4 -2.4l1.5 11.1l1.4 7.1l1.5 -31.7l1.4 18.7l1.5 -1.4l1.5 10.9l1.4 -10.1l1.5 -12l1.4 10.5l1.5 -8.2l1.4 2.5l1.5 8l1.4 -5.1l1.5 7.4l1.4 -17.5l1.5 37.3l1.4 -10.3l1.5 -5.3l1.4 -19.6l1.5 -8.4l1.4 12.6l1.5 6.1l1.4 24l1.5 -9l1.4 -17.8l1.5 16.8l1.5 0.1l1.4 -11.7l1.5 11.6l1.4 -8.6l1.5 -9.5l1.4 -5.1l1.5 10.2l1.4 10.9l1.5 -22.9l1.4 -2.5l1.5 21l1.4 -31.7l1.5 44.1l1.4 -22l1.5 11.4l1.4 10.9l1.5 -32.2l1.4 3.9l1.5 32l1.4 -24.6l1.5 1.6l1.5 3.4l1.4 8l1.5 2.6l1.4 -10.8l1.5 -3.4l1.4 3.9l1.5 4.3l1.4 10.7l1.5 -10.4l1.4 17.3l1.5 -25l1.4 14.4l1.5 12.9l1.4 -3.6l1.5 -8.3l1.4 -10.8l1.5 2.6l1.4 6.4l1.5 5.5l1.4 -4.5l1.5 -10.8l1.4 8l1.5 13.1l1.5 4.1l1.4 -20.7l1.5 11l1.4 -11.8l1.5 11.8l1.4 40.8l1.5 -32.8l1.4 -1.8l1.5 -0.3l1.4 -3.9l1.5 -4.1l1.4 19.7l1.5 -0.1l1.4 19.2l1.5 -28.2l1.4 22.3l1.5 10.9l1.4 -30.8l1.5 24.7l1.4 -22.9l1.5 20l1.5 8.4l1.4 -15.1l1.5 2l1.4 -10.3l1.5 8.8l1.4 7.9l1.5 -12.8l1.4 0.4l1.5 5.1l1.4 4.2l1.5 -23.9l1.4 16.5l1.5 -7.3l1.4 11.5l1.5 5.2l1.4 -7l1.5 9.5l1.4 -22.2l1.5 5.6l1.4 -5.7l1.5 10.2l1.5 0.5l1.4 -1.9l1.5 -8.9l1.4 12l1.5 -2.6l1.4 11.1l1.5 -7.5l1.4 14.9l1.5 -8.1l1.4 -19.3l1.5 17.3l1.4 -11.2l1.5 24.2l1.4 5.5l1.5 -13.2l1.4 5.5l1.5 -17.4l1.4 -6.8l1.5 17.4l1.4 3.9l1.5 -11.3l1.4 16.6l1.5 3.1l1.5 4.2l1.4 9.8l1.5 -6.2l1.4 -10.5l1.5 5.5l1.4 5.8l1.5 -15l1.4 24l1.5 -3.1l1.4 -10l1.5 -3.1l1.4 44.2l1.5 -27.9l1.4 2l1.5 9.3l1.4 -7l1.5 -6.5l1.4 5.7l1.5 -14.7l1.4 16.8l1.5 -21l1.5 20.1l1.4 2.3l1.5 -19.6l1.4 34.8l1.5 -28.9l1.4 22.3l1.5 -14.3l1.4 9.1l1.5 -8.4l1.4 31.6l1.5 -13.3l1.4 8.6l1.5 -9l1.4 0.1l1.5 -4.3l1.4 -2.8l1.5 9.2l1.4 -3.4l1.5 -2.1l1.4 -10.9l1.5 11.4l1.4 9.8l1.5 -9.5l1.5 8.9l1.4 -3.8l1.5 -7.6l1.4 2.2l1.5 2.5l1.4 5.4l1.5 1.2l1.4 14.4l1.5 -20.5l1.4 -8.3l1.5 27.5l1.4 -10.1l1.5 4.2l1.4 27l1.5 -9.6l1.4 -7.6l1.5 4.5l1.4 -7.1l1.5 9.2l1.4 -13.6l1.5 1l1.5 4.3l1.4 22l1.5 1.7l1.4 -19l1.5 19.2l1.4 -10.9l1.5 14l1.4 -11.5l1.5 14.4l1.4 -8.4l1.5 0.2l1.4 2.4l1.5 0.9l1.4 -8l1.5 -8.5l1.4 29.1l1.5 -21.2l1.4 -14.7l1.5 -5.2l1.4 -6l1.5 21.3l1.5 19.2l1.4 -29.2l1.5 12.8l1.4 -14.8l1.5 28.7l1.4 -7.2l1.5 -0.4l1.4 10.1l1.5 2.8l1.4 -6l1.5 -15.7l1.4 -7.2l1.5 2.7l1.4 -6.9l1.5 34.7l1.4 -19.3l1.5 4.1l1.4 1.6l1.5 18.8l1.4 -24.3l1.5 18l1.4 -7.6l1.5 -3.5l1.5 -16.4l1.4 28.7l1.5 -15.3l1.4 3.8l1.5 7.6l1.4 -0.3l1.5 11l1.4 -16.6l1.5 9.1l1.4 2.1l1.5 -1.6l1.4 7.4l1.5 -8.2l1.4 15.2l1.5 -17.8l1.4 -6.1l1.5 14.6l1.4 12.9l1.5 -15.7l1.4 -0.1l1.5 3.7l1.5 5.9l1.4 -2.3l1.5 5.7l1.4 -18.9l1.5 32.4l1.4 -8l1.5 -10.6l1.4 27.9l1.5 -3l1.4 16.1l1.5 -19.8l1.4 33.8l1.5 -9.7l1.4 -14.5l1.5 33.5l1.4 -4.2l1.5 -0.9l1.4 13.9l1.5 -10.8l1.4 30.8l1.5 -1.8l1.5 5.6l1.4 22.5l1.5 -7.4l1.4 -0.7l1.5 3.2l1.4 14.8l1.5 17.1l1.4 -10l1.5 1.6l1.4 25.2l1.5 -5.9l1.4 0.8l1.5 22.3l1.4 -30.7l1.5 15.5l1.4 -17.7l1.5 16.1l1.4 10.3l1.5 6.9l1.4 -21.8l1.5 22.2l1.4 1.1l1.5 -7.2l1.5 26.9l1.4 -22.4l1.5 -7l1.4 14.4l1.5 -20.7l1.4 35.1l1.5 -4l1.4 -11.9l1.5 11.5l1.4 0.9l1.5 15.3l1.4 -23.3l1.5 -5l1.4 -5.6l1.5 18.6l1.4 -10.8l1.5 15.3l1.4 7.3l1.5 -6.7l1.4 -3.3l1.5 22.6l1.5 -12l1.4 5.9l1.5 8.6l1.4 -20.4l1.5 5.4l1.4 35.1l1.5 -24.3l1.4 -7l1.5 9.3l1.4 -1.5l1.5 -4.7l1.4 9.6l1.5 2.8l1.4 -3.6l1.5 1.7l1.4 -26l1.5 -1.3l1.4 18.6l1.5 -15.7l1.4 12.5l1.5 -10l1.4 -16.8l1.5 19l1.5 -15.1l1.4 12.4l1.5 9.5l1.4 8.6l1.5 -21.3l1.4 7.4l1.5 -3.8l1.4 4.7l1.5 -32.6l1.4 21.1l1.5 6.6l1.4 1.8" stroke="#ef3838"/>
<path d="M210.8 286.5l1.4 5.4l1.5 0.1l1.4 -1l1.5 0.7l1.4 2.4l1.5 4.7l1.4 4.4l1.5 -1.7l1.4 -3.2l1.5 1l1.4 5.5l1.5 3.7l1.4 0.2l1.5 2.2l1.4 1.8l1.5 0.4l1.5 -1.2l1.4 0.7l1.5 1.3l1.4 -1.7l1.5 -4.7l1.4 -5.3l1.5 -0.2l1.4 -3.8l1.5 -6l1.4 -3.4l1.5 -3.3l1.4 -2.4l1.5 0.6l1.4 1.4l1.5 2.8l1.4 -0.7l1.5 -2.5l1.4 3.6l1.5 0.6l1.4 -0.3l1.5 1.8l1.4 -4.3l1.5 -2.5l1.5 1.4l1.4 3.5l1.5 1.7l1.4 -1.7l1.5 3.6l1.4 -1.7l1.5 -3.2l1.4 1.5l1.5 -0.7l1.4 1.7l1.5 2.1l1.4 -0.5l1.5 -1.5l1.4 -2.7l1.5 -0.8l1.4 -0.1l1.5 -2.6l1.4 1.5l1.5 4.9l1.4 -0.8l1.5 -2.6l1.5 0.1l1.4 1.4l1.5 0.6l1.4 3.1l1.5 -2.4l1.4 -2.8l1.5 3.1l1.4 -0.6l1.5 -1.9l1.4 -2.2l1.5 -0.7l1.4 3.4l1.5 4.1l1.4 -2.7l1.5 -2l1.4 2.4l1.5 1l1.4 -0.5l1.5 -1.2l1.4 1.3l1.5 -3.2l1.5 -1.7l1.4 -1.2l1.5 -4l1.4 2.9l1.5 1.8l1.4 3.6l1.5 6l1.4 -0.7l1.5 -1.3l1.4 1.2l1.5 0.7l1.4 1.7l1.5 2.2l1.4 -0.3l1.5 -1.2l1.4 0.8l1.5 4.1l1.4 1.2l1.5 2.2l1.4 1.3l1.5 0.8l1.4 -0.9l1.5 -3.1l1.5 4.3l1.4 3.3l1.5 -0.3l1.4 4l1.5 1.5l1.4 -2.5l1.5 -0.3l1.4 4.8l1.5 4.9l1.4 -0.3l1.5 -2.8l1.4 2.1l1.5 4.4l1.4 2.2l1.5 4.8l1.4 -0.1l1.5 0.8l1.4 4.4l1.5 -0.9l1.4 -3.1l1.5 -3.2l1.5 -1.5l1.4 -1.2l1.5 2.5l1.4 1.9l1.5 -5.1l1.4 -0.5l1.5 -0.1l1.4 -6.5l1.5 4.9l1.4 8.7l1.5 -5.3l1.4 -3.7l1.5 3.3l1.4 0.6l1.5 -2.1l1.4 -0.2l1.5 1.1l1.4 0l1.5 0.8l1.4 0.6l1.5 -1.9l1.5 0.6l1.4 -0.8l1.5 3.7l1.4 0.9l1.5 -2.1l1.4 5.1l1.5 1.9l1.4 0.8l1.5 2.6l1.4 -1.7l1.5 -1.6l1.4 3.4l1.5 0.1l1.4 -0.4l1.5 4.4l1.4 0.7l1.5 -2.4l1.4 1.8l1.5 1.5l1.4 1.8l1.5 1l1.4 1.3l1.5 1.7l1.5 1.2l1.4 3.3l1.5 -1.6l1.4 1.5l1.5 1.8l1.4 -1l1.5 2.2l1.4 -1l1.5 -3.1l1.4 4.7l1.5 3.3l1.4 -3.7l1.5 4.5l1.4 2.6l1.5 2.6l1.4 4.1l1.5 -1.3l1.4 -1.9l1.5 1.1l1.4 -2.1l1.5 -0.2l1.5 3.9l1.4 -0.3l1.5 1.1l1.4 -0.9l1.5 2.2l1.4 6.3l1.5 -3.3l1.4 -1.2l1.5 6.5l1.4 1.5l1.5 -4.1l1.4 -1.8l1.5 4.7l1.4 6.4l1.5 -2.8l1.4 -2.5l1.5 1.6l1.4 0.3l1.5 3.1l1.4 1.4l1.5 -1l1.4 5.2l1.5 2l1.5 -3.5l1.4 3.4l1.5 1.4l1.4 -1.6l1.5 2.8l1.4 -0.7l1.5 0.6l1.4 5l1.5 0.8l1.4 -1.4l1.5 -0.3l1.4 -2.1l1.5 0.8l1.4 4.8l1.5 2.9l1.4 0.7l1.5 -1.5l1.4 -0.9l1.5 1.6l1.4 3.6l1.5 4.4l1.5 1.8l1.4 -1.4l1.5 1.8l1.4 2l1.5 1.8l1.4 -1.4l1.5 -0.6l1.4 4l1.5 5.9l1.4 4.2l1.5 1.4l1.4 2.1l1.5 -3.1l1.4 -0.9l1.5 2l1.4 -4.4l1.5 1.3l1.4 -2.2l1.5 -5.8l1.4 1.5l1.5 2.9l1.5 0l1.4 -4.9l1.5 -0.2l1.4 4l1.5 5.4l1.4 2.9l1.5 -4.7l1.4 -4.8l1.5 0.4l1.4 -0.1l1.5 -0.3l1.4 3l1.5 -1.2l1.4 -0.2l1.5 0.1l1.4 -1.4l1.5 4.6l1.4 3.2l1.5 -2.6l1.4 -1.7l1.5 1.9l1.4 3.5l1.5 2.3l1.5 2.7l1.4 0.1l1.5 -4l1.4 4l1.5 5.3l1.4 -1.4l1.5 1.3l1.4 -3.5l1.5 -2.3l1.4 2.8l1.5 4l1.4 -0.4l1.5 -2l1.4 6.2l1.5 2.8l1.4 -2.7l1.5 3.3l1.4 -0.9l1.5 -1.8l1.4 3.1l1.5 1.1l1.5 0.8l1.4 -1.6l1.5 1.9l1.4 0l1.5 1.5l1.4 2.9l1.5 4.3l1.4 5.8l1.5 3l1.4 7.7l1.5 9.8l1.4 1.3l1.5 3.9l1.4 11.3l1.5 3.1l1.4 3.2l1.5 10l1.4 6.2l1.5 3.6l1.4 11l1.5 5.5l1.5 1.1l1.4 3.4l1.5 5.6l1.4 8.2l1.5 11.5l1.4 10.8l1.5 0.3l1.4 7.5l1.5 10l1.4 2l1.5 2.6l1.4 2.7l1.5 -1.4l1.4 -2.5l1.5 1.3l1.4 5l1.5 2.7l1.4 0.3l1.5 4.2l1.4 1l1.5 1.4l1.4 2.8l1.5 0.1l1.5 0.4l1.4 1.4l1.5 2.3l1.4 -1.7l1.5 3.1l1.4 4.9l1.5 3.3l1.4 2.3l1.5 -2l1.4 -0.1l1.5 -1.2l1.4 0.7l1.5 8.9l1.4 6.7l1.5 0.6l1.4 -0.7l1.5 1.3l1.4 2l1.5 -2.8l1.4 -1l1.5 7.2l1.5 5.6l1.4 -0.2l1.5 -1.2l1.4 0.5l1.5 1.2l1.4 0.6l1.5 -1.1l1.4 3.8l1.5 4.4l1.4 1l1.5 5.8l1.4 3.2l1.5 -5.7l1.4 -3.7l1.5 -5.3l1.4 -2.7l1.5 -0.3l1.4 -6.1l1.5 -3.1l1.4 -0.6l1.5 -3.1l1.4 -4.7l1.5 5l1.5 1.9l1.4 -1.2l1.5 -1.3l1.4 -2.2l1.5 0.1l1.4 0.4l1.5 0.7l1.4 -2.5l1.5 3.5l1.4 2l1.5 -7l1.4 -1.1" stroke="#1468dc" stroke-width="2.2"/>
<path d="M210.8 283.9l1.4 2.6l1.5 2.4l1.4 1.2l1.5 -0.8l1.4 2l1.5 5.2l1.4 0.5l1.5 1.3l1.4 4l1.5 0.3l1.4 1.5l1.5 1.2l1.4 0.7l1.5 1.3l1.4 2.8l1.5 4.7l1.5 0.2l1.4 1.4l1.5 -2.9l1.4 -6.4l1.5 -2.3l1.4 -0.3l1.5 -3.1l1.4 -4.9l1.5 -5.6l1.4 -4.6l1.5 2.3l1.4 -0.2l1.5 -4.3l1.4 0.3l1.5 4.6l1.4 1.4l1.5 -0.5l1.4 -3.9l1.5 -0.8l1.4 3.3l1.5 -0.8l1.4 -0.4l1.5 0.4l1.5 -0.6l1.4 1.6l1.5 -1l1.4 2.7l1.5 1.1l1.4 -3.3l1.5 -1.2l1.4 -0.3l1.5 0.6l1.4 -2l1.5 -1.7l1.4 2.3l1.5 1.9l1.4 -3.9l1.5 -2.7l1.4 3.1l1.5 2.7l1.4 1.2l1.5 -1.6l1.4 0l1.5 1.2l1.5 -1.4l1.4 0.2l1.5 1.9l1.4 0.9l1.5 -0.1l1.4 -1.6l1.5 -1.6l1.4 -0.6l1.5 -0.4l1.4 1l1.5 0.1l1.4 1.5l1.5 1.1l1.4 0.1l1.5 -0.4l1.4 0.4l1.5 0l1.4 -0.2l1.5 0.5l1.4 -0.3l1.5 -0.7l1.5 -2.6l1.4 -1.8l1.5 4.1l1.4 3.4l1.5 -1l1.4 0.2l1.5 -0.2l1.4 5l1.5 0.1l1.4 -2.9l1.5 2.4l1.4 -0.5l1.5 -0.6l1.4 1.5l1.5 2.2l1.4 1.3l1.5 2.4l1.4 0.1l1.5 0.4l1.4 4.5l1.5 1.6l1.4 -2.5l1.5 -4.1l1.5 3.6l1.4 5.5l1.5 -0.9l1.4 2l1.5 1.2l1.4 -0.6l1.5 0.2l1.4 2.4l1.5 2.9l1.4 1.1l1.5 4.1l1.4 3l1.5 -1.2l1.4 2.8l1.5 5.1l1.4 0.2l1.5 0.5l1.4 2.4l1.5 -0.6l1.4 -0.7l1.5 0.4l1.5 -1.6l1.4 1.1l1.5 -1.1l1.4 -4.2l1.5 2.7l1.4 3.6l1.5 -2.5l1.4 -3.4l1.5 -1.5l1.4 1.7l1.5 1.6l1.4 -2.6l1.5 0.3l1.4 2.9l1.5 0.3l1.4 1.1l1.5 0.6l1.4 -2.3l1.5 -1.6l1.4 0.1l1.5 1.7l1.5 0.4l1.4 0.8l1.5 0.1l1.4 0.6l1.5 2.3l1.4 -0.3l1.5 -2.3l1.4 3.4l1.5 3.5l1.4 -1.9l1.5 0.5l1.4 1.2l1.5 -1.5l1.4 1l1.5 1.3l1.4 1.5l1.5 2.7l1.4 2.2l1.5 0.9l1.4 0l1.5 0.7l1.4 0l1.5 -0.5l1.5 2.8l1.4 3l1.5 -1.1l1.4 1.1l1.5 1.1l1.4 -0.2l1.5 1.8l1.4 3.5l1.5 0.3l1.4 -2.5l1.5 0.5l1.4 5.2l1.5 0.7l1.4 0.2l1.5 1.7l1.4 0.4l1.5 1.1l1.4 -2l1.5 0.5l1.4 5.8l1.5 1.4l1.5 -1.1l1.4 0.7l1.5 0.1l1.4 1.8l1.5 1.8l1.4 3.4l1.5 0.3l1.4 -2.1l1.5 0.1l1.4 -0.5l1.5 -0.3l1.4 3.5l1.5 0.7l1.4 1.9l1.5 4.5l1.4 -1.2l1.5 -1.7l1.4 1.4l1.5 2.5l1.4 2.4l1.5 0l1.4 -1l1.5 1.8l1.5 1.1l1.4 0.3l1.5 -1l1.4 -0.3l1.5 2.3l1.4 2.8l1.5 3.2l1.4 4.3l1.5 1.9l1.4 -1.6l1.5 1.2l1.4 0.3l1.5 -2.2l1.4 4.2l1.5 0.2l1.4 -2.6l1.5 2.1l1.4 3.4l1.5 0.5l1.4 0.8l1.5 2.2l1.5 -0.6l1.4 2.8l1.5 3.9l1.4 0.1l1.5 0.7l1.4 2.4l1.5 4.4l1.4 3.7l1.5 1l1.4 2l1.5 1.1l1.4 -0.3l1.5 -1l1.4 -3.2l1.5 -0.9l1.4 1.2l1.5 0.2l1.4 0.3l1.5 -3.1l1.4 -2.5l1.5 2.7l1.5 -1l1.4 -0.2l1.5 0.7l1.4 -1.8l1.5 2l1.4 -0.3l1.5 -0.2l1.4 1.3l1.5 -2.5l1.4 -0.6l1.5 0.2l1.4 0.1l1.5 1.3l1.4 -1.4l1.5 1.3l1.4 3.8l1.5 1.1l1.4 -1.4l1.5 -3.9l1.4 1.4l1.5 3.7l1.4 2.2l1.5 0.5l1.5 0.4l1.4 1.9l1.5 -1l1.4 3.1l1.5 1.5l1.4 -1.1l1.5 3.9l1.4 -0.4l1.5 -0.5l1.4 4.1l1.5 0.6l1.4 0.2l1.5 1.7l1.4 -0.2l1.5 1.5l1.4 0.4l1.5 -0.3l1.4 2.5l1.5 1.6l1.4 0.3l1.5 -0.9l1.5 0.3l1.4 4.1l1.5 2.1l1.4 -0.2l1.5 -0.9l1.4 -0.3l1.5 4.8l1.4 8.7l1.5 5.6l1.4 5.9l1.5 5.6l1.4 6l1.5 5.1l1.4 4.8l1.5 6l1.4 6.7l1.5 8.2l1.4 3.9l1.5 4.4l1.4 6.7l1.5 5.1l1.5 5.5l1.4 6.9l1.5 8.3l1.4 9l1.5 4.5l1.4 3.9l1.5 6.9l1.4 5.8l1.5 5.4l1.4 7.9l1.5 3.1l1.4 0.5l1.5 0.6l1.4 3.6l1.5 1.6l1.4 -0.1l1.5 1.1l1.4 0.6l1.5 3.2l1.4 1.9l1.5 2.2l1.4 2.2l1.5 -0.9l1.5 -1.5l1.4 4.8l1.5 3.9l1.4 2.3l1.5 2.4l1.4 -1.3l1.5 2.3l1.4 2.3l1.5 0.9l1.4 0.8l1.5 2.4l1.4 4.3l1.5 0.1l1.4 2.6l1.5 1.5l1.4 -0.3l1.5 0.2l1.4 -1.2l1.5 6.5l1.4 6l1.5 0.4l1.5 -2.4l1.4 0.4l1.5 4.4l1.4 1.5l1.5 1.4l1.4 0.4l1.5 1l1.4 1.4l1.5 1.4l1.4 3.6l1.5 1.1l1.4 0.8l1.5 -0.6l1.4 -3.3l1.5 -1.9l1.4 -3.4l1.5 -4.4l1.4 -5.9l1.5 -4.7l1.4 -0.8l1.5 -1.7l1.4 -1.7l1.5 -0.1l1.5 2.3l1.4 0.6l1.5 -2.7l1.4 1.4l1.5 2.4l1.4 -0.2l1.5 -0.1l1.4 -0.4l1.5 -1.5l1.4 -0.8l1.5 -0.5l1.4 -0.2" stroke="#33a866" stroke-width="2.2"/>
<path d="M210.8 286.2l1.4 1.7l1.5 1.6l1.4 1.6l1.5 1.7l1.4 1.6l1.5 1.6l1.4 1.7l1.5 1.6l1.4 1.6l1.5 1.7l1.4 1.6l1.5 1.7l1.4 1.6l1.5 1.7l1.4 1.6l1.5 1.7l1.5 1.6l1.4 1.6l1.5 -1l1.4 -3.7l1.5 -3.7l1.4 -3.7l1.5 -3.7l1.4 -3.7l1.5 -3.7l1.4 -3.7l1.5 -1.1l1.4 0l1.5 0l1.4 0l1.5 0l1.4 0l1.5 0l1.4 -0.1l1.5 0l1.4 0l1.5 0l1.4 0l1.5 0l1.5 0l1.4 0l1.5 0l1.4 0l1.5 0l1.4 0l1.5 0l1.4 -0.1l1.5 0l1.4 0l1.5 0l1.4 0l1.5 0l1.4 0l1.5 0l1.4 0l1.5 0l1.4 0l1.5 0l1.4 0l1.5 0l1.5 -0.1l1.4 0l1.5 0l1.4 0l1.5 0l1.4 0l1.5 0l1.4 0l1.5 0l1.4 0l1.5 0l1.4 0l1.5 0l1.4 -0.1l1.5 0l1.4 0l1.5 0l1.4 0l1.5 0l1.4 0l1.5 0l1.5 0l1.4 0l1.5 0l1.4 0.9l1.5 1l1.4 1l1.5 0.9l1.4 1l1.5 1l1.4 0.9l1.5 1l1.4 1l1.5 0.9l1.4 1l1.5 1l1.4 0.9l1.5 1l1.4 1l1.5 0.9l1.4 1l1.5 1l1.4 1l1.5 0.9l1.5 1l1.4 1l1.5 0.9l1.4 1l1.5 1l1.4 0.9l1.5 1l1.4 2.1l1.5 2.2l1.4 2.1l1.5 2.1l1.4 2.1l1.5 2.2l1.4 2.1l1.5 2.1l1.4 2.2l1.5 2.1l1.4 1.3l1.5 -0.8l1.4 -0.8l1.5 -0.8l1.5 -0.8l1.4 -0.8l1.5 -0.8l1.4 -0.8l1.5 -0.8l1.4 -0.2l1.5 0l1.4 0l1.5 -0.1l1.4 0l1.5 0l1.4 0l1.5 0l1.4 0l1.5 -0.1l1.4 0l1.5 0l1.4 0l1.5 0l1.4 0l1.5 -0.1l1.5 0.1l1.4 1l1.5 0.9l1.4 1l1.5 1l1.4 0.9l1.5 1l1.4 1l1.5 0.9l1.4 1l1.5 1l1.4 0.9l1.5 1l1.4 1l1.5 0.9l1.4 1l1.5 1l1.4 0.9l1.5 1l1.4 1l1.5 0.9l1.4 1l1.5 1l1.5 0.9l1.4 1l1.5 1l1.4 0.9l1.5 1l1.4 1l1.5 0.9l1.4 1l1.5 1l1.4 0.9l1.5 1l1.4 1l1.5 0.9l1.4 1l1.5 1l1.4 0.9l1.5 1l1.4 1l1.5 0.9l1.4 1l1.5 1l1.5 0.9l1.4 1l1.5 1l1.4 0.9l1.5 1l1.4 1l1.5 0.9l1.4 1l1.5 1l1.4 0.9l1.5 1l1.4 1l1.5 0.9l1.4 1l1.5 1l1.4 0.9l1.5 1l1.4 1l1.5 0.9l1.4 1l1.5 1l1.4 0.9l1.5 1l1.5 1l1.4 0.9l1.5 1l1.4 1l1.5 0.9l1.4 1l1.5 1l1.4 0.9l1.5 1l1.4 1l1.5 0.9l1.4 1l1.5 1l1.4 0.9l1.5 1l1.4 1l1.5 0.9l1.4 1l1.5 1l1.4 1.7l1.5 1.9l1.5 2l1.4 2l1.5 2l1.4 2l1.5 2l1.4 2l1.5 2l1.4 2l1.5 2l1.4 2l1.5 1.9l1.4 -0.2l1.5 -0.8l1.4 -0.8l1.5 -0.8l1.4 -0.8l1.5 -0.9l1.4 -0.8l1.5 -0.8l1.4 -0.8l1.5 -0.1l1.5 0l1.4 0l1.5 0l1.4 0l1.5 0l1.4 0l1.5 0l1.4 0l1.5 0l1.4 0l1.5 0l1.4 0l1.5 0l1.4 0l1.5 0l1.4 0.2l1.5 1l1.4 0.9l1.5 1l1.4 0.9l1.5 1l1.4 0.9l1.5 1l1.5 0.9l1.4 1l1.5 0.9l1.4 0.9l1.5 1l1.4 0.9l1.5 1l1.4 0.9l1.5 1l1.4 0.9l1.5 1l1.4 0.9l1.5 1l1.4 0.9l1.5 1l1.4 0.9l1.5 1l1.4 0.9l1.5 1l1.4 0.9l1.5 1l1.5 0.9l1.4 1l1.5 0.9l1.4 1l1.5 0.9l1.4 1l1.5 3.5l1.4 6l1.5 6.1l1.4 6.1l1.5 6.1l1.4 6l1.5 6.1l1.4 6.1l1.5 6.1l1.4 6l1.5 6.1l1.4 6.1l1.5 6.1l1.4 6.1l1.5 6l1.5 6.1l1.4 6.1l1.5 6.1l1.4 6l1.5 6.1l1.4 6.1l1.5 6.1l1.4 6l1.5 6.1l1.4 6.1l1.5 2.5l1.4 1.6l1.5 1.7l1.4 1.6l1.5 1.6l1.4 1.7l1.5 1.6l1.4 1.6l1.5 1.7l1.4 1.6l1.5 1.6l1.4 1.7l1.5 1.6l1.5 1.6l1.4 1.7l1.5 1.6l1.4 1.6l1.5 1.7l1.4 1.6l1.5 1.6l1.4 1.7l1.5 1.6l1.4 1.6l1.5 1.7l1.4 1.6l1.5 1.6l1.4 1.7l1.5 1.6l1.4 1.6l1.5 1.7l1.4 1.6l1.5 1.6l1.4 1.7l1.5 1.6l1.5 1.6l1.4 1.7l1.5 1.6l1.4 1.7l1.5 1.6l1.4 1.7l1.5 1.6l1.4 1.7l1.5 1.6l1.4 1.6l1.5 1.7l1.4 1.6l1.5 -1l1.4 -3.7l1.5 -3.7l1.4 -3.7l1.5 -3.7l1.4 -3.7l1.5 -3.7l1.4 -3.7l1.5 -1.1l1.4 0l1.5 0l1.5 0l1.4 0l1.5 0l1.4 -0.1l1.5 0l1.4 0l1.5 0l1.4 0l1.5 0l1.4 0l1.5 0l1.4 0.0" stroke="#a874e0" stroke-width="2.4"/>
</g>
<g fill="#000">
<rect x="109.7" y="14.3" width="3" height="700.7"/>
<rect x="98" y="700" width="837.6" height="3"/>
<rect x="98" y="14.00" width="13" height="3"/>
<rect x="98" y="185.50" width="13" height="3"/>
<rect x="98" y="357.00" width="13" height="3"/>
<rect x="98" y="528.50" width="13" height="3"/>
<rect x="105" y="99.75" width="6" height="3"/>
<rect x="105" y="271.25" width="6" height="3"/>
<rect x="105" y="442.75" width="6" height="3"/>
<rect x="105" y="614.25" width="6" height="3"/>
<rect x="521.25" y="701" width="3" height="14"/>
<rect x="932.80" y="701" width="3" height="14"/>
<rect x="315.47" y="701" width="3" height="7"/>
<rect x="727.02" y="701" width="3" height="7"/>
</g>
<g fill="#000">
<rect x="221.2" y="181" width="2" height="433.3"/>
<rect x="221.2" y="612.2" width="561" height="2"/>
<rect x="214" y="190.60" width="8" height="2"/>
<rect x="214" y="262.75" width="8" height="2"/>
<rect x="214" y="334.90" width="8" height="2"/>
<rect x="214" y="407.05" width="8" height="2"/>
<rect x="214" y="479.20" width="8" height="2"/>
<rect x="214" y="551.35" width="8" height="2"/>
<rect x="218" y="226.68" width="4" height="2"/>
<rect x="218" y="298.82" width="4" height="2"/>
<rect x="218" y="370.98" width="4" height="2"/>
<rect x="218" y="443.12" width="4" height="2"/>
<rect x="218" y="515.27" width="4" height="2"/>
<rect x="218" y="587.43" width="4" height="2"/>
<rect x="296.90" y="613" width="2" height="8.5"/>
<rect x="442.13" y="613" width="2" height="8.5"/>
<rect x="587.36" y="613" width="2" height="8.5"/>
<rect x="732.59" y="613" width="2" height="8.5"/>
<rect x="224.28" y="613" width="2" height="4.5"/>
<rect x="369.51" y="613" width="2" height="4.5"/>
<rect x="514.75" y="613" width="2" height="4.5"/>
<rect x="659.97" y="613" width="2" height="4.5"/>
</g>
<text transform="translate(61.11,27.10) scale(0.901,1)" font-size="30.37">8</text>
<text transform="translate(75.26,27.10) scale(0.901,1)" font-size="30.37">0</text>
<text transform="translate(60.98,198.60) scale(0.894,1)" font-size="30.37">6</text>
<text transform="translate(75.26,198.60) scale(0.901,1)" font-size="30.37">0</text>
<text transform="translate(61.66,370.10) scale(0.822,1)" font-size="30.37">4</text>
<text transform="translate(75.26,370.10) scale(0.901,1)" font-size="30.37">0</text>
<text transform="translate(60.88,541.60) scale(0.953,1)" font-size="30.37">2</text>
<text transform="translate(75.26,541.60) scale(0.901,1)" font-size="30.37">0</text>
<text transform="translate(75.26,713.10) scale(0.901,1)" font-size="30.37">0</text>
<text transform="translate(104.36,749.20) scale(0.901,1)" font-size="30.37">0</text>
<text transform="translate(494.05,749.20) scale(0.948,1)" font-size="30.37">5</text>
<text transform="translate(508.83,749.20) scale(0.901,1)" font-size="30.37">0</text>
<text transform="translate(522.98,749.20) scale(0.901,1)" font-size="30.37">0</text>
<text transform="translate(537.13,749.20) scale(0.901,1)" font-size="30.37">0</text>
<text transform="translate(898.95,749.20) scale(0.879,1)" font-size="30.37">1</text>
<text transform="translate(913.31,749.20) scale(0.901,1)" font-size="30.37">0</text>
<text transform="translate(927.46,749.20) scale(0.901,1)" font-size="30.37">0</text>
<text transform="translate(941.61,749.20) scale(0.901,1)" font-size="30.37">0</text>
<text transform="translate(955.76,749.20) scale(0.901,1)" font-size="30.37">0</text>
<text transform="translate(153.83,202.70) scale(0.826,1)" font-size="29.17">4</text>
<text transform="translate(166.28,202.70) scale(0.953,1)" font-size="29.17">5</text>
<text transform="translate(179.88,202.70) scale(1.102,1)" font-size="29.17">.</text>
<text transform="translate(194.18,202.70) scale(0.953,1)" font-size="29.17">5</text>
<text transform="translate(153.83,274.85) scale(0.826,1)" font-size="29.17">4</text>
<text transform="translate(166.28,274.85) scale(0.953,1)" font-size="29.17">5</text>
<text transform="translate(179.88,274.85) scale(1.102,1)" font-size="29.17">.</text>
<text transform="translate(194.79,274.85) scale(0.906,1)" font-size="29.17">0</text>
<text transform="translate(153.83,347.00) scale(0.826,1)" font-size="29.17">4</text>
<text transform="translate(167.43,347.00) scale(0.826,1)" font-size="29.17">4</text>
<text transform="translate(179.88,347.00) scale(1.102,1)" font-size="29.17">.</text>
<text transform="translate(194.18,347.00) scale(0.953,1)" font-size="29.17">5</text>
<text transform="translate(153.83,419.15) scale(0.826,1)" font-size="29.17">4</text>
<text transform="translate(167.43,419.15) scale(0.826,1)" font-size="29.17">4</text>
<text transform="translate(179.88,419.15) scale(1.102,1)" font-size="29.17">.</text>
<text transform="translate(194.79,419.15) scale(0.906,1)" font-size="29.17">0</text>
<text transform="translate(153.83,491.30) scale(0.826,1)" font-size="29.17">4</text>
<text transform="translate(166.60,491.30) scale(0.929,1)" font-size="29.17">3</text>
<text transform="translate(179.88,491.30) scale(1.102,1)" font-size="29.17">.</text>
<text transform="translate(194.18,491.30) scale(0.953,1)" font-size="29.17">5</text>
<text transform="translate(153.83,563.45) scale(0.826,1)" font-size="29.17">4</text>
<text transform="translate(166.60,563.45) scale(0.929,1)" font-size="29.17">3</text>
<text transform="translate(179.88,563.45) scale(1.102,1)" font-size="29.17">.</text>
<text transform="translate(194.79,563.45) scale(0.906,1)" font-size="29.17">0</text>
<text transform="translate(269.98,652.20) scale(0.953,1)" font-size="29.17">5</text>
<text transform="translate(284.39,652.20) scale(0.906,1)" font-size="29.17">0</text>
<text transform="translate(298.19,652.20) scale(0.906,1)" font-size="29.17">0</text>
<text transform="translate(311.99,652.20) scale(0.906,1)" font-size="29.17">0</text>
<text transform="translate(415.21,652.20) scale(0.953,1)" font-size="29.17">5</text>
<text transform="translate(429.48,652.20) scale(0.876,1)" font-size="29.17">1</text>
<text transform="translate(443.42,652.20) scale(0.906,1)" font-size="29.17">0</text>
<text transform="translate(457.22,652.20) scale(0.906,1)" font-size="29.17">0</text>
<text transform="translate(560.44,652.20) scale(0.953,1)" font-size="29.17">5</text>
<text transform="translate(574.63,652.20) scale(0.958,1)" font-size="29.17">2</text>
<text transform="translate(588.65,652.20) scale(0.906,1)" font-size="29.17">0</text>
<text transform="translate(602.45,652.20) scale(0.906,1)" font-size="29.17">0</text>
<text transform="translate(705.67,652.20) scale(0.953,1)" font-size="29.17">5</text>
<text transform="translate(719.79,652.20) scale(0.929,1)" font-size="29.17">3</text>
<text transform="translate(733.88,652.20) scale(0.906,1)" font-size="29.17">0</text>
<text transform="translate(747.68,652.20) scale(0.906,1)" font-size="29.17">0</text>
<text transform="translate(476.92,800.60) scale(0.723,1)" font-size="36.95">T</text>
<text transform="translate(496.91,800.60) scale(0.763,1)" font-size="36.95">i</text>
<text transform="translate(511.11,800.60) scale(0.635,1)" font-size="36.95">m</text>
<text transform="translate(528.99,800.60) scale(0.980,1)" font-size="36.95">e</text>
<text transform="translate(551.01,797.52) scale(0.903,1)" font-size="37.50">(</text>
<text transform="translate(563.52,800.60) scale(1.110,1)" font-size="36.95">s</text>
<text transform="translate(580.20,797.52) scale(0.914,1)" font-size="37.50">)</text>
<text transform="translate(453.21,689.70) scale(0.734,1)" font-size="29.31">T</text>
<text transform="translate(469.81,689.70) scale(0.803,1)" font-size="29.31">i</text>
<text transform="translate(480.50,689.70) scale(0.654,1)" font-size="29.31">m</text>
<text transform="translate(495.18,689.70) scale(0.977,1)" font-size="29.31">e</text>
<text transform="translate(513.14,686.84) scale(0.945,1)" font-size="28.01">(</text>
<text transform="translate(522.82,689.70) scale(1.148,1)" font-size="29.31">s</text>
<text transform="translate(536.35,686.84) scale(0.945,1)" font-size="28.01">)</text>
<g transform="rotate(-90)">
<text transform="translate(-427.65,26.10) scale(0.832,1)" font-size="36.86">S</text>
<text transform="translate(-409.15,26.10) scale(0.627,1)" font-size="36.86">O</text>
<text transform="translate(-390.96,26.10) scale(0.703,1)" font-size="36.86">C</text>
<text transform="translate(-354.14,20.87) scale(1.299,1)" font-size="28.78">(</text>
<text transform="translate(-338.44,25.64) scale(0.627,1)" font-size="34.65">%</text>
<text transform="translate(-315.40,20.87) scale(1.299,1)" font-size="28.78">)</text>
</g>
<g transform="rotate(-90)">
<text transform="translate(-455.18,145.10) scale(0.911,1)" font-size="29.31">S</text>
<text transform="translate(-440.48,145.10) scale(0.736,1)" font-size="29.31">O</text>
<text transform="translate(-423.59,145.10) scale(0.825,1)" font-size="29.31">C</text>
<text transform="translate(-396.37,140.53) scale(1.308,1)" font-size="23.82">(</text>
<text transform="translate(-382.58,143.94) scale(0.620,1)" font-size="27.42">%</text>
<text transform="translate(-367.25,140.53) scale(1.634,1)" font-size="23.82">)</text>
</g>
<rect x="696" y="1" width="251" height="202" fill="none" stroke="#000" stroke-width="2"/>
<line x1="700" y1="23.70" x2="770.6" y2="23.70" stroke="#4a4a4a" stroke-width="2"/>
<text transform="translate(787.71,36.00) scale(0.973,1)" font-size="36.64">e</text>
<text transform="translate(804.10,33.82) scale(1.164,1)" font-size="31.87">p</text>
<text transform="translate(821.94,36.00) scale(0.902,1)" font-size="36.64">o</text>
<text transform="translate(839.99,36.00) scale(0.902,1)" font-size="36.64">c</text>
<text transform="translate(855.70,36.00) scale(0.990,1)" font-size="36.64">h</text>
<text transform="translate(872.42,36.00) scale(0.921,1)" font-size="36.64">=</text>
<text transform="translate(890.70,36.00) scale(0.894,1)" font-size="36.64">5</text>
<text transform="translate(908.13,36.00) scale(0.908,1)" font-size="36.64">0</text>
<line x1="700" y1="62.75" x2="770.6" y2="62.75" stroke="#ef3838" stroke-width="2"/>
<text transform="translate(787.71,75.05) scale(0.973,1)" font-size="36.64">e</text>
<text transform="translate(804.10,72.87) scale(1.164,1)" font-size="31.87">p</text>
<text transform="translate(821.94,75.05) scale(0.902,1)" font-size="36.64">o</text>
<text transform="translate(839.99,75.05) scale(0.902,1)" font-size="36.64">c</text>
<text transform="translate(855.70,75.05) scale(0.990,1)" font-size="36.64">h</text>
<text transform="translate(872.42,75.05) scale(0.921,1)" font-size="36.64">=</text>
<text transform="translate(891.34,75.05) scale(0.851,1)" font-size="36.64">4</text>
<text transform="translate(908.13,75.05) scale(0.908,1)" font-size="36.64">0</text>
<text transform="translate(925.38,75.05) scale(0.908,1)" font-size="36.64">0</text>
<line x1="700" y1="101.80" x2="770.6" y2="101.80" stroke="#1468dc" stroke-width="2"/>
<text transform="translate(787.71,114.10) scale(0.973,1)" font-size="36.64">e</text>
<text transform="translate(804.10,111.92) scale(1.164,1)" font-size="31.87">p</text>
<text transform="translate(821.94,114.10) scale(0.902,1)" font-size="36.64">o</text>
<text transform="translate(839.99,114.10) scale(0.902,1)" font-size="36.64">c</text>
<text transform="translate(855.70,114.10) scale(0.990,1)" font-size="36.64">h</text>
<text transform="translate(872.42,114.10) scale(0.921,1)" font-size="36.64">=</text>
<text transform="translate(890.58,114.10) scale(0.892,1)" font-size="36.64">1</text>
<text transform="translate(908.13,114.10) scale(0.908,1)" font-size="36.64">0</text>
<text transform="translate(925.38,114.10) scale(0.908,1)" font-size="36.64">0</text>
<line x1="700" y1="140.85" x2="770.6" y2="140.85" stroke="#33a866" stroke-width="2"/>
<text transform="translate(787.71,153.15) scale(0.973,1)" font-size="36.64">e</text>
<text transform="translate(804.10,150.97) scale(1.164,1)" font-size="31.87">p</text>
<text transform="translate(821.94,153.15) scale(0.902,1)" font-size="36.64">o</text>
<text transform="translate(839.99,153.15) scale(0.902,1)" font-size="36.64">c</text>
<text transform="translate(855.70,153.15) scale(0.990,1)" font-size="36.64">h</text>
<text transform="translate(872.42,153.15) scale(0.921,1)" font-size="36.64">=</text>
<text transform="translate(890.97,153.15) scale(0.919,1)" font-size="36.64">2</text>
<text transform="translate(908.13,153.15) scale(0.908,1)" font-size="36.64">0</text>
<text transform="translate(925.38,153.15) scale(0.908,1)" font-size="36.64">0</text>
<line x1="700" y1="179.90" x2="770.6" y2="179.90" stroke="#a874e0" stroke-width="2"/>
<text transform="translate(786.32,192.20) scale(0.737,1)" font-size="36.64">R</text>
<text transform="translate(804.96,192.20) scale(0.973,1)" font-size="36.64">e</text>
<text transform="translate(821.48,192.20) scale(1.023,1)" font-size="36.64">a</text>
<text transform="translate(840.67,192.20) scale(1.331,1)" font-size="36.64">l</text>
<text transform="translate(872.23,192.20) scale(0.945,1)" font-size="36.64">S</text>
<text transform="translate(890.85,192.20) scale(0.631,1)" font-size="36.64">O</text>
<text transform="translate(908.39,192.20) scale(0.674,1)" font-size="36.64">C</text>
</svg></body></html>
